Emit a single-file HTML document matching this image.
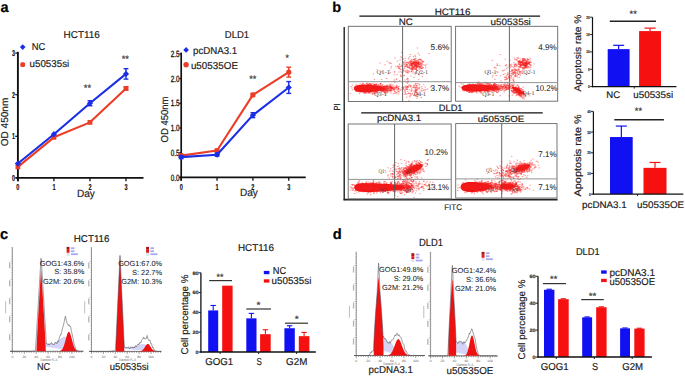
<!DOCTYPE html>
<html><head><meta charset="utf-8"><style>
html,body{margin:0;padding:0;background:#fff;}
body{width:685px;height:376px;overflow:hidden;}
svg{display:block;font-family:"Liberation Sans",sans-serif;text-rendering:geometricPrecision;}
</style></head><body>
<svg width="685" height="376" viewBox="0 0 685 376">
<rect width="685" height="376" fill="#fff"/>
<text x="0.40" y="11.60" font-size="14.5" font-weight="bold" fill="#000" stroke="#000" stroke-width="0.18">a</text>
<text x="63.60" y="38.30" font-size="10" textLength="36.2" lengthAdjust="spacingAndGlyphs" fill="#1a1a1a" stroke="#1a1a1a" stroke-width="0.18">HCT116</text>
<line x1="17.90" y1="51.80" x2="17.90" y2="181.20" stroke="#111" stroke-width="1.9"/>
<line x1="15.80" y1="177.90" x2="143.50" y2="177.90" stroke="#111" stroke-width="1.9"/>
<line x1="15.20" y1="177.90" x2="17.90" y2="177.90" stroke="#111" stroke-width="1.2"/>
<text x="13.50" y="180.70" font-size="8.6" font-weight="bold" text-anchor="middle" textLength="3.0" lengthAdjust="spacingAndGlyphs" fill="#111" stroke="#111" stroke-width="0.18">0</text>
<line x1="15.20" y1="136.30" x2="17.90" y2="136.30" stroke="#111" stroke-width="1.2"/>
<text x="13.50" y="139.10" font-size="8.6" font-weight="bold" text-anchor="middle" textLength="3.0" lengthAdjust="spacingAndGlyphs" fill="#111" stroke="#111" stroke-width="0.18">1</text>
<line x1="15.20" y1="94.70" x2="17.90" y2="94.70" stroke="#111" stroke-width="1.2"/>
<text x="13.50" y="97.50" font-size="8.6" font-weight="bold" text-anchor="middle" textLength="3.0" lengthAdjust="spacingAndGlyphs" fill="#111" stroke="#111" stroke-width="0.18">2</text>
<line x1="15.20" y1="53.10" x2="17.90" y2="53.10" stroke="#111" stroke-width="1.2"/>
<text x="13.50" y="55.90" font-size="8.6" font-weight="bold" text-anchor="middle" textLength="3.0" lengthAdjust="spacingAndGlyphs" fill="#111" stroke="#111" stroke-width="0.18">3</text>
<line x1="17.90" y1="177.90" x2="17.90" y2="181.30" stroke="#111" stroke-width="1.3"/>
<text x="17.90" y="189.80" font-size="8.6" font-weight="bold" text-anchor="middle" textLength="3.1" lengthAdjust="spacingAndGlyphs" fill="#111" stroke="#111" stroke-width="0.18">0</text>
<line x1="53.93" y1="177.90" x2="53.93" y2="181.30" stroke="#111" stroke-width="1.3"/>
<text x="53.93" y="189.80" font-size="8.6" font-weight="bold" text-anchor="middle" textLength="3.1" lengthAdjust="spacingAndGlyphs" fill="#111" stroke="#111" stroke-width="0.18">1</text>
<line x1="89.96" y1="177.90" x2="89.96" y2="181.30" stroke="#111" stroke-width="1.3"/>
<text x="89.96" y="189.80" font-size="8.6" font-weight="bold" text-anchor="middle" textLength="3.1" lengthAdjust="spacingAndGlyphs" fill="#111" stroke="#111" stroke-width="0.18">2</text>
<line x1="125.99" y1="177.90" x2="125.99" y2="181.30" stroke="#111" stroke-width="1.3"/>
<text x="125.99" y="189.80" font-size="8.6" font-weight="bold" text-anchor="middle" textLength="3.1" lengthAdjust="spacingAndGlyphs" fill="#111" stroke="#111" stroke-width="0.18">3</text>
<text x="76.90" y="196.60" font-size="10.5" textLength="17.9" lengthAdjust="spacingAndGlyphs" fill="#222" stroke="#222" stroke-width="0.18">Day</text>
<text transform="translate(7.60,122.00) rotate(-90)" font-size="10" text-anchor="middle" textLength="48.5" lengthAdjust="spacingAndGlyphs" fill="#222" stroke="#222" stroke-width="0.18">OD 450nm</text>
<polyline points="17.90,166.88 53.93,137.34 89.96,122.36 125.99,88.46" fill="none" stroke="#ec3d28" stroke-width="2.1" stroke-linejoin="round"/>
<rect x="15.50" y="164.48" width="4.80" height="4.80" fill="#ec3d28"/>
<rect x="51.53" y="134.94" width="4.80" height="4.80" fill="#ec3d28"/>
<rect x="87.56" y="119.96" width="4.80" height="4.80" fill="#ec3d28"/>
<line x1="125.99" y1="86.80" x2="125.99" y2="90.12" stroke="#ec3d28" stroke-width="1.4"/>
<line x1="123.59" y1="86.80" x2="128.39" y2="86.80" stroke="#ec3d28" stroke-width="1.4"/>
<line x1="123.59" y1="90.12" x2="128.39" y2="90.12" stroke="#ec3d28" stroke-width="1.4"/>
<rect x="123.59" y="86.06" width="4.80" height="4.80" fill="#ec3d28"/>
<polyline points="17.90,163.55 53.93,134.22 89.96,103.23 125.99,73.90" fill="none" stroke="#1a2ee6" stroke-width="2.1" stroke-linejoin="round"/>
<path d="M17.90 160.45l3.1 3.1-3.1 3.1-3.1-3.1z" fill="#1a2ee6"/>
<path d="M53.93 131.12l3.1 3.1-3.1 3.1-3.1-3.1z" fill="#1a2ee6"/>
<line x1="89.96" y1="100.73" x2="89.96" y2="105.72" stroke="#1a2ee6" stroke-width="1.4"/>
<line x1="87.56" y1="100.73" x2="92.36" y2="100.73" stroke="#1a2ee6" stroke-width="1.4"/>
<line x1="87.56" y1="105.72" x2="92.36" y2="105.72" stroke="#1a2ee6" stroke-width="1.4"/>
<path d="M89.96 100.13l3.1 3.1-3.1 3.1-3.1-3.1z" fill="#1a2ee6"/>
<line x1="125.99" y1="68.70" x2="125.99" y2="79.10" stroke="#1a2ee6" stroke-width="1.4"/>
<line x1="123.59" y1="68.70" x2="128.39" y2="68.70" stroke="#1a2ee6" stroke-width="1.4"/>
<line x1="123.59" y1="79.10" x2="128.39" y2="79.10" stroke="#1a2ee6" stroke-width="1.4"/>
<path d="M125.99 70.80l3.1 3.1-3.1 3.1-3.1-3.1z" fill="#1a2ee6"/>
<path d="M22.7 44.3l2.8 2.8-2.8 2.8-2.8-2.8z" fill="#1a2ee6"/>
<text x="31.70" y="50.30" font-size="10" textLength="13.6" lengthAdjust="spacingAndGlyphs" fill="#1a1a1a" stroke="#1a1a1a" stroke-width="0.18">NC</text>
<rect x="20.30" y="62.20" width="4.80" height="4.80" fill="#ec3d28" rx="1.6"/>
<text x="29.60" y="67.30" font-size="10" textLength="39.6" lengthAdjust="spacingAndGlyphs" fill="#1a1a1a" stroke="#1a1a1a" stroke-width="0.18">u50535si</text>
<text x="87.40" y="91.40" font-size="9.4" text-anchor="middle" textLength="7.2" lengthAdjust="spacingAndGlyphs" fill="#333" stroke="#333" stroke-width="0.18">**</text>
<text x="125.30" y="62.40" font-size="9.4" text-anchor="middle" textLength="7.2" lengthAdjust="spacingAndGlyphs" fill="#333" stroke="#333" stroke-width="0.18">**</text>
<text x="224.80" y="38.30" font-size="10" textLength="24.2" lengthAdjust="spacingAndGlyphs" fill="#1a1a1a" stroke="#1a1a1a" stroke-width="0.18">DLD1</text>
<line x1="181.20" y1="52.60" x2="181.20" y2="180.70" stroke="#111" stroke-width="1.7"/>
<line x1="179.40" y1="177.40" x2="305.70" y2="177.40" stroke="#111" stroke-width="1.8"/>
<line x1="179.30" y1="177.40" x2="181.20" y2="177.40" stroke="#111" stroke-width="1.2"/>
<text x="179.60" y="180.50" font-size="9.0" text-anchor="end" textLength="8.8" lengthAdjust="spacingAndGlyphs" fill="#111" stroke="#111" stroke-width="0.3">0.0</text>
<line x1="179.30" y1="152.70" x2="181.20" y2="152.70" stroke="#111" stroke-width="1.2"/>
<text x="179.60" y="155.80" font-size="9.0" text-anchor="end" textLength="8.8" lengthAdjust="spacingAndGlyphs" fill="#111" stroke="#111" stroke-width="0.3">0.5</text>
<line x1="179.30" y1="128.00" x2="181.20" y2="128.00" stroke="#111" stroke-width="1.2"/>
<text x="179.60" y="131.10" font-size="9.0" text-anchor="end" textLength="8.8" lengthAdjust="spacingAndGlyphs" fill="#111" stroke="#111" stroke-width="0.3">1.0</text>
<line x1="179.30" y1="103.30" x2="181.20" y2="103.30" stroke="#111" stroke-width="1.2"/>
<text x="179.60" y="106.40" font-size="9.0" text-anchor="end" textLength="8.8" lengthAdjust="spacingAndGlyphs" fill="#111" stroke="#111" stroke-width="0.3">1.5</text>
<line x1="179.30" y1="78.60" x2="181.20" y2="78.60" stroke="#111" stroke-width="1.2"/>
<text x="179.60" y="81.70" font-size="9.0" text-anchor="end" textLength="8.8" lengthAdjust="spacingAndGlyphs" fill="#111" stroke="#111" stroke-width="0.3">2.0</text>
<line x1="179.30" y1="53.90" x2="181.20" y2="53.90" stroke="#111" stroke-width="1.2"/>
<text x="179.60" y="57.00" font-size="9.0" text-anchor="end" textLength="8.8" lengthAdjust="spacingAndGlyphs" fill="#111" stroke="#111" stroke-width="0.3">2.5</text>
<line x1="181.20" y1="177.40" x2="181.20" y2="180.70" stroke="#111" stroke-width="1.3"/>
<text x="181.20" y="189.60" font-size="8.6" font-weight="bold" text-anchor="middle" textLength="3.1" lengthAdjust="spacingAndGlyphs" fill="#111" stroke="#111" stroke-width="0.18">0</text>
<line x1="217.05" y1="177.40" x2="217.05" y2="180.70" stroke="#111" stroke-width="1.3"/>
<text x="217.05" y="189.60" font-size="8.6" font-weight="bold" text-anchor="middle" textLength="3.1" lengthAdjust="spacingAndGlyphs" fill="#111" stroke="#111" stroke-width="0.18">1</text>
<line x1="252.90" y1="177.40" x2="252.90" y2="180.70" stroke="#111" stroke-width="1.3"/>
<text x="252.90" y="189.60" font-size="8.6" font-weight="bold" text-anchor="middle" textLength="3.1" lengthAdjust="spacingAndGlyphs" fill="#111" stroke="#111" stroke-width="0.18">2</text>
<line x1="288.75" y1="177.40" x2="288.75" y2="180.70" stroke="#111" stroke-width="1.3"/>
<text x="288.75" y="189.60" font-size="8.6" font-weight="bold" text-anchor="middle" textLength="3.1" lengthAdjust="spacingAndGlyphs" fill="#111" stroke="#111" stroke-width="0.18">3</text>
<text x="240.00" y="196.40" font-size="10.5" textLength="17.9" lengthAdjust="spacingAndGlyphs" fill="#222" stroke="#222" stroke-width="0.18">Day</text>
<text transform="translate(167.80,119.50) rotate(-90)" font-size="10" text-anchor="middle" textLength="46.0" lengthAdjust="spacingAndGlyphs" fill="#222" stroke="#222" stroke-width="0.18">OD 450nm</text>
<polyline points="181.20,155.66 217.05,150.48 252.90,94.90 288.75,72.18" fill="none" stroke="#ec3d28" stroke-width="2.1" stroke-linejoin="round"/>
<line x1="181.20" y1="154.18" x2="181.20" y2="157.15" stroke="#ec3d28" stroke-width="1.4"/>
<line x1="178.80" y1="154.18" x2="183.60" y2="154.18" stroke="#ec3d28" stroke-width="1.4"/>
<line x1="178.80" y1="157.15" x2="183.60" y2="157.15" stroke="#ec3d28" stroke-width="1.4"/>
<circle cx="181.20" cy="155.66" r="2.6" fill="#ec3d28"/>
<line x1="217.05" y1="149.00" x2="217.05" y2="151.96" stroke="#ec3d28" stroke-width="1.4"/>
<line x1="214.65" y1="149.00" x2="219.45" y2="149.00" stroke="#ec3d28" stroke-width="1.4"/>
<line x1="214.65" y1="151.96" x2="219.45" y2="151.96" stroke="#ec3d28" stroke-width="1.4"/>
<circle cx="217.05" cy="150.48" r="2.6" fill="#ec3d28"/>
<line x1="252.90" y1="93.42" x2="252.90" y2="96.38" stroke="#ec3d28" stroke-width="1.4"/>
<line x1="250.50" y1="93.42" x2="255.30" y2="93.42" stroke="#ec3d28" stroke-width="1.4"/>
<line x1="250.50" y1="96.38" x2="255.30" y2="96.38" stroke="#ec3d28" stroke-width="1.4"/>
<circle cx="252.90" cy="94.90" r="2.6" fill="#ec3d28"/>
<line x1="288.75" y1="67.24" x2="288.75" y2="77.12" stroke="#ec3d28" stroke-width="1.4"/>
<line x1="286.35" y1="67.24" x2="291.15" y2="67.24" stroke="#ec3d28" stroke-width="1.4"/>
<line x1="286.35" y1="77.12" x2="291.15" y2="77.12" stroke="#ec3d28" stroke-width="1.4"/>
<circle cx="288.75" cy="72.18" r="2.6" fill="#ec3d28"/>
<polyline points="181.20,157.15 217.05,154.68 252.90,115.16 288.75,87.49" fill="none" stroke="#1a2ee6" stroke-width="2.1" stroke-linejoin="round"/>
<line x1="181.20" y1="155.66" x2="181.20" y2="158.63" stroke="#1a2ee6" stroke-width="1.4"/>
<line x1="178.80" y1="155.66" x2="183.60" y2="155.66" stroke="#1a2ee6" stroke-width="1.4"/>
<line x1="178.80" y1="158.63" x2="183.60" y2="158.63" stroke="#1a2ee6" stroke-width="1.4"/>
<path d="M181.20 154.05l3.1 3.1-3.1 3.1-3.1-3.1z" fill="#1a2ee6"/>
<line x1="217.05" y1="153.19" x2="217.05" y2="156.16" stroke="#1a2ee6" stroke-width="1.4"/>
<line x1="214.65" y1="153.19" x2="219.45" y2="153.19" stroke="#1a2ee6" stroke-width="1.4"/>
<line x1="214.65" y1="156.16" x2="219.45" y2="156.16" stroke="#1a2ee6" stroke-width="1.4"/>
<path d="M217.05 151.58l3.1 3.1-3.1 3.1-3.1-3.1z" fill="#1a2ee6"/>
<line x1="252.90" y1="112.69" x2="252.90" y2="117.63" stroke="#1a2ee6" stroke-width="1.4"/>
<line x1="250.50" y1="112.69" x2="255.30" y2="112.69" stroke="#1a2ee6" stroke-width="1.4"/>
<line x1="250.50" y1="117.63" x2="255.30" y2="117.63" stroke="#1a2ee6" stroke-width="1.4"/>
<path d="M252.90 112.06l3.1 3.1-3.1 3.1-3.1-3.1z" fill="#1a2ee6"/>
<line x1="288.75" y1="81.56" x2="288.75" y2="93.42" stroke="#1a2ee6" stroke-width="1.4"/>
<line x1="286.35" y1="81.56" x2="291.15" y2="81.56" stroke="#1a2ee6" stroke-width="1.4"/>
<line x1="286.35" y1="93.42" x2="291.15" y2="93.42" stroke="#1a2ee6" stroke-width="1.4"/>
<path d="M288.75 84.39l3.1 3.1-3.1 3.1-3.1-3.1z" fill="#1a2ee6"/>
<path d="M186.1 47.1l2.8 2.8-2.8 2.8-2.8-2.8z" fill="#1a2ee6"/>
<text x="193.00" y="53.60" font-size="10" textLength="44.2" lengthAdjust="spacingAndGlyphs" fill="#1a1a1a" stroke="#1a1a1a" stroke-width="0.18">pcDNA3.1</text>
<circle cx="186.1" cy="64.7" r="2.7" fill="#ec3d28"/>
<text x="190.90" y="69.30" font-size="10" textLength="47.1" lengthAdjust="spacingAndGlyphs" fill="#1a1a1a" stroke="#1a1a1a" stroke-width="0.18">u50535OE</text>
<text x="252.80" y="81.80" font-size="9.4" text-anchor="middle" textLength="7.2" lengthAdjust="spacingAndGlyphs" fill="#333" stroke="#333" stroke-width="0.18">**</text>
<text x="287.10" y="61.30" font-size="9.4" text-anchor="middle" textLength="3.4" lengthAdjust="spacingAndGlyphs" fill="#333" stroke="#333" stroke-width="0.18">*</text>
<text x="332.30" y="11.60" font-size="14.5" font-weight="bold" fill="#000" stroke="#000" stroke-width="0.18">b</text>
<text x="434.70" y="14.90" font-size="9.2" textLength="35.8" lengthAdjust="spacingAndGlyphs" fill="#1a1a1a" stroke="#1a1a1a" stroke-width="0.18">HCT116</text>
<line x1="359.40" y1="16.10" x2="540.10" y2="16.10" stroke="#111" stroke-width="1.4"/>
<text x="398.70" y="25.10" font-size="9.4" textLength="14.1" lengthAdjust="spacingAndGlyphs" fill="#1a1a1a" stroke="#1a1a1a" stroke-width="0.18">NC</text>
<text x="490.60" y="24.90" font-size="9.2" textLength="40.2" lengthAdjust="spacingAndGlyphs" fill="#1a1a1a" stroke="#1a1a1a" stroke-width="0.18">u50535si</text>
<text x="438.80" y="111.00" font-size="9.2" textLength="23.7" lengthAdjust="spacingAndGlyphs" fill="#1a1a1a" stroke="#1a1a1a" stroke-width="0.18">DLD1</text>
<line x1="361.20" y1="112.90" x2="542.70" y2="112.90" stroke="#111" stroke-width="1.4"/>
<text x="377.00" y="120.60" font-size="9.0" textLength="44.2" lengthAdjust="spacingAndGlyphs" fill="#1a1a1a" stroke="#1a1a1a" stroke-width="0.18">pcDNA3.1</text>
<text x="477.70" y="121.80" font-size="9.0" textLength="46.5" lengthAdjust="spacingAndGlyphs" fill="#1a1a1a" stroke="#1a1a1a" stroke-width="0.18">u50535OE</text>
<line x1="344.20" y1="27.00" x2="344.20" y2="200.30" stroke="#111" stroke-width="1.3"/>
<line x1="343.60" y1="199.70" x2="557.60" y2="199.70" stroke="#222" stroke-width="1.7"/>
<text transform="translate(339.70,106.90) rotate(-90)" font-size="8.8" text-anchor="middle" textLength="7.0" lengthAdjust="spacingAndGlyphs" fill="#222" stroke="#222" stroke-width="0.18">PI</text>
<text x="444.20" y="209.70" font-size="8.1" textLength="17.7" lengthAdjust="spacingAndGlyphs" fill="#222" stroke="#222" stroke-width="0.1">FITC</text>
<path d="M354 88.4C354 85.6 358 84.6 366 84.8C375 85.2 382 86.4 386 88.4C382 90.5 375 91.8 366 92.2C358 92.4 354 91.2 354 88.4Z" fill="#f31111"/>
<path d="M370.0 90.7h.4M372.1 86.5h.4M368.1 86.6h.4M363.8 88.8h.4M366.8 86.9h.4M363.1 89.8h.4M370.4 88.9h.4M379.4 86.5h.4M366.6 88.6h.4M365.7 87.7h.4M373.4 90.3h.4M372.5 87.1h.4M370.7 87.5h.4M363.5 90.9h.4M369.8 93.1h.4M374.9 92.6h.4M360.6 88.5h.4M366.8 88.9h.4M356.7 91.6h.4M361.0 88.1h.4M357.1 86.3h.4M368.4 88.6h.4M361.1 89.3h.4M371.9 86.7h.4M371.1 84.9h.4M368.7 85.4h.4M352.4 89.8h.4M366.2 86.8h.4M369.7 88.1h.4M370.8 88.8h.4M359.3 89.7h.4M366.7 87.7h.4M363.2 89.4h.4M364.3 86.5h.4M377.4 87.6h.4M364.3 86.2h.4M369.8 90.8h.4M376.2 88.3h.4M365.9 86.8h.4M369.2 87.7h.4M370.8 87.9h.4M370.4 89.9h.4M361.4 85.0h.4M370.5 86.2h.4M379.5 87.6h.4M359.2 93.7h.4M376.0 90.4h.4M370.8 88.2h.4M365.5 89.9h.4M384.0 92.7h.4M375.3 87.9h.4M361.6 87.6h.4M370.5 90.9h.4M374.0 89.4h.4M368.7 89.8h.4M374.8 87.3h.4M369.5 92.4h.4M374.7 92.0h.4M380.1 89.6h.4M365.3 89.8h.4M371.4 84.1h.4M366.8 89.7h.4M370.9 88.0h.4M361.7 89.3h.4M365.9 89.8h.4M368.6 87.7h.4M376.3 84.8h.4M378.0 89.2h.4M360.7 86.8h.4M364.4 87.7h.4M374.5 87.1h.4M356.1 87.7h.4M366.8 83.6h.4M369.3 91.0h.4M378.8 88.9h.4M374.8 90.7h.4M367.7 92.6h.4M367.4 88.4h.4M368.2 84.6h.4M380.7 86.5h.4M367.0 85.9h.4M367.9 87.3h.4M372.5 88.6h.4M369.2 84.2h.4M368.6 89.1h.4M362.2 85.2h.4M369.9 89.0h.4M366.9 88.2h.4M378.2 87.7h.4M374.6 88.2h.4M369.8 87.3h.4M374.7 87.1h.4M367.6 84.9h.4M377.4 88.3h.4M370.0 92.3h.4M374.1 92.6h.4M361.0 91.2h.4M372.4 89.9h.4M358.2 87.0h.4M355.8 91.4h.4M367.9 88.3h.4M363.7 88.3h.4M371.1 87.8h.4M385.7 88.6h.4M364.2 87.5h.4M365.6 88.2h.4M371.4 86.1h.4M373.5 87.6h.4M368.8 93.2h.4M368.6 88.3h.4M374.9 87.9h.4M373.6 89.5h.4M362.8 89.9h.4M369.4 86.1h.4M370.2 88.0h.4M362.6 90.3h.4M371.8 89.0h.4M364.0 88.7h.4M376.8 91.7h.4M371.3 87.0h.4M370.6 88.6h.4M365.9 87.3h.4M369.2 91.5h.4M356.0 84.3h.4M362.1 87.0h.4M372.5 87.3h.4M355.1 89.8h.4M375.9 89.7h.4M357.8 91.3h.4M375.3 85.1h.4M364.1 90.0h.4M375.5 87.8h.4M370.9 87.0h.4M359.2 89.5h.4M378.7 86.5h.4M380.1 84.0h.4M369.5 87.6h.4M368.1 85.3h.4M368.9 87.0h.4M363.2 89.2h.4M377.7 89.1h.4M366.2 91.7h.4M369.6 88.0h.4M364.4 85.2h.4M365.6 86.8h.4M361.1 86.5h.4M378.8 85.8h.4M368.9 89.3h.4M376.8 87.0h.4M370.1 84.2h.4M365.1 89.9h.4M367.7 88.2h.4M366.1 89.1h.4M370.1 88.6h.4M367.4 89.7h.4M367.9 88.5h.4M360.3 91.0h.4M364.4 89.3h.4M381.6 89.2h.4M365.3 89.3h.4M362.6 85.3h.4M372.4 88.1h.4M379.9 87.9h.4M359.8 88.8h.4M368.5 85.5h.4M365.6 91.8h.4M357.7 88.6h.4M375.1 85.9h.4M369.8 84.8h.4M370.5 87.8h.4M364.7 88.2h.4M373.2 86.9h.4M366.2 88.6h.4M369.0 87.1h.4M362.2 89.6h.4M361.5 86.9h.4M379.3 88.3h.4M366.5 90.5h.4M372.0 93.8h.4M369.8 86.3h.4M366.9 87.4h.4M366.4 86.6h.4M374.4 90.0h.4M367.9 86.0h.4M368.9 87.4h.4M370.2 88.3h.4M378.2 86.3h.4M374.8 86.4h.4M372.7 87.4h.4M366.1 84.0h.4M360.3 85.4h.4M376.6 87.5h.4M376.8 88.7h.4M369.0 88.0h.4M373.8 84.7h.4M375.5 87.4h.4M375.8 90.1h.4M376.4 89.6h.4M366.8 88.2h.4M380.6 86.5h.4M361.3 89.7h.4M376.0 87.2h.4M373.5 85.9h.4M376.1 86.7h.4M383.2 91.4h.4M380.4 88.9h.4M362.0 90.8h.4M358.2 87.4h.4M375.7 90.4h.4M362.9 87.1h.4M369.9 88.1h.4M375.9 93.6h.4M358.5 90.0h.4M355.2 87.3h.4M371.8 88.2h.4M370.3 89.1h.4M368.3 90.9h.4M370.3 87.4h.4M364.0 84.7h.4M359.4 87.8h.4M368.8 88.4h.4M363.2 88.6h.4M358.5 91.2h.4M373.5 89.1h.4M369.6 90.1h.4M372.8 86.1h.4M363.1 90.2h.4M365.4 92.8h.4M363.0 90.0h.4M363.8 88.9h.4M371.4 88.7h.4M364.5 92.2h.4M372.5 86.5h.4M372.4 88.2h.4M384.2 89.4h.4M360.3 90.0h.4M376.2 87.5h.4M369.4 89.0h.4M369.9 87.8h.4M359.9 88.7h.4M366.8 88.1h.4M375.2 86.0h.4M369.4 88.4h.4M370.6 90.2h.4M368.0 86.4h.4M378.1 87.9h.4M369.8 89.8h.4M354.6 86.2h.4M365.2 88.8h.4M356.2 86.2h.4M366.3 93.3h.4M379.3 92.6h.4M370.3 87.9h.4M361.8 90.0h.4M363.4 88.7h.4M377.9 88.6h.4M371.1 91.7h.4M370.3 85.6h.4M369.6 90.6h.4M370.3 88.3h.4M375.6 91.4h.4M373.9 88.8h.4M371.5 87.0h.4M362.7 89.0h.4M373.6 89.9h.4M365.2 88.5h.4M377.7 89.4h.4M361.1 87.3h.4M369.0 83.9h.4M369.9 90.3h.4M360.7 89.9h.4M382.1 88.7h.4M380.2 88.5h.4M366.8 90.6h.4M375.4 87.4h.4M372.7 86.9h.4M351.7 88.0h.4M371.8 90.9h.4M369.6 85.5h.4M370.6 90.9h.4M362.5 87.1h.4M368.1 86.1h.4M368.8 91.0h.4M378.3 88.2h.4M372.3 85.7h.4M370.0 87.6h.4M380.7 90.4h.4M366.1 90.9h.4M367.3 87.5h.4M357.3 89.3h.4M381.0 89.9h.4M376.8 87.0h.4M376.4 89.1h.4M374.7 88.3h.4M370.8 87.3h.4M371.5 87.4h.4M368.2 88.5h.4M368.6 88.5h.4M370.4 87.2h.4M380.6 87.5h.4M373.9 90.7h.4M369.6 88.8h.4M365.9 90.3h.4M365.6 90.9h.4M381.2 89.6h.4M373.5 93.2h.4M370.5 86.7h.4M367.6 90.1h.4M362.2 87.7h.4M369.5 92.3h.4M376.1 92.0h.4M367.3 84.3h.4M368.4 86.4h.4M368.5 89.8h.4M370.8 90.1h.4M358.8 89.9h.4M368.4 88.3h.4M364.0 89.4h.4M376.2 89.8h.4M364.6 88.2h.4M374.0 90.6h.4M380.7 83.7h.4M367.8 89.7h.4M365.8 86.2h.4M371.3 90.4h.4M370.0 87.9h.4M363.0 86.5h.4M373.2 89.2h.4M384.1 86.5h.4M368.2 86.5h.4M368.6 85.1h.4M362.7 88.3h.4M372.2 89.4h.4M361.3 90.5h.4M362.3 88.1h.4M379.0 90.6h.4M363.7 88.4h.4M377.6 88.2h.4M380.7 89.6h.4M371.8 90.6h.4M373.9 87.7h.4M383.7 87.9h.4M368.6 88.1h.4M365.8 88.6h.4M360.5 86.5h.4M370.3 90.6h.4M380.4 87.6h.4M376.7 89.4h.4M363.4 86.7h.4M364.0 89.2h.4M366.5 89.2h.4M372.0 87.5h.4M368.6 92.6h.4M371.5 89.2h.4M372.1 92.1h.4M367.9 90.4h.4M369.7 87.0h.4M371.4 87.6h.4M369.4 89.3h.4M373.5 88.5h.4M383.1 88.5h.4M374.1 87.8h.4M370.4 84.6h.4M358.2 87.9h.4M372.7 83.7h.4M356.4 89.2h.4M360.1 86.9h.4M376.0 86.9h.4M374.9 87.9h.4M369.0 89.0h.4M358.0 85.4h.4M367.4 84.7h.4M365.2 86.2h.4M374.5 84.1h.4M385.8 86.4h.4M371.5 91.7h.4M364.5 86.2h.4M361.8 89.8h.4M369.6 85.5h.4M368.8 89.0h.4M361.9 87.7h.4M370.8 88.3h.4M361.9 89.6h.4M377.8 92.1h.4M377.4 88.8h.4M377.6 88.7h.4M366.7 86.4h.4M373.6 89.6h.4M369.1 87.9h.4M367.3 90.1h.4M367.6 88.3h.4M360.9 92.1h.4M359.9 84.2h.4M375.6 87.8h.4M368.7 90.3h.4M371.5 87.7h.4M377.0 86.7h.4M357.9 87.8h.4M364.5 85.5h.4M371.2 88.6h.4M372.7 93.5h.4M367.4 90.8h.4M377.2 86.1h.4M371.5 86.6h.4M361.5 87.6h.4M363.5 90.5h.4M375.6 86.7h.4M373.2 87.0h.4M356.7 90.3h.4M379.4 90.2h.4M374.2 87.6h.4M379.4 86.1h.4M367.3 85.1h.4M367.9 86.9h.4M362.1 83.7h.4M387.8 90.0h.4M368.8 87.1h.4M381.1 89.4h.4M365.5 92.3h.4M371.1 90.9h.4M358.3 86.0h.4M367.3 90.2h.4M376.9 90.8h.4M361.2 86.8h.4M377.5 86.4h.4M372.4 88.2h.4M362.7 85.0h.4M366.5 91.5h.4M366.8 83.3h.4M369.7 86.1h.4M366.2 87.8h.4M364.2 87.9h.4M367.9 88.7h.4M362.8 89.0h.4M361.0 88.0h.4M369.7 90.8h.4M376.2 83.9h.4M359.3 88.4h.4M370.0 86.9h.4M365.5 88.7h.4M363.2 88.9h.4M376.0 86.5h.4M366.4 87.1h.4M380.5 90.1h.4M364.5 89.1h.4M372.7 87.0h.4M368.4 92.7h.4M364.7 93.2h.4M374.1 85.3h.4M368.9 89.0h.4M374.2 93.7h.4M369.7 90.0h.4M362.4 88.9h.4M369.3 88.0h.4M370.4 87.3h.4M376.7 88.0h.4M363.7 87.2h.4M369.7 90.0h.4M357.9 87.6h.4M374.6 87.5h.4M362.4 85.9h.4M357.4 88.3h.4M369.6 86.5h.4M377.7 88.0h.4M359.3 90.6h.4M362.4 89.2h.4M364.8 89.5h.4M362.1 89.1h.4M372.7 88.5h.4M364.3 88.1h.4M364.9 87.8h.4M374.1 90.0h.4M364.7 86.1h.4M373.0 91.2h.4M363.2 88.5h.4M361.5 86.8h.4M357.2 87.4h.4M383.0 87.0h.4M367.8 88.7h.4M371.7 86.9h.4M369.8 90.8h.4M371.1 86.8h.4M370.3 83.6h.4M383.4 86.9h.4M362.7 84.2h.4M359.1 88.3h.4M362.9 90.6h.4M360.7 89.8h.4M375.2 85.6h.4M375.7 86.8h.4M363.3 92.1h.4M360.3 89.1h.4M367.5 88.4h.4M379.7 90.6h.4M350.3 93.6h.4M373.7 91.1h.4M362.5 88.7h.4M377.3 89.1h.4M362.5 89.7h.4M368.0 87.1h.4M359.5 86.2h.4M363.2 88.5h.4M379.7 86.4h.4M375.7 88.3h.4M367.2 88.6h.4M363.9 93.3h.4M356.7 86.6h.4M367.2 88.1h.4M369.8 88.1h.4M369.4 89.3h.4M369.3 90.6h.4M362.1 87.4h.4M369.5 86.7h.4M369.7 85.0h.4M379.0 86.5h.4M383.1 89.5h.4M369.0 88.5h.4M364.6 86.3h.4M369.5 87.6h.4M365.7 88.5h.4M364.8 89.5h.4M369.6 87.2h.4M362.7 87.9h.4M374.2 84.6h.4M369.3 86.0h.4M371.8 91.8h.4M368.7 83.8h.4M364.9 87.7h.4M363.4 88.9h.4M368.3 87.6h.4M366.2 86.7h.4M371.6 88.3h.4M370.0 88.4h.4M360.5 88.2h.4M370.5 84.5h.4M360.6 88.1h.4M365.7 86.6h.4M367.9 87.2h.4M355.5 88.9h.4M370.6 89.7h.4M371.1 90.3h.4M368.9 87.4h.4M367.0 90.3h.4M367.4 90.9h.4M363.2 90.8h.4M368.1 91.3h.4M366.1 88.1h.4M370.6 88.0h.4M361.6 90.1h.4M371.6 85.5h.4M371.0 88.8h.4M369.0 87.3h.4M366.9 87.6h.4M373.9 84.7h.4M358.3 86.5h.4M373.2 88.4h.4M371.7 90.3h.4M372.0 90.5h.4M372.7 88.2h.4M365.4 88.0h.4M368.2 86.7h.4M374.5 89.2h.4M373.0 87.9h.4M371.4 89.7h.4M359.4 92.1h.4M373.8 88.3h.4M378.2 85.3h.4M377.1 86.6h.4M371.6 85.3h.4M359.1 85.9h.4M376.6 91.1h.4M369.0 88.9h.4M352.3 85.2h.4M372.6 89.8h.4M359.6 91.0h.4M360.9 87.6h.4M365.6 87.0h.4M378.9 87.7h.4M367.4 89.0h.4M371.9 89.7h.4M382.2 90.9h.4M381.2 90.9h.4M369.3 90.9h.4M368.3 91.3h.4M361.2 89.8h.4M365.1 85.2h.4M373.0 88.1h.4M372.8 89.1h.4M370.8 87.6h.4M377.0 90.3h.4M364.6 87.6h.4M369.6 86.5h.4M375.1 91.4h.4M374.1 89.8h.4M377.5 88.9h.4M372.8 90.3h.4M367.8 90.6h.4M372.5 89.1h.4M363.0 83.2h.4M358.5 87.0h.4M374.1 87.4h.4M369.6 86.3h.4M372.2 88.8h.4M358.1 90.9h.4M367.4 87.4h.4M365.8 86.0h.4M364.0 92.7h.4M354.2 87.5h.4M367.7 85.8h.4M376.3 88.9h.4M372.7 89.3h.4M365.8 86.9h.4M369.9 90.1h.4M375.3 87.4h.4M350.7 86.5h.4M369.1 88.8h.4M373.8 90.0h.4M374.8 87.1h.4M381.9 89.1h.4M377.9 88.2h.4M372.2 94.3h.4M372.1 86.9h.4M375.5 91.3h.4M366.2 88.3h.4M369.7 88.1h.4M376.3 89.9h.4M383.7 90.3h.4M368.9 91.1h.4M369.7 89.1h.4M371.4 87.1h.4M379.4 87.3h.4M369.8 89.5h.4M380.3 89.6h.4M363.2 91.3h.4M368.7 89.3h.4M368.6 90.6h.4M375.5 91.6h.4M377.3 88.7h.4M359.4 85.3h.4M363.6 85.9h.4M372.4 85.4h.4M365.4 91.7h.4M359.3 86.6h.4M377.3 91.0h.4M373.5 89.6h.4M373.5 92.0h.4M366.7 90.5h.4M377.2 88.2h.4M368.3 88.0h.4M383.4 89.9h.4M383.9 88.4h.4M380.3 83.6h.4M382.8 88.6h.4M391.0 86.5h.4M374.5 87.7h.4M384.3 91.6h.4M378.5 86.4h.4M383.9 86.5h.4M387.2 91.4h.4M382.7 88.8h.4M386.9 91.6h.4M375.1 89.2h.4M388.5 86.9h.4M380.0 88.5h.4M386.1 91.0h.4M383.9 90.4h.4M370.1 88.6h.4M379.2 88.7h.4M384.1 88.4h.4M390.8 87.5h.4M384.4 92.4h.4M384.3 88.6h.4M375.9 86.4h.4M390.2 87.7h.4M392.0 90.0h.4M383.1 89.9h.4M381.9 88.3h.4M374.9 87.3h.4M387.4 88.6h.4M396.5 85.3h.4M386.6 86.1h.4M389.3 90.2h.4M385.7 87.7h.4M378.1 89.3h.4M389.7 91.0h.4M376.8 89.9h.4M381.9 88.6h.4M384.4 92.8h.4M387.4 89.9h.4M385.1 87.9h.4M384.9 90.0h.4M379.2 89.4h.4M376.6 86.9h.4M383.3 88.7h.4M379.4 88.3h.4M376.5 84.8h.4M376.7 88.3h.4M380.5 88.0h.4M373.7 87.7h.4M376.3 85.4h.4M374.8 87.9h.4M383.9 88.5h.4M385.0 88.8h.4M393.0 86.4h.4M375.5 89.8h.4M379.6 86.2h.4M387.6 88.2h.4M381.9 91.1h.4M381.4 87.2h.4M391.5 87.6h.4M381.3 90.7h.4M377.2 87.9h.4M376.4 88.0h.4M384.7 89.0h.4M384.5 90.6h.4M376.1 84.3h.4M378.1 87.0h.4M385.7 86.6h.4M385.9 86.5h.4M379.8 86.9h.4M386.1 87.0h.4M385.9 89.2h.4M374.1 86.9h.4M381.4 88.8h.4M385.1 89.4h.4M380.1 87.2h.4M372.3 88.9h.4M381.6 91.8h.4M386.8 89.2h.4M390.9 87.4h.4M372.0 88.5h.4M396.1 86.8h.4M377.4 89.1h.4M387.8 90.3h.4M389.2 87.0h.4M387.9 88.2h.4M383.7 90.8h.4M377.2 87.6h.4M386.1 89.0h.4M379.4 86.6h.4M370.4 87.0h.4M397.1 87.6h.4M386.5 92.7h.4M392.1 87.8h.4M378.4 87.6h.4M390.3 87.5h.4M390.9 88.3h.4M390.8 89.8h.4M382.9 89.0h.4M377.0 92.5h.4M382.1 89.0h.4M372.0 91.4h.4M374.5 89.1h.4M383.5 89.8h.4M378.0 85.9h.4M382.2 88.4h.4M382.5 88.5h.4M392.7 88.1h.4M389.5 84.5h.4M382.8 90.3h.4M389.0 87.9h.4M379.1 87.8h.4M381.3 88.1h.4M387.6 88.2h.4M376.8 89.4h.4M381.6 86.2h.4M376.4 86.8h.4M383.6 89.2h.4M391.2 88.9h.4M379.2 87.9h.4M384.1 87.5h.4M378.5 87.0h.4M377.3 88.5h.4M376.8 90.8h.4M390.3 86.6h.4M394.8 91.5h.4M385.4 90.2h.4M379.4 87.7h.4M386.5 90.1h.4M381.3 85.8h.4M387.0 85.3h.4M384.5 86.1h.4M384.4 87.8h.4M386.0 88.0h.4M380.1 87.6h.4M381.0 88.8h.4M374.4 84.5h.4M380.8 89.5h.4M375.9 85.9h.4M382.3 87.3h.4M378.2 87.8h.4M383.5 86.4h.4M385.3 86.0h.4M375.9 86.7h.4M378.9 88.6h.4M378.3 89.7h.4M386.7 89.7h.4M391.5 86.7h.4M387.3 87.1h.4M381.3 86.9h.4M390.3 89.5h.4M375.4 84.7h.4M390.5 91.0h.4M379.7 87.7h.4M369.1 87.1h.4M396.3 89.2h.4M390.9 90.6h.4M377.8 89.3h.4M383.8 90.6h.4M381.9 88.9h.4M383.5 90.9h.4M375.6 91.0h.4M379.6 88.4h.4M385.3 91.3h.4M384.1 88.9h.4M389.0 88.8h.4M383.4 86.8h.4M394.7 88.1h.4M379.4 90.1h.4M384.3 86.1h.4M373.4 89.8h.4M376.7 89.3h.4M389.6 89.1h.4M378.3 84.4h.4M385.7 88.4h.4M382.7 89.8h.4M377.8 87.2h.4M381.3 88.8h.4M380.4 84.1h.4M380.6 89.9h.4M386.8 87.3h.4M386.3 90.3h.4M380.1 85.1h.4M378.5 89.9h.4M384.4 88.1h.4M382.5 90.1h.4M388.1 86.8h.4M396.3 87.4h.4M387.2 92.9h.4M382.8 87.0h.4M382.1 87.3h.4M378.7 88.1h.4M378.5 86.7h.4M378.0 90.9h.4M381.0 91.9h.4M380.9 87.3h.4M386.7 85.3h.4M381.0 90.8h.4M382.0 90.7h.4M376.9 90.2h.4M391.2 90.8h.4M385.5 87.0h.4M391.9 88.3h.4M387.0 86.0h.4M390.4 85.9h.4M381.8 90.5h.4M386.6 87.3h.4M396.5 92.9h.4M376.9 88.7h.4M388.9 87.4h.4M391.5 90.1h.4M385.1 92.0h.4M386.8 89.5h.4M389.4 86.3h.4M379.6 89.3h.4M385.1 91.2h.4M378.6 87.7h.4M379.5 87.1h.4M379.8 90.5h.4M382.3 88.9h.4M383.7 86.5h.4M385.3 87.9h.4M375.7 87.2h.4M393.1 89.2h.4M388.9 88.8h.4M386.7 90.8h.4M381.2 89.9h.4M382.5 85.6h.4M385.8 89.4h.4M385.1 90.3h.4M374.4 89.5h.4M386.8 90.6h.4M397.9 87.6h.4M373.5 86.8h.4M388.1 90.4h.4M384.9 86.6h.4M382.4 84.5h.4M390.0 90.5h.4M376.9 87.2h.4M383.8 88.0h.4M390.5 85.9h.4M382.0 86.1h.4M380.9 86.4h.4M383.6 87.9h.4M380.7 89.3h.4M390.9 84.2h.4M378.3 90.0h.4M387.5 86.4h.4M376.6 86.6h.4M396.4 86.7h.4M392.6 87.7h.4M385.3 93.9h.4M402.2 89.0h.4M388.7 90.8h.4M394.2 86.0h.4M394.0 89.4h.4M400.1 90.2h.4M390.7 93.0h.4M398.0 86.8h.4M389.3 90.0h.4M398.6 89.3h.4M389.2 85.9h.4M391.2 88.5h.4M402.5 87.8h.4M394.6 82.7h.4M393.5 90.0h.4M404.2 89.9h.4M394.8 87.4h.4M388.9 85.2h.4M396.7 92.2h.4M387.1 89.2h.4M398.6 91.0h.4M399.0 92.0h.4M390.1 87.2h.4M389.9 90.5h.4M393.9 87.9h.4M393.1 88.3h.4M388.1 88.3h.4M395.8 88.5h.4M382.8 91.3h.4M390.8 88.8h.4M391.0 88.1h.4M391.6 87.8h.4M394.5 89.4h.4M386.9 86.3h.4M395.9 87.2h.4M392.1 88.4h.4M389.7 87.1h.4M386.2 88.2h.4M387.1 87.0h.4M394.8 93.5h.4M388.2 91.8h.4M393.3 89.6h.4M398.3 88.4h.4M398.2 94.0h.4M400.8 89.3h.4M391.5 88.3h.4M387.6 89.3h.4M398.1 89.3h.4M394.5 92.0h.4M398.6 88.5h.4M393.1 93.7h.4M399.0 86.3h.4M397.2 90.2h.4M396.6 86.0h.4M395.5 93.0h.4M395.0 87.7h.4M394.2 88.4h.4M394.1 90.8h.4M398.0 91.6h.4M390.4 85.7h.4M401.7 87.6h.4M392.5 85.0h.4M397.9 88.8h.4M392.5 88.2h.4M391.8 87.6h.4M403.2 86.8h.4M391.5 87.5h.4M386.6 86.6h.4M417.9 62.1h.4M421.3 65.2h.4M409.2 67.5h.4M415.6 66.4h.4M414.5 62.1h.4M417.7 62.7h.4M412.7 63.3h.4M415.5 64.4h.4M412.4 67.5h.4M418.4 61.1h.4M416.3 65.7h.4M415.4 66.1h.4M417.3 66.0h.4M415.1 65.7h.4M410.6 68.4h.4M418.1 65.8h.4M417.0 66.7h.4M415.5 66.0h.4M419.4 69.2h.4M420.3 59.6h.4M412.2 67.8h.4M413.3 63.8h.4M421.4 63.8h.4M421.0 62.0h.4M413.4 59.6h.4M411.9 63.5h.4M413.8 62.7h.4M414.3 65.8h.4M410.5 60.7h.4M416.1 68.2h.4M411.5 65.2h.4M411.8 63.9h.4M419.2 62.7h.4M413.6 62.5h.4M415.7 61.6h.4M418.2 63.1h.4M418.8 64.5h.4M414.8 64.0h.4M416.2 60.8h.4M413.1 63.8h.4M422.1 62.2h.4M418.3 64.9h.4M412.1 69.3h.4M416.0 66.1h.4M418.5 63.7h.4M417.7 60.3h.4M422.4 60.8h.4M420.8 60.1h.4M414.1 66.4h.4M415.7 62.5h.4M411.5 64.7h.4M416.9 62.9h.4M416.5 64.7h.4M425.5 68.1h.4M416.3 62.7h.4M408.7 63.6h.4M413.6 62.4h.4M416.4 66.8h.4M411.6 61.8h.4M413.0 61.6h.4M414.7 60.9h.4M417.2 60.8h.4M415.4 65.7h.4M412.9 71.2h.4M418.8 61.9h.4M414.1 67.0h.4M414.3 65.2h.4M411.2 61.6h.4M413.2 63.8h.4M418.3 63.9h.4M410.3 62.7h.4M415.8 69.5h.4M418.5 59.5h.4M414.7 65.5h.4M416.8 65.4h.4M412.1 63.0h.4M420.6 64.9h.4M419.9 66.8h.4M416.8 64.9h.4M409.9 65.6h.4M412.3 66.3h.4M419.4 59.2h.4M422.0 68.3h.4M417.0 70.4h.4M420.4 67.1h.4M413.9 67.1h.4M415.3 60.8h.4M416.0 64.2h.4M417.5 62.4h.4M410.6 63.0h.4M419.3 67.0h.4M420.6 62.4h.4M412.0 64.2h.4M411.3 59.5h.4M417.2 64.1h.4M413.7 64.7h.4M407.7 62.7h.4M418.8 62.6h.4M416.5 69.4h.4M414.3 61.4h.4M423.4 61.8h.4M416.5 62.4h.4M413.4 67.6h.4M416.4 70.0h.4M412.4 65.4h.4M413.3 62.6h.4M417.4 63.4h.4M414.1 67.3h.4M414.4 62.1h.4M421.8 68.3h.4M419.0 68.2h.4M418.8 64.7h.4M417.9 66.2h.4M417.7 66.4h.4M421.1 68.5h.4M415.9 61.8h.4M422.5 67.6h.4M412.7 63.5h.4M415.1 62.5h.4M411.2 64.8h.4M414.8 63.9h.4M417.8 61.9h.4M421.1 60.3h.4M413.7 62.1h.4M416.0 68.3h.4M414.7 69.6h.4M413.4 66.2h.4M411.8 67.6h.4M416.2 63.2h.4M409.9 64.3h.4M416.4 65.2h.4M416.1 61.7h.4M413.7 61.9h.4M412.5 64.8h.4M411.2 63.7h.4M422.5 61.7h.4M411.3 65.5h.4M421.5 63.8h.4M418.1 67.2h.4M414.7 64.5h.4M412.0 63.7h.4M419.6 64.8h.4M422.1 64.1h.4M412.7 62.8h.4M415.0 63.5h.4M419.7 66.4h.4M417.2 66.2h.4M423.0 67.8h.4M414.0 60.1h.4M417.9 63.5h.4M411.6 63.4h.4M423.3 64.9h.4M413.4 63.3h.4M408.3 63.2h.4M415.6 66.5h.4M415.5 65.0h.4M422.7 61.5h.4M414.8 68.0h.4M416.0 67.1h.4M418.1 63.0h.4M421.6 66.7h.4M415.8 62.6h.4M419.6 67.4h.4M417.8 63.9h.4M415.0 62.4h.4M416.3 63.5h.4M416.1 62.5h.4M412.8 65.0h.4M420.2 65.0h.4M411.2 64.6h.4M420.1 63.1h.4M419.3 55.0h.4M415.7 64.7h.4M413.3 59.6h.4M415.2 65.1h.4M417.7 67.4h.4M418.6 65.2h.4M417.0 63.5h.4M419.5 64.0h.4M414.0 64.2h.4M416.8 63.1h.4M410.5 63.0h.4M418.7 62.1h.4M416.5 67.6h.4M414.5 64.5h.4M420.1 67.0h.4M418.4 63.8h.4M406.1 64.7h.4M416.1 64.1h.4M410.9 65.7h.4M419.7 66.6h.4M424.7 65.1h.4M414.2 62.7h.4M416.3 62.5h.4M415.1 68.8h.4M417.2 63.8h.4M418.3 63.7h.4M420.5 68.3h.4M412.5 67.3h.4M421.5 65.9h.4M406.2 66.1h.4M425.5 66.1h.4M411.8 70.2h.4M412.8 63.2h.4M407.8 72.7h.4M399.1 68.8h.4M399.7 66.9h.4M411.8 66.3h.4M411.7 69.1h.4M407.3 72.1h.4M400.8 71.7h.4M398.9 68.3h.4M406.7 71.3h.4M398.8 66.7h.4M415.3 73.5h.4M417.1 65.8h.4M428.8 53.5h.4M415.1 74.0h.4M404.9 66.6h.4M402.9 59.0h.4M384.8 64.8h.4M404.8 60.7h.4M407.8 78.6h.4M415.8 69.0h.4M413.3 56.6h.4M413.1 69.3h.4M410.5 63.6h.4M413.6 77.5h.4M419.1 59.7h.4M401.5 52.5h.4M405.8 66.4h.4M399.3 63.9h.4M420.3 63.5h.4M418.1 53.2h.4M414.3 68.6h.4M400.6 76.0h.4M410.2 54.5h.4M407.4 73.0h.4M409.6 62.6h.4M407.7 80.1h.4M412.6 68.6h.4M406.2 64.9h.4M415.0 72.6h.4M410.7 69.2h.4M406.9 62.4h.4M408.2 70.3h.4M405.9 62.9h.4M414.7 55.3h.4M407.1 78.2h.4M411.1 63.9h.4M406.3 62.3h.4M398.6 68.0h.4M415.3 56.6h.4M401.6 57.9h.4M413.8 63.0h.4M411.9 62.9h.4M397.4 66.4h.4M402.4 72.7h.4M405.4 63.2h.4M403.3 69.0h.4M400.7 69.6h.4M414.2 59.5h.4M407.3 67.4h.4M411.7 60.3h.4M406.0 72.4h.4M411.1 68.7h.4M403.7 66.1h.4M408.8 58.0h.4M413.1 66.7h.4M409.3 61.4h.4M405.8 70.2h.4M401.4 65.3h.4M410.2 61.1h.4M411.4 71.6h.4M407.2 70.3h.4M403.6 62.4h.4M412.8 73.0h.4M426.4 64.2h.4M406.9 64.1h.4M411.4 66.7h.4M411.6 61.5h.4M391.0 63.4h.4M409.9 65.0h.4M404.1 75.2h.4M418.7 75.0h.4M407.2 64.4h.4M403.6 75.7h.4M407.5 65.7h.4M410.2 68.3h.4M405.1 71.3h.4M408.6 67.8h.4M399.5 80.5h.4M407.4 67.5h.4M414.4 58.8h.4M422.8 73.8h.4M413.9 63.5h.4M410.9 64.2h.4M417.3 48.0h.4M416.1 72.0h.4M420.6 70.9h.4M416.6 70.8h.4M408.2 71.9h.4M410.8 76.1h.4M410.3 65.7h.4M411.1 71.6h.4M410.4 61.5h.4M403.5 63.9h.4M394.3 72.3h.4M404.3 68.3h.4M394.8 58.0h.4M409.5 68.2h.4M409.0 64.9h.4M397.3 61.1h.4M413.8 68.6h.4M415.1 63.6h.4M409.7 56.6h.4M420.7 59.3h.4M422.1 76.6h.4M400.6 56.9h.4M416.3 67.3h.4M412.1 69.7h.4M411.9 69.8h.4M415.5 58.6h.4M404.0 64.1h.4M404.9 66.8h.4M403.2 70.8h.4M403.7 62.1h.4M408.3 59.0h.4M398.8 72.0h.4M401.7 72.6h.4M413.0 68.2h.4M408.5 62.3h.4M411.7 68.4h.4M395.8 66.7h.4M403.5 71.0h.4M405.1 58.5h.4M409.2 66.7h.4M404.9 65.0h.4M415.5 59.3h.4M408.6 67.3h.4M413.2 87.7h.4M410.7 95.4h.4M415.2 91.8h.4M405.2 90.2h.4M412.7 87.6h.4M415.4 83.8h.4M414.6 85.3h.4M418.9 88.1h.4M406.4 89.1h.4M404.7 91.4h.4M414.3 92.2h.4M415.5 90.9h.4M424.7 90.9h.4M416.4 86.0h.4M408.2 81.4h.4M417.4 87.9h.4M408.3 86.2h.4M404.8 87.4h.4M427.4 88.9h.4M414.8 85.0h.4M416.9 85.6h.4M416.1 89.6h.4M423.0 90.5h.4M414.6 87.4h.4M419.7 92.0h.4M407.3 89.1h.4M405.3 85.9h.4M420.8 90.2h.4M421.1 97.5h.4M415.8 87.3h.4M414.2 94.7h.4M413.9 95.5h.4M409.2 96.0h.4M421.5 86.7h.4M416.6 98.1h.4M415.8 90.5h.4M415.1 89.0h.4M418.8 89.1h.4M415.8 92.4h.4M417.1 90.2h.4M406.6 89.3h.4M415.8 95.1h.4M425.0 87.1h.4M410.1 85.8h.4M412.3 93.2h.4M417.9 92.8h.4M418.3 94.4h.4M416.4 85.7h.4M404.1 94.3h.4M415.8 91.9h.4M406.5 97.1h.4M408.5 85.0h.4M416.0 90.9h.4M411.4 88.9h.4M417.5 83.6h.4M430.3 87.1h.4M417.3 94.5h.4M417.0 88.1h.4M408.1 87.1h.4M409.5 93.5h.4M407.1 94.0h.4M410.1 93.9h.4M407.0 86.8h.4M409.4 89.8h.4M411.9 94.1h.4M407.5 87.4h.4M405.2 87.0h.4M405.5 93.3h.4M415.5 96.2h.4M413.3 85.4h.4M418.6 79.6h.4M418.7 84.2h.4M411.1 86.0h.4M416.7 89.4h.4M405.1 92.5h.4M425.6 89.4h.4M419.6 87.2h.4M411.8 90.6h.4M406.6 86.2h.4M415.1 89.8h.4M402.7 87.4h.4M408.7 100.7h.4M417.1 93.3h.4M413.4 86.7h.4M410.3 86.0h.4M418.2 88.2h.4M407.3 83.4h.4M414.6 87.1h.4M410.3 87.0h.4M408.3 93.5h.4M415.5 88.3h.4M407.5 86.8h.4M423.5 84.6h.4M409.8 85.3h.4M423.9 89.7h.4M407.0 89.1h.4M416.3 94.5h.4M406.4 87.5h.4M405.6 94.2h.4M413.9 91.0h.4M416.7 90.0h.4M406.0 82.0h.4M419.5 84.8h.4M408.6 93.0h.4M413.7 95.6h.4M415.1 90.8h.4M416.3 93.1h.4M403.1 88.4h.4M421.9 88.5h.4M416.1 87.3h.4M410.7 93.9h.4M407.4 91.4h.4M403.7 89.1h.4M405.5 88.7h.4M416.0 92.2h.4M411.1 91.3h.4M406.8 86.7h.4M410.1 96.9h.4M421.6 91.0h.4M411.2 90.0h.4M406.8 79.3h.4M403.2 70.2h.4M394.3 74.9h.4M399.3 64.8h.4M386.4 78.5h.4M389.9 63.0h.4M376.9 69.8h.4M404.8 80.0h.4M379.8 63.1h.4M400.5 69.1h.4M388.4 73.3h.4M387.2 61.3h.4M393.4 81.3h.4M397.1 74.7h.4M399.9 59.9h.4M409.2 71.6h.4M397.9 65.8h.4M402.0 66.7h.4M390.2 72.6h.4M400.7 66.3h.4M396.2 79.7h.4M391.3 66.4h.4M394.2 79.9h.4M394.5 71.6h.4M396.5 78.8h.4M398.2 67.7h.4M390.9 68.0h.4M389.1 62.8h.4M401.0 76.6h.4M381.4 79.5h.4M390.1 89.0h.4M407.4 82.3h.4M373.3 74.0h.4M389.5 70.3h.4M400.5 75.1h.4M381.8 71.8h.4M415.8 83.7h.4M374.3 79.6h.4M406.5 65.3h.4M407.5 66.5h.4" stroke="#f42020" stroke-opacity="0.6" stroke-width="0.8" stroke-linecap="square" fill="none"/>
<rect x="348.30" y="26.30" width="102.90" height="75.20" fill="none" stroke="#666" stroke-width="0.9"/>
<line x1="402.60" y1="26.30" x2="402.60" y2="101.50" stroke="#555" stroke-width="0.9"/>
<line x1="348.30" y1="81.70" x2="451.20" y2="81.70" stroke="#888" stroke-width="0.9"/>
<text x="376.50" y="73.80" font-size="5.8" textLength="13.4" lengthAdjust="spacingAndGlyphs" font-family="Liberation Serif" fill="#444">Q1-1</text>
<text x="415.50" y="73.80" font-size="5.8" textLength="12.5" lengthAdjust="spacingAndGlyphs" font-family="Liberation Serif" fill="#444">Q2-1</text>
<text x="374.00" y="96.30" font-size="5.8" textLength="13.0" lengthAdjust="spacingAndGlyphs" font-family="Liberation Serif" fill="#444">Q3-1</text>
<text x="414.00" y="95.60" font-size="5.8" textLength="12.0" lengthAdjust="spacingAndGlyphs" font-family="Liberation Serif" fill="#444">Q4-1</text>
<text x="430.60" y="50.10" font-size="8.3" textLength="18.6" lengthAdjust="spacingAndGlyphs" fill="#222" stroke="#222" stroke-width="0.05">5.6%</text>
<text x="430.60" y="90.50" font-size="8.3" textLength="18.6" lengthAdjust="spacingAndGlyphs" fill="#222" stroke="#222" stroke-width="0.05">3.7%</text>
<path d="M461.5 87.9C461.5 85.3 466 84.3 476 84.6C487 85 495 86.4 499 87.9C495 89.5 487 91.1 476 91.4C466 91.6 461.5 90.6 461.5 87.9Z" fill="#f31111"/>
<path d="M511.5 86.4C515 86.3 520 89 523.5 92.3C524.5 94 522.5 94.6 519.5 93.2C515.5 91.3 512 89 511.5 86.4Z" fill="#f31111"/>
<path d="M490.3 89.1h.4M482.3 88.1h.4M478.3 87.2h.4M488.9 94.2h.4M477.1 88.0h.4M477.9 86.8h.4M476.5 86.9h.4M465.3 88.7h.4M486.5 88.7h.4M470.9 89.4h.4M475.7 88.2h.4M474.4 85.0h.4M485.5 89.0h.4M479.5 87.3h.4M480.1 87.3h.4M467.4 84.9h.4M479.3 86.8h.4M468.9 86.4h.4M482.3 87.8h.4M482.8 85.0h.4M479.9 88.0h.4M495.3 88.1h.4M484.0 85.7h.4M484.5 86.7h.4M481.1 86.2h.4M478.6 89.7h.4M487.2 82.8h.4M488.3 87.2h.4M470.2 84.6h.4M487.9 87.0h.4M483.9 89.6h.4M487.2 86.6h.4M483.5 88.2h.4M470.7 86.2h.4M471.2 91.8h.4M493.7 89.7h.4M481.9 90.2h.4M469.4 85.2h.4M482.6 85.7h.4M477.3 90.1h.4M466.2 87.5h.4M462.8 87.4h.4M468.0 88.6h.4M482.0 85.4h.4M479.6 89.4h.4M478.1 87.9h.4M482.1 88.9h.4M484.5 86.6h.4M464.2 88.9h.4M477.7 86.5h.4M473.8 89.8h.4M470.8 90.2h.4M475.9 89.7h.4M479.1 88.9h.4M478.0 89.2h.4M469.1 82.5h.4M476.4 89.6h.4M495.1 87.4h.4M472.1 88.1h.4M467.3 87.3h.4M482.1 85.1h.4M484.5 86.8h.4M483.5 89.2h.4M471.6 90.7h.4M487.5 86.7h.4M474.1 86.1h.4M471.5 90.8h.4M475.4 86.1h.4M479.2 92.0h.4M485.4 88.0h.4M484.7 86.1h.4M479.8 89.9h.4M487.0 91.3h.4M480.6 85.0h.4M486.7 91.0h.4M469.5 87.3h.4M468.2 90.9h.4M485.8 87.1h.4M469.6 84.7h.4M477.7 88.9h.4M479.3 89.8h.4M476.3 92.1h.4M476.6 91.3h.4M490.4 89.3h.4M461.0 87.4h.4M486.6 86.9h.4M497.2 87.3h.4M480.2 86.2h.4M479.9 87.4h.4M485.4 82.8h.4M493.7 88.3h.4M471.1 87.8h.4M480.7 93.0h.4M478.6 89.4h.4M484.2 86.9h.4M481.2 89.0h.4M484.9 85.4h.4M476.8 86.7h.4M480.4 84.2h.4M475.0 90.8h.4M475.0 89.1h.4M478.9 85.5h.4M478.9 87.8h.4M471.2 89.8h.4M491.8 88.9h.4M479.0 88.7h.4M469.6 86.2h.4M488.3 86.6h.4M474.4 88.1h.4M483.8 89.7h.4M479.9 86.2h.4M481.9 85.7h.4M481.3 90.2h.4M475.7 86.0h.4M480.3 90.1h.4M495.2 88.4h.4M463.2 89.7h.4M480.5 91.4h.4M483.3 89.3h.4M472.1 89.5h.4M469.7 86.1h.4M496.2 86.5h.4M477.2 89.2h.4M495.6 91.0h.4M484.0 90.7h.4M480.6 92.5h.4M483.6 88.5h.4M484.8 88.3h.4M488.8 89.9h.4M483.3 87.9h.4M481.1 87.8h.4M481.3 85.8h.4M490.1 89.9h.4M486.1 85.8h.4M472.5 88.9h.4M475.2 85.1h.4M482.5 90.1h.4M475.3 85.8h.4M477.2 89.6h.4M472.8 84.7h.4M478.0 87.0h.4M483.2 90.3h.4M487.5 86.3h.4M480.1 88.0h.4M495.6 86.9h.4M479.4 83.3h.4M504.0 88.5h.4M487.5 88.8h.4M483.7 85.7h.4M476.3 89.0h.4M458.8 86.3h.4M478.8 85.9h.4M481.3 87.9h.4M494.4 86.5h.4M469.7 92.5h.4M494.3 84.8h.4M478.1 89.4h.4M485.4 89.9h.4M461.0 83.9h.4M481.0 84.4h.4M477.4 89.0h.4M485.1 86.9h.4M480.7 88.7h.4M471.4 90.2h.4M487.1 87.2h.4M485.2 85.8h.4M484.5 82.4h.4M487.6 88.3h.4M488.3 86.0h.4M479.8 88.5h.4M469.8 88.4h.4M469.6 85.1h.4M490.1 91.3h.4M485.3 90.1h.4M480.8 89.6h.4M476.7 85.5h.4M480.2 87.1h.4M480.2 86.8h.4M477.5 87.1h.4M474.8 85.7h.4M496.2 88.8h.4M481.7 88.4h.4M475.5 88.6h.4M470.2 86.9h.4M474.6 90.5h.4M485.4 88.3h.4M485.7 82.4h.4M478.4 86.6h.4M480.4 87.8h.4M477.7 89.8h.4M471.7 87.3h.4M489.8 87.4h.4M482.8 86.6h.4M498.6 89.2h.4M474.3 87.0h.4M479.0 86.7h.4M486.6 86.4h.4M478.2 89.0h.4M469.6 86.8h.4M472.9 84.5h.4M480.8 89.1h.4M482.6 86.5h.4M479.3 88.6h.4M487.5 88.6h.4M487.4 90.3h.4M482.4 90.0h.4M480.2 86.7h.4M478.1 87.6h.4M484.1 85.3h.4M486.9 91.3h.4M480.5 88.8h.4M483.4 90.7h.4M477.6 87.3h.4M469.4 83.8h.4M472.5 91.0h.4M485.7 88.1h.4M483.4 88.2h.4M491.9 88.0h.4M480.4 89.2h.4M486.5 89.0h.4M489.9 84.7h.4M487.5 90.1h.4M475.4 86.8h.4M478.6 87.0h.4M481.0 91.4h.4M472.6 89.7h.4M483.6 87.2h.4M487.7 84.2h.4M476.4 88.2h.4M494.8 89.0h.4M477.8 87.7h.4M478.5 85.4h.4M478.2 86.3h.4M474.7 85.4h.4M483.1 88.3h.4M480.2 89.5h.4M492.5 90.0h.4M484.6 86.4h.4M484.0 88.4h.4M478.3 89.0h.4M469.4 86.9h.4M479.3 87.6h.4M473.6 92.1h.4M487.1 88.3h.4M479.8 89.7h.4M492.5 87.0h.4M485.5 88.0h.4M486.3 84.5h.4M481.7 87.8h.4M481.6 90.3h.4M484.9 92.1h.4M486.9 90.3h.4M474.7 89.3h.4M483.7 88.0h.4M499.7 86.7h.4M479.3 87.6h.4M478.1 89.1h.4M474.8 86.3h.4M469.1 89.8h.4M488.9 85.9h.4M480.5 84.3h.4M482.2 85.9h.4M493.8 84.6h.4M498.8 85.2h.4M473.3 90.2h.4M487.9 87.5h.4M484.7 88.3h.4M483.0 90.2h.4M483.6 90.4h.4M479.8 86.9h.4M491.9 90.6h.4M484.6 88.7h.4M482.6 87.9h.4M489.4 88.8h.4M486.7 85.0h.4M483.5 86.3h.4M482.5 87.7h.4M493.2 89.1h.4M483.8 87.2h.4M479.3 87.6h.4M473.6 89.8h.4M477.4 90.7h.4M472.1 89.4h.4M480.8 90.4h.4M481.9 87.1h.4M464.6 87.3h.4M480.2 88.5h.4M484.9 87.3h.4M481.3 86.9h.4M472.9 91.2h.4M489.5 87.5h.4M474.8 86.0h.4M470.8 88.9h.4M471.9 91.6h.4M479.9 88.1h.4M487.4 90.4h.4M488.8 87.0h.4M481.6 86.9h.4M471.1 86.5h.4M475.1 87.6h.4M473.3 91.6h.4M478.7 85.6h.4M466.7 91.2h.4M480.8 85.9h.4M484.8 87.4h.4M478.9 89.6h.4M483.5 89.2h.4M473.0 88.5h.4M469.1 84.6h.4M475.2 88.6h.4M488.7 85.9h.4M487.7 93.0h.4M476.6 87.5h.4M489.0 88.3h.4M477.6 85.6h.4M491.3 86.9h.4M483.6 85.3h.4M476.6 89.9h.4M486.0 87.4h.4M474.2 89.0h.4M473.0 86.5h.4M469.1 86.9h.4M481.9 90.5h.4M479.6 86.0h.4M479.4 84.3h.4M476.9 88.7h.4M490.8 85.6h.4M476.8 87.0h.4M474.6 89.7h.4M489.3 86.3h.4M490.7 89.7h.4M482.5 86.5h.4M466.9 90.9h.4M475.5 90.6h.4M484.6 87.0h.4M480.1 87.5h.4M491.7 86.2h.4M469.7 88.3h.4M485.1 90.2h.4M475.3 85.0h.4M489.9 89.7h.4M479.4 85.3h.4M487.7 86.2h.4M475.1 84.3h.4M469.4 92.1h.4M471.7 88.0h.4M475.4 88.4h.4M472.3 86.5h.4M489.0 90.0h.4M490.0 83.7h.4M482.0 88.0h.4M472.2 92.3h.4M479.1 87.1h.4M474.9 87.9h.4M490.9 89.2h.4M482.4 86.3h.4M483.7 87.9h.4M477.0 89.8h.4M464.9 88.3h.4M474.2 88.6h.4M471.6 87.2h.4M482.8 88.5h.4M480.7 88.0h.4M474.0 90.8h.4M477.1 89.3h.4M491.7 87.4h.4M472.8 83.0h.4M473.1 89.3h.4M478.3 89.4h.4M474.8 86.1h.4M476.8 83.9h.4M484.0 85.6h.4M493.0 89.8h.4M466.7 85.8h.4M479.9 87.0h.4M480.3 88.3h.4M479.4 90.3h.4M478.6 87.9h.4M477.4 87.7h.4M487.5 86.8h.4M476.5 91.2h.4M479.0 90.0h.4M480.0 87.7h.4M480.8 85.1h.4M478.7 86.3h.4M487.5 89.1h.4M479.9 86.5h.4M481.3 89.7h.4M479.6 88.6h.4M472.5 88.5h.4M473.8 89.2h.4M472.1 88.9h.4M481.4 86.2h.4M474.6 87.2h.4M472.0 92.6h.4M481.8 85.5h.4M483.9 87.0h.4M466.8 90.0h.4M492.7 87.6h.4M480.2 86.3h.4M479.2 85.3h.4M488.0 89.0h.4M480.5 89.9h.4M475.5 90.7h.4M496.5 88.0h.4M471.9 90.0h.4M479.3 85.8h.4M486.4 88.2h.4M472.0 86.5h.4M479.2 88.2h.4M482.9 89.4h.4M498.0 90.0h.4M473.3 85.9h.4M479.6 90.4h.4M484.9 87.0h.4M480.6 85.8h.4M471.0 87.6h.4M483.1 85.0h.4M480.8 87.9h.4M483.3 88.5h.4M488.5 87.5h.4M487.6 89.0h.4M483.1 87.3h.4M482.3 87.9h.4M471.8 85.0h.4M479.0 88.0h.4M481.7 86.2h.4M477.0 87.0h.4M480.7 87.7h.4M473.8 88.3h.4M491.5 84.6h.4M496.1 84.8h.4M477.1 87.3h.4M483.0 88.8h.4M478.2 88.6h.4M489.5 89.7h.4M483.3 90.5h.4M480.6 88.9h.4M478.3 87.9h.4M480.9 85.8h.4M472.5 86.0h.4M485.1 87.0h.4M474.6 88.4h.4M484.0 88.3h.4M481.0 87.9h.4M488.2 87.6h.4M479.9 89.2h.4M487.7 88.3h.4M473.1 88.5h.4M484.6 88.5h.4M478.3 86.8h.4M481.5 85.8h.4M480.5 88.9h.4M487.0 88.7h.4M464.9 87.5h.4M482.4 87.1h.4M468.8 92.5h.4M489.1 86.4h.4M465.2 87.5h.4M472.5 88.4h.4M467.4 85.6h.4M492.3 88.1h.4M470.3 91.5h.4M480.9 89.8h.4M476.0 89.2h.4M466.5 89.1h.4M477.5 88.1h.4M485.0 89.8h.4M478.6 87.6h.4M487.1 87.1h.4M477.3 88.1h.4M480.1 89.7h.4M477.1 88.6h.4M482.6 89.2h.4M494.2 83.9h.4M482.7 90.3h.4M481.5 92.6h.4M475.4 90.6h.4M474.3 87.3h.4M491.0 86.2h.4M471.7 88.5h.4M473.2 85.9h.4M479.3 89.4h.4M476.8 86.8h.4M494.7 89.8h.4M462.3 90.6h.4M482.7 83.8h.4M485.3 88.5h.4M471.6 86.5h.4M475.2 85.1h.4M483.2 86.7h.4M492.2 87.5h.4M473.1 90.0h.4M468.2 84.9h.4M487.3 90.0h.4M491.4 91.9h.4M477.5 89.1h.4M463.4 89.0h.4M490.9 87.9h.4M478.5 85.5h.4M488.4 89.0h.4M479.7 88.7h.4M477.2 89.4h.4M476.6 93.0h.4M491.1 89.4h.4M490.8 88.8h.4M464.0 91.0h.4M473.0 85.2h.4M493.3 85.6h.4M477.2 87.1h.4M469.8 86.6h.4M480.0 89.3h.4M479.2 87.3h.4M479.3 91.4h.4M476.4 90.9h.4M477.7 89.4h.4M476.6 87.1h.4M482.5 89.1h.4M473.9 89.5h.4M477.8 85.8h.4M478.9 88.6h.4M489.8 89.3h.4M482.8 88.3h.4M479.2 91.0h.4M484.0 90.3h.4M483.0 86.2h.4M488.2 88.1h.4M483.8 86.2h.4M493.5 89.1h.4M490.1 86.2h.4M479.7 89.7h.4M476.9 88.7h.4M486.6 89.8h.4M483.9 87.6h.4M479.3 85.0h.4M468.9 91.4h.4M466.3 87.6h.4M482.6 90.7h.4M485.8 88.8h.4M486.0 89.2h.4M470.3 91.6h.4M487.8 88.6h.4M476.0 90.7h.4M482.9 84.9h.4M483.1 89.6h.4M474.0 87.4h.4M475.6 87.6h.4M464.5 87.9h.4M473.1 88.6h.4M466.5 91.2h.4M483.3 84.2h.4M480.5 88.0h.4M486.9 86.5h.4M482.7 90.2h.4M475.2 87.1h.4M482.6 88.8h.4M477.1 87.1h.4M484.6 89.2h.4M482.4 89.9h.4M472.6 87.1h.4M480.0 88.0h.4M480.4 85.1h.4M477.7 88.5h.4M486.7 89.6h.4M492.8 86.8h.4M477.2 90.1h.4M477.4 83.8h.4M463.1 84.2h.4M479.0 85.1h.4M476.7 86.9h.4M463.8 87.9h.4M482.2 87.7h.4M484.4 87.8h.4M474.5 89.3h.4M477.2 87.0h.4M472.8 85.4h.4M485.7 85.4h.4M468.6 92.1h.4M477.7 83.2h.4M494.6 87.5h.4M480.4 90.8h.4M483.5 88.9h.4M478.9 86.2h.4M471.2 87.9h.4M479.8 89.6h.4M483.0 90.3h.4M472.3 86.1h.4M482.6 89.4h.4M489.3 88.4h.4M488.0 90.1h.4M468.1 90.7h.4M472.7 87.2h.4M467.9 85.0h.4M488.0 88.7h.4M484.6 91.5h.4M485.3 89.3h.4M473.4 88.4h.4M471.3 92.7h.4M480.6 85.8h.4M480.8 89.7h.4M473.6 86.8h.4M481.1 88.0h.4M484.8 88.1h.4M481.7 90.9h.4M472.2 86.0h.4M464.2 86.8h.4M478.1 84.7h.4M481.2 88.9h.4M478.0 87.0h.4M476.8 88.7h.4M474.8 85.8h.4M485.4 87.2h.4M479.6 90.0h.4M480.9 87.6h.4M472.7 89.2h.4M475.3 89.0h.4M481.2 87.2h.4M472.5 84.8h.4M470.6 89.9h.4M477.5 88.2h.4M489.0 89.9h.4M481.4 83.9h.4M490.9 84.6h.4M479.0 83.6h.4M477.7 86.1h.4M469.6 90.0h.4M475.7 89.0h.4M490.8 87.8h.4M482.5 88.2h.4M485.5 89.4h.4M485.3 87.3h.4M479.9 88.7h.4M478.5 88.2h.4M480.9 83.5h.4M485.0 87.1h.4M483.4 90.6h.4M483.7 87.1h.4M481.2 87.6h.4M474.2 86.7h.4M478.0 86.9h.4M472.9 90.1h.4M487.5 87.4h.4M464.2 85.9h.4M478.4 81.7h.4M497.9 86.8h.4M477.4 84.0h.4M471.5 84.3h.4M479.9 89.5h.4M489.7 89.3h.4M478.8 84.1h.4M498.7 85.5h.4M496.5 87.9h.4M489.7 87.2h.4M498.0 89.0h.4M485.1 90.0h.4M487.4 83.5h.4M486.1 87.8h.4M487.9 91.6h.4M498.8 89.5h.4M486.7 90.6h.4M487.7 88.1h.4M488.8 85.2h.4M495.1 85.8h.4M492.1 89.2h.4M498.7 89.7h.4M490.1 86.5h.4M486.9 87.4h.4M491.2 88.4h.4M494.2 84.6h.4M488.9 87.2h.4M495.5 91.0h.4M504.0 92.0h.4M490.8 87.7h.4M494.2 91.4h.4M501.4 86.9h.4M490.4 86.3h.4M489.3 83.6h.4M487.9 89.7h.4M496.1 87.2h.4M496.8 92.3h.4M493.1 88.5h.4M494.1 88.2h.4M500.9 84.5h.4M498.7 90.7h.4M486.2 87.2h.4M493.8 87.6h.4M494.5 83.7h.4M497.8 89.6h.4M492.6 89.8h.4M490.3 86.7h.4M491.3 88.1h.4M484.1 88.6h.4M493.7 89.7h.4M490.6 88.1h.4M496.4 91.2h.4M488.2 87.4h.4M491.4 86.7h.4M488.4 87.0h.4M488.0 83.1h.4M497.7 86.4h.4M491.3 89.8h.4M496.3 88.4h.4M487.7 86.3h.4M494.3 88.6h.4M484.5 84.1h.4M491.2 87.4h.4M491.0 88.9h.4M497.0 89.2h.4M494.8 86.4h.4M492.8 89.6h.4M498.4 91.4h.4M494.8 87.1h.4M496.7 89.3h.4M498.0 84.9h.4M493.4 84.2h.4M492.2 89.1h.4M495.6 88.0h.4M491.5 88.3h.4M495.9 86.8h.4M499.8 87.3h.4M498.5 89.4h.4M491.7 91.2h.4M486.7 87.5h.4M493.4 84.8h.4M493.1 90.3h.4M499.8 89.0h.4M491.6 89.2h.4M492.6 88.2h.4M497.8 92.3h.4M491.1 88.0h.4M492.9 88.9h.4M503.2 84.4h.4M501.9 86.8h.4M497.2 86.6h.4M495.2 87.8h.4M488.4 88.6h.4M496.8 86.5h.4M494.1 91.2h.4M495.0 85.9h.4M490.9 87.0h.4M493.7 88.4h.4M492.7 85.5h.4M495.5 89.0h.4M501.6 89.1h.4M495.7 87.3h.4M484.6 91.5h.4M488.4 88.1h.4M485.0 88.4h.4M489.4 86.1h.4M496.8 84.7h.4M495.9 86.7h.4M490.4 87.3h.4M495.2 87.0h.4M489.6 89.4h.4M485.9 83.4h.4M486.0 85.7h.4M489.0 84.4h.4M501.5 90.5h.4M486.4 86.8h.4M500.6 86.9h.4M501.0 85.8h.4M492.7 89.6h.4M493.5 87.1h.4M490.4 88.3h.4M493.6 84.0h.4M497.3 90.1h.4M493.8 88.7h.4M499.2 89.0h.4M500.2 90.3h.4M495.6 87.5h.4M495.5 87.6h.4M493.4 89.3h.4M495.6 88.7h.4M487.6 87.4h.4M495.9 88.0h.4M494.8 86.9h.4M489.0 89.3h.4M505.5 89.7h.4M488.4 87.9h.4M488.9 91.5h.4M495.2 85.0h.4M483.1 87.5h.4M489.4 91.2h.4M485.3 87.1h.4M488.4 84.9h.4M493.0 90.6h.4M495.5 88.9h.4M499.8 85.6h.4M498.1 89.4h.4M500.2 86.0h.4M496.9 85.4h.4M491.1 87.6h.4M499.8 87.0h.4M491.0 85.8h.4M490.3 87.2h.4M502.1 86.0h.4M498.0 88.0h.4M494.9 87.9h.4M497.8 89.3h.4M498.5 87.0h.4M486.2 85.4h.4M493.2 85.4h.4M487.2 87.4h.4M494.4 90.8h.4M490.0 89.5h.4M501.2 86.7h.4M496.5 89.7h.4M489.2 85.7h.4M493.6 89.8h.4M487.0 87.2h.4M493.9 89.4h.4M496.7 89.1h.4M495.1 87.4h.4M483.1 88.5h.4M491.9 85.9h.4M496.5 87.8h.4M495.4 90.0h.4M500.1 95.7h.4M486.6 89.3h.4M496.6 88.1h.4M490.1 86.0h.4M494.8 89.9h.4M495.9 84.8h.4M497.5 86.4h.4M490.5 88.6h.4M494.7 85.6h.4M487.3 90.8h.4M485.9 90.0h.4M496.7 86.8h.4M493.4 86.9h.4M484.8 85.4h.4M489.0 85.2h.4M493.8 88.8h.4M502.2 89.1h.4M499.4 88.6h.4M498.1 88.4h.4M483.9 86.8h.4M493.1 88.6h.4M496.3 85.1h.4M495.8 87.9h.4M496.0 90.7h.4M492.4 90.4h.4M503.3 87.0h.4M501.8 87.3h.4M493.2 90.5h.4M488.3 91.3h.4M505.0 85.1h.4M490.6 87.1h.4M500.3 88.4h.4M504.2 90.2h.4M488.5 86.3h.4M495.3 89.1h.4M491.8 87.3h.4M496.5 92.4h.4M495.4 88.7h.4M504.4 87.7h.4M496.9 87.3h.4M493.6 89.9h.4M499.9 89.2h.4M492.2 85.8h.4M491.7 88.3h.4M506.0 85.4h.4M489.2 86.5h.4M491.0 85.4h.4M493.9 85.4h.4M487.9 86.6h.4M482.1 86.0h.4M499.5 88.9h.4M489.4 89.4h.4M490.7 87.5h.4M491.6 85.8h.4M488.3 89.4h.4M487.8 84.1h.4M494.6 84.2h.4M506.9 89.3h.4M497.7 89.2h.4M497.8 89.8h.4M485.4 87.5h.4M493.5 85.5h.4M487.2 86.9h.4M497.9 89.0h.4M492.4 86.5h.4M493.9 86.6h.4M493.2 85.3h.4M490.5 85.7h.4M485.3 89.5h.4M496.9 88.8h.4M486.1 85.7h.4M487.2 85.9h.4M492.0 86.8h.4M489.8 89.0h.4M495.1 85.7h.4M499.2 87.6h.4M495.0 83.8h.4M494.8 85.5h.4M493.8 88.7h.4M498.4 89.6h.4M483.5 85.7h.4M495.7 86.4h.4M488.5 89.4h.4M514.7 91.7h.4M514.8 90.6h.4M518.6 92.9h.4M518.3 91.0h.4M521.7 92.8h.4M520.4 92.5h.4M515.3 89.6h.4M516.3 91.5h.4M516.6 91.4h.4M513.1 87.1h.4M513.9 88.6h.4M520.2 93.9h.4M513.8 84.3h.4M521.6 92.1h.4M519.3 90.3h.4M517.1 90.2h.4M519.5 91.8h.4M519.3 91.7h.4M522.5 92.5h.4M515.2 91.0h.4M516.2 90.8h.4M518.4 87.6h.4M523.7 95.6h.4M521.9 91.4h.4M512.2 91.4h.4M516.7 89.4h.4M515.4 88.5h.4M517.3 91.1h.4M518.3 91.1h.4M525.2 96.5h.4M509.3 88.9h.4M520.6 93.8h.4M517.8 93.4h.4M513.6 91.0h.4M518.0 89.0h.4M513.7 92.4h.4M516.7 92.2h.4M519.7 95.0h.4M513.2 85.8h.4M520.9 95.5h.4M515.6 90.7h.4M523.1 93.8h.4M516.1 95.6h.4M520.9 94.9h.4M519.6 92.0h.4M520.8 93.9h.4M516.5 92.6h.4M513.2 90.7h.4M519.0 93.5h.4M518.3 94.7h.4M522.8 98.5h.4M512.0 84.0h.4M517.3 89.7h.4M522.1 92.1h.4M513.0 88.0h.4M514.9 92.7h.4M523.8 97.2h.4M523.4 92.8h.4M514.7 88.3h.4M521.0 96.1h.4M522.0 93.0h.4M520.1 92.7h.4M518.3 92.4h.4M520.3 88.6h.4M513.5 90.1h.4M515.2 90.2h.4M519.2 93.7h.4M519.0 89.7h.4M524.6 94.3h.4M516.9 89.2h.4M508.9 85.4h.4M516.2 90.2h.4M518.2 91.9h.4M516.6 94.8h.4M516.1 93.2h.4M515.4 87.8h.4M523.2 93.6h.4M513.1 92.1h.4M520.2 92.2h.4M514.8 92.5h.4M511.4 90.6h.4M522.8 93.6h.4M509.2 84.3h.4M514.4 89.0h.4M519.9 90.6h.4M517.3 88.5h.4M520.4 92.2h.4M516.0 92.1h.4M516.4 89.1h.4M525.0 96.0h.4M517.2 89.7h.4M518.5 88.4h.4M512.0 90.7h.4M517.6 85.3h.4M520.4 91.5h.4M518.7 93.3h.4M519.0 88.7h.4M514.3 90.2h.4M518.3 94.7h.4M512.6 85.4h.4M516.0 90.5h.4M517.9 88.6h.4M513.9 89.7h.4M517.8 91.5h.4M514.9 89.7h.4M513.1 91.2h.4M523.0 96.2h.4M518.4 95.0h.4M520.8 95.0h.4M519.0 89.2h.4M520.4 93.8h.4M519.5 93.7h.4M523.3 91.7h.4M523.9 99.0h.4M516.6 90.6h.4M517.9 92.2h.4M518.3 89.4h.4M505.4 82.4h.4M512.3 88.0h.4M517.9 90.5h.4M519.5 92.7h.4M518.0 86.2h.4M519.7 96.0h.4M523.1 92.4h.4M518.6 86.5h.4M523.4 93.0h.4M524.4 94.0h.4M518.4 93.0h.4M515.2 87.1h.4M522.1 95.1h.4M518.0 89.1h.4M513.6 93.7h.4M517.2 92.2h.4M513.3 92.9h.4M522.3 92.0h.4M519.3 94.0h.4M522.7 92.5h.4M518.8 93.4h.4M514.0 90.2h.4M518.8 88.1h.4M521.8 91.3h.4M517.5 88.1h.4M529.2 95.8h.4M517.5 89.2h.4M516.6 88.0h.4M523.1 91.5h.4M519.9 93.0h.4M516.7 91.8h.4M518.2 88.3h.4M519.6 91.2h.4M520.3 93.1h.4M520.3 92.5h.4M517.3 89.1h.4M518.0 93.4h.4M519.4 94.5h.4M519.3 94.0h.4M507.2 83.1h.4M512.1 92.0h.4M512.8 91.9h.4M517.2 89.8h.4M518.2 91.3h.4M519.2 95.2h.4M520.5 91.2h.4M516.6 91.3h.4M517.5 91.1h.4M524.3 94.2h.4M515.7 89.1h.4M520.4 89.2h.4M523.4 94.0h.4M521.0 88.6h.4M507.9 89.7h.4M517.0 94.4h.4M514.7 92.0h.4M516.7 91.2h.4M519.9 95.2h.4M517.6 94.2h.4M515.4 92.0h.4M519.4 94.7h.4M520.0 90.6h.4M517.3 92.0h.4M519.1 90.9h.4M519.7 89.7h.4M517.7 88.3h.4M515.4 90.6h.4M516.3 92.8h.4M515.9 86.4h.4M511.2 90.7h.4M520.2 96.6h.4M517.1 89.8h.4M518.0 90.2h.4M517.1 90.6h.4M516.4 92.7h.4M518.0 90.4h.4M519.0 89.4h.4M514.4 89.6h.4M523.1 90.0h.4M515.0 89.5h.4M519.7 95.4h.4M510.6 86.8h.4M513.0 89.6h.4M520.3 94.2h.4M516.1 91.8h.4M515.0 89.6h.4M519.7 90.6h.4M514.2 88.1h.4M517.8 91.1h.4M508.5 87.6h.4M514.1 92.5h.4M514.8 90.1h.4M520.2 91.1h.4M521.3 92.0h.4M514.8 88.6h.4M521.3 97.2h.4M515.1 90.1h.4M510.6 85.8h.4M510.3 83.9h.4M521.7 96.2h.4M516.9 91.3h.4M515.4 89.3h.4M514.8 89.3h.4M511.8 91.0h.4M522.3 94.1h.4M515.2 93.5h.4M522.1 97.4h.4M516.8 90.6h.4M508.5 86.6h.4M520.5 92.9h.4M517.2 88.8h.4M517.0 90.0h.4M523.9 93.4h.4M516.0 91.2h.4M521.4 93.9h.4M516.8 91.9h.4M514.0 90.5h.4M522.9 87.2h.4M515.1 90.0h.4M523.8 91.1h.4M520.6 93.6h.4M518.7 89.7h.4M519.4 92.7h.4M517.8 94.6h.4M518.6 87.6h.4M520.3 93.5h.4M516.8 90.3h.4M521.8 89.5h.4M513.5 89.7h.4M517.8 91.3h.4M519.5 91.2h.4M515.7 87.9h.4M512.3 95.2h.4M516.2 89.1h.4M522.1 89.9h.4M516.2 87.7h.4M519.4 91.5h.4M523.1 94.2h.4M518.8 91.8h.4M513.3 85.3h.4M517.3 92.2h.4M521.6 92.8h.4M518.1 88.1h.4M503.6 85.0h.4M504.8 86.7h.4M508.5 88.3h.4M507.5 85.7h.4M505.0 86.1h.4M506.1 89.9h.4M506.6 89.5h.4M512.1 85.1h.4M504.1 85.5h.4M507.4 88.1h.4M508.2 85.7h.4M503.1 87.1h.4M506.6 86.8h.4M506.5 88.3h.4M504.6 83.7h.4M507.7 84.2h.4M509.1 85.7h.4M509.4 89.0h.4M505.4 87.3h.4M506.6 84.9h.4M513.1 88.2h.4M502.7 88.6h.4M506.7 87.1h.4M508.7 87.0h.4M506.5 88.2h.4M508.0 89.3h.4M506.5 87.7h.4M508.3 88.3h.4M509.8 87.4h.4M505.3 86.9h.4M506.6 86.1h.4M505.8 87.9h.4M504.8 87.0h.4M505.9 87.1h.4M502.6 88.9h.4M508.2 88.2h.4M511.1 88.8h.4M511.1 85.1h.4M509.8 88.3h.4M503.1 86.6h.4M510.6 86.3h.4M503.9 86.2h.4M505.8 89.3h.4M511.5 88.7h.4M502.8 86.4h.4M508.5 85.8h.4M506.8 87.5h.4M505.5 86.8h.4M503.4 90.0h.4M507.3 85.3h.4M504.6 84.8h.4M509.1 87.1h.4M509.7 87.5h.4M501.9 87.7h.4M504.5 88.6h.4M505.0 90.6h.4M502.5 87.0h.4M502.6 86.7h.4M506.3 84.9h.4M505.4 87.9h.4M526.7 67.4h.4M523.2 60.2h.4M527.8 61.6h.4M524.1 62.7h.4M528.8 63.5h.4M525.1 65.5h.4M520.6 65.5h.4M522.0 62.7h.4M519.1 62.5h.4M518.4 63.6h.4M524.9 65.6h.4M526.8 65.2h.4M530.3 62.2h.4M523.8 58.4h.4M523.2 68.9h.4M520.5 65.9h.4M527.2 64.2h.4M525.2 64.4h.4M522.1 62.2h.4M526.2 61.0h.4M525.8 62.7h.4M518.0 62.9h.4M526.4 61.9h.4M524.4 59.9h.4M522.7 62.7h.4M522.7 64.9h.4M529.6 62.3h.4M528.9 63.6h.4M529.8 58.3h.4M520.3 63.0h.4M521.9 63.2h.4M526.9 60.4h.4M520.1 59.2h.4M521.7 64.5h.4M518.2 61.5h.4M529.9 64.7h.4M527.4 62.4h.4M525.5 65.1h.4M524.7 62.7h.4M522.7 59.7h.4M522.7 63.3h.4M526.0 62.7h.4M521.7 65.1h.4M527.9 62.4h.4M522.4 62.5h.4M521.2 65.6h.4M528.2 66.4h.4M523.5 65.4h.4M525.8 66.1h.4M522.7 64.6h.4M516.8 65.4h.4M525.8 65.7h.4M519.7 64.5h.4M527.5 63.7h.4M519.0 63.9h.4M518.0 69.5h.4M525.0 63.5h.4M525.4 62.9h.4M524.3 62.6h.4M520.1 63.4h.4M526.8 64.1h.4M519.3 60.7h.4M522.5 58.5h.4M521.5 64.2h.4M522.8 59.5h.4M526.7 64.1h.4M522.0 63.9h.4M525.8 66.4h.4M526.2 67.7h.4M518.5 64.4h.4M520.3 62.1h.4M522.8 60.6h.4M522.1 61.5h.4M525.0 63.6h.4M517.8 58.3h.4M526.3 63.7h.4M526.4 63.5h.4M523.5 65.1h.4M519.6 62.7h.4M524.0 63.8h.4M522.3 61.7h.4M525.8 62.3h.4M523.7 59.1h.4M526.3 63.8h.4M522.6 67.4h.4M528.6 63.9h.4M516.6 64.4h.4M520.7 61.0h.4M525.6 67.1h.4M519.2 61.6h.4M526.4 65.5h.4M520.1 63.8h.4M524.3 61.1h.4M521.1 66.1h.4M522.6 63.5h.4M524.6 63.9h.4M523.7 64.6h.4M522.8 63.4h.4M530.9 62.6h.4M524.0 64.7h.4M520.9 62.5h.4M527.0 63.7h.4M526.6 61.8h.4M527.9 59.8h.4M529.7 61.8h.4M521.0 62.3h.4M527.4 63.5h.4M527.6 66.5h.4M524.0 59.3h.4M524.8 63.8h.4M514.4 58.0h.4M522.2 60.9h.4M529.7 62.2h.4M518.3 57.9h.4M522.3 58.9h.4M524.9 63.9h.4M525.8 63.7h.4M529.2 63.2h.4M518.4 61.5h.4M524.1 68.9h.4M526.8 63.1h.4M519.8 61.3h.4M523.9 67.7h.4M530.0 65.0h.4M528.2 62.6h.4M525.7 66.5h.4M515.6 63.9h.4M523.6 65.1h.4M525.2 64.1h.4M523.0 60.9h.4M523.8 65.9h.4M533.9 63.9h.4M523.3 61.0h.4M520.9 61.6h.4M524.8 65.9h.4M523.0 62.6h.4M523.0 63.6h.4M523.7 65.1h.4M526.5 63.8h.4M524.8 59.7h.4M520.2 65.1h.4M523.6 65.8h.4M525.5 65.7h.4M522.5 67.5h.4M527.7 64.4h.4M526.5 65.4h.4M520.8 67.5h.4M525.0 62.8h.4M530.3 67.8h.4M529.0 67.8h.4M523.8 65.5h.4M526.9 68.1h.4M521.8 65.6h.4M519.4 61.3h.4M525.8 66.3h.4M524.8 64.3h.4M525.6 64.5h.4M523.9 63.9h.4M525.0 66.9h.4M522.4 64.9h.4M525.5 61.8h.4M526.7 64.7h.4M523.8 65.3h.4M526.6 61.7h.4M518.3 62.4h.4M521.5 62.5h.4M528.6 62.0h.4M529.6 64.4h.4M524.8 66.0h.4M523.7 68.2h.4M519.9 66.5h.4M525.2 66.1h.4M526.5 66.4h.4M519.3 66.8h.4M525.8 62.6h.4M525.6 65.2h.4M525.4 64.3h.4M520.4 63.2h.4M525.7 62.4h.4M519.2 62.2h.4M528.8 62.8h.4M524.4 60.4h.4M520.3 64.8h.4M528.3 63.4h.4M527.7 63.8h.4M521.9 64.3h.4M531.1 65.3h.4M520.8 62.0h.4M525.0 63.2h.4M527.8 59.5h.4M516.7 58.0h.4M527.2 58.6h.4M523.8 67.3h.4M523.9 58.9h.4M520.6 64.7h.4M525.1 67.2h.4M520.4 62.4h.4M520.9 67.6h.4M522.6 68.1h.4M520.1 65.9h.4M527.9 59.5h.4M521.7 71.2h.4M511.3 73.6h.4M515.2 64.6h.4M515.9 75.8h.4M508.7 76.7h.4M508.7 76.3h.4M527.8 60.0h.4M515.2 76.0h.4M517.4 73.1h.4M512.3 73.9h.4M511.4 64.2h.4M512.7 69.8h.4M513.3 72.3h.4M513.9 81.8h.4M508.7 77.8h.4M511.0 73.2h.4M520.2 72.9h.4M526.0 60.4h.4M520.8 65.3h.4M525.5 62.5h.4M513.5 62.8h.4M517.5 73.8h.4M509.4 77.5h.4M514.4 69.1h.4M500.4 75.8h.4M514.3 72.2h.4M528.0 67.6h.4M515.2 66.4h.4M518.2 61.4h.4M514.4 73.3h.4M503.3 70.8h.4M506.3 64.6h.4M511.9 70.4h.4M519.7 62.3h.4M525.1 60.3h.4M509.7 71.5h.4M514.3 72.9h.4M513.9 70.0h.4M511.7 69.6h.4M507.3 74.1h.4M517.6 71.8h.4M520.0 71.8h.4M520.0 71.5h.4M510.8 77.9h.4M505.2 59.2h.4M503.1 74.5h.4M519.3 64.9h.4M510.4 75.4h.4M509.2 65.7h.4M517.0 77.0h.4M513.1 73.8h.4M507.8 72.7h.4M506.3 78.6h.4M523.6 61.1h.4M514.5 66.3h.4M518.2 70.6h.4M525.3 59.1h.4M510.7 65.7h.4M516.5 65.4h.4M515.1 69.6h.4M518.6 61.0h.4M521.7 72.2h.4M513.9 64.9h.4M519.1 77.3h.4M519.4 71.9h.4M518.9 61.6h.4M504.6 79.9h.4M518.1 74.7h.4M512.6 71.3h.4M510.3 67.3h.4M505.1 79.4h.4M525.0 73.6h.4M506.5 68.7h.4M515.7 73.0h.4M512.7 72.4h.4M506.1 77.2h.4M511.8 70.7h.4M504.6 77.3h.4M513.3 77.9h.4M515.4 73.6h.4M512.5 66.7h.4M520.2 75.2h.4M510.9 66.2h.4M528.8 62.8h.4M518.2 68.8h.4M512.3 79.7h.4M513.1 74.1h.4M514.9 76.7h.4M514.4 70.8h.4M515.0 76.2h.4M511.8 75.1h.4M530.4 70.1h.4M513.6 67.5h.4M517.0 75.7h.4M515.4 72.8h.4M514.7 71.7h.4M521.2 61.9h.4M519.2 69.5h.4M517.1 60.0h.4M494.7 79.4h.4M519.2 71.1h.4M516.6 60.0h.4M530.1 66.2h.4M514.8 69.0h.4M506.9 78.7h.4M518.8 67.7h.4M513.4 74.2h.4M505.0 77.2h.4M511.0 71.6h.4M520.7 64.9h.4M524.9 68.3h.4M522.6 70.8h.4M513.5 79.2h.4M530.0 60.0h.4M508.6 74.7h.4M510.1 64.7h.4M509.5 78.8h.4M524.9 67.1h.4M516.6 66.7h.4M522.5 68.9h.4M519.6 74.1h.4M515.3 70.7h.4M519.4 72.9h.4M506.2 79.6h.4M515.7 59.6h.4M519.0 64.3h.4M512.1 70.4h.4M516.9 72.0h.4M514.5 65.8h.4M522.6 61.5h.4M515.0 64.8h.4M515.6 69.8h.4M512.9 72.6h.4M510.2 80.2h.4M514.6 75.5h.4M516.3 70.3h.4M514.8 72.0h.4M516.2 70.1h.4M519.8 67.1h.4M522.3 73.4h.4M509.7 60.3h.4M518.5 66.5h.4M517.4 70.3h.4M518.6 74.1h.4M514.8 64.2h.4M507.2 79.0h.4M524.7 67.4h.4M507.3 74.3h.4M514.4 59.7h.4M500.7 80.9h.4M494.0 67.7h.4M508.8 77.4h.4M496.8 71.6h.4M517.9 90.1h.4M504.7 73.8h.4M497.2 65.2h.4M499.6 65.7h.4M494.9 67.3h.4M506.7 75.6h.4M515.5 74.5h.4M501.9 82.3h.4M511.0 75.9h.4M496.1 75.6h.4M506.1 77.1h.4M522.0 73.5h.4M492.4 76.9h.4M513.5 80.8h.4M513.0 80.8h.4M488.6 70.2h.4M492.1 60.4h.4M495.8 68.1h.4M511.4 76.8h.4M500.2 54.6h.4M502.3 70.7h.4M509.3 78.1h.4M504.6 70.0h.4M505.4 65.6h.4M501.0 88.5h.4M512.6 85.6h.4M497.4 72.4h.4M517.0 85.1h.4M500.9 84.9h.4M497.2 65.4h.4M508.8 95.9h.4M507.2 67.0h.4M487.8 72.4h.4M505.4 65.7h.4M492.8 75.1h.4M497.0 63.9h.4" stroke="#f42020" stroke-opacity="0.6" stroke-width="0.8" stroke-linecap="square" fill="none"/>
<rect x="455.60" y="26.30" width="102.10" height="74.90" fill="none" stroke="#666" stroke-width="0.9"/>
<line x1="509.40" y1="26.30" x2="509.40" y2="101.20" stroke="#555" stroke-width="0.9"/>
<line x1="455.60" y1="82.60" x2="557.70" y2="82.60" stroke="#888" stroke-width="0.9"/>
<text x="484.40" y="73.80" font-size="5.8" textLength="12.2" lengthAdjust="spacingAndGlyphs" font-family="Liberation Serif" fill="#444">Q1-1</text>
<text x="523.20" y="73.80" font-size="5.8" textLength="12.3" lengthAdjust="spacingAndGlyphs" font-family="Liberation Serif" fill="#444">Q2-1</text>
<text x="482.30" y="96.30" font-size="5.8" textLength="12.3" lengthAdjust="spacingAndGlyphs" font-family="Liberation Serif" fill="#444">Q3-1</text>
<text x="522.20" y="95.30" font-size="5.8" textLength="12.2" lengthAdjust="spacingAndGlyphs" font-family="Liberation Serif" fill="#444">Q4-1</text>
<text x="538.20" y="50.00" font-size="8.3" textLength="18.4" lengthAdjust="spacingAndGlyphs" fill="#222" stroke="#222" stroke-width="0.05">4.9%</text>
<text x="535.50" y="90.50" font-size="8.3" textLength="21.8" lengthAdjust="spacingAndGlyphs" fill="#222" stroke="#222" stroke-width="0.05">10.2%</text>
<path d="M354.2 187.6C354.2 184.2 358 183 366 183.2C378 183.4 392 184 400 185C404 185.8 405 187 404 188.6C398 190.6 385 191.6 370 192.2C360 192.5 354.2 191.2 354.2 187.6Z" fill="#f31111"/>
<path d="M406 171C410 167.5 416 164.5 421 164C423.5 164.3 423 166.5 420 169C416 172 410 174 407 173.5C405.5 173 405.3 172 406 171Z" fill="#f31111"/>
<path d="M370.4 190.1h.4M379.1 188.3h.4M372.2 184.9h.4M368.3 186.0h.4M382.8 188.0h.4M363.3 185.0h.4M378.2 191.4h.4M368.0 187.8h.4M372.2 188.4h.4M370.7 184.9h.4M371.4 185.2h.4M370.0 185.5h.4M364.2 188.1h.4M365.9 186.8h.4M373.9 186.7h.4M369.5 188.2h.4M361.1 188.0h.4M364.7 191.1h.4M364.8 186.9h.4M369.9 184.9h.4M371.8 187.4h.4M371.1 191.0h.4M365.1 186.1h.4M370.5 187.5h.4M359.4 186.5h.4M369.9 188.0h.4M357.1 185.4h.4M362.7 186.9h.4M360.7 189.7h.4M375.3 190.1h.4M360.6 189.7h.4M372.5 189.5h.4M366.4 186.6h.4M360.4 186.5h.4M357.7 189.7h.4M373.9 184.5h.4M373.3 187.3h.4M376.4 182.9h.4M384.9 186.5h.4M372.4 185.7h.4M372.4 184.5h.4M369.2 188.8h.4M371.0 185.6h.4M367.4 186.5h.4M363.0 186.8h.4M386.1 185.6h.4M355.3 190.9h.4M372.2 186.2h.4M373.7 187.9h.4M371.3 184.2h.4M362.4 186.3h.4M368.6 186.6h.4M366.4 186.7h.4M361.5 186.0h.4M369.7 187.8h.4M366.8 191.2h.4M365.7 187.1h.4M375.5 187.1h.4M361.6 186.5h.4M373.6 193.6h.4M365.2 191.4h.4M373.4 188.8h.4M370.6 189.1h.4M371.9 185.7h.4M362.2 187.0h.4M363.8 187.9h.4M363.1 187.7h.4M371.4 185.3h.4M376.0 185.5h.4M378.6 188.7h.4M366.0 188.2h.4M370.6 182.3h.4M357.0 187.6h.4M352.2 190.5h.4M363.0 185.8h.4M364.6 188.0h.4M357.5 183.9h.4M355.7 189.5h.4M374.2 184.7h.4M363.5 184.4h.4M356.5 186.6h.4M388.4 193.2h.4M371.3 185.9h.4M367.4 184.3h.4M375.3 188.6h.4M363.8 188.0h.4M382.5 191.5h.4M357.6 184.3h.4M359.4 183.5h.4M368.7 186.7h.4M363.7 188.4h.4M381.1 188.3h.4M357.0 190.1h.4M364.0 183.8h.4M371.7 185.4h.4M374.3 187.1h.4M377.8 189.5h.4M372.5 188.6h.4M387.4 186.4h.4M366.0 184.9h.4M371.2 189.6h.4M376.6 189.8h.4M367.2 194.1h.4M367.4 187.0h.4M366.0 191.4h.4M364.6 184.5h.4M360.7 186.1h.4M365.3 185.8h.4M357.4 186.3h.4M372.7 185.3h.4M357.0 186.1h.4M386.2 187.3h.4M383.2 186.3h.4M378.5 189.0h.4M368.0 187.2h.4M365.0 187.4h.4M379.4 191.0h.4M371.1 188.2h.4M374.1 187.8h.4M363.9 187.4h.4M378.1 187.6h.4M363.3 188.8h.4M370.5 185.5h.4M355.8 190.2h.4M364.4 191.3h.4M373.6 190.3h.4M366.0 186.2h.4M366.1 183.5h.4M375.9 186.4h.4M369.0 187.8h.4M379.5 189.5h.4M350.3 187.0h.4M374.1 186.7h.4M373.6 191.2h.4M357.3 185.8h.4M359.3 190.0h.4M376.6 189.6h.4M361.1 184.2h.4M364.5 188.1h.4M374.4 186.1h.4M366.9 185.1h.4M373.4 182.9h.4M362.7 183.6h.4M371.9 188.4h.4M378.2 186.5h.4M372.2 188.1h.4M352.1 184.8h.4M374.8 186.6h.4M370.0 186.8h.4M362.4 183.6h.4M380.7 183.4h.4M355.7 188.5h.4M384.5 187.8h.4M364.5 185.1h.4M382.1 187.2h.4M369.2 189.0h.4M359.0 191.9h.4M370.3 185.3h.4M372.2 188.9h.4M373.9 192.6h.4M378.0 187.6h.4M362.4 191.0h.4M373.5 181.1h.4M375.4 191.0h.4M367.4 187.4h.4M362.1 182.8h.4M361.9 189.3h.4M375.5 190.0h.4M375.9 190.4h.4M363.0 190.4h.4M358.9 187.4h.4M379.4 185.6h.4M357.2 186.3h.4M370.8 187.3h.4M363.1 188.4h.4M355.6 186.2h.4M370.5 187.5h.4M368.0 189.6h.4M381.0 188.2h.4M387.6 193.1h.4M368.1 192.7h.4M377.7 184.6h.4M377.9 186.0h.4M365.4 184.2h.4M362.7 184.6h.4M382.4 188.8h.4M366.6 185.0h.4M369.3 184.9h.4M367.2 186.8h.4M368.5 189.4h.4M364.7 186.6h.4M375.5 186.6h.4M379.6 189.7h.4M366.6 188.6h.4M358.6 188.5h.4M370.0 189.8h.4M357.7 184.9h.4M364.5 188.0h.4M379.3 185.9h.4M388.0 189.9h.4M372.5 189.4h.4M361.1 184.9h.4M375.8 190.7h.4M351.7 184.6h.4M364.0 190.3h.4M381.7 187.9h.4M375.5 185.3h.4M358.6 184.7h.4M356.3 186.7h.4M376.4 187.4h.4M369.2 185.7h.4M364.8 188.8h.4M372.8 184.0h.4M365.0 187.4h.4M354.3 187.4h.4M376.0 182.8h.4M364.4 188.2h.4M361.6 184.3h.4M358.9 181.3h.4M371.5 185.9h.4M363.1 186.9h.4M374.5 189.7h.4M367.4 186.2h.4M378.2 191.1h.4M366.5 191.0h.4M364.3 190.1h.4M353.9 190.7h.4M360.8 188.3h.4M375.3 186.1h.4M393.9 189.0h.4M359.6 189.8h.4M361.3 188.0h.4M372.2 186.8h.4M373.4 183.6h.4M364.2 189.1h.4M370.2 188.3h.4M356.8 184.2h.4M367.2 187.7h.4M376.7 189.2h.4M382.6 187.2h.4M368.2 189.4h.4M367.5 189.3h.4M373.2 183.8h.4M378.4 186.7h.4M373.4 188.6h.4M363.6 189.7h.4M372.4 190.9h.4M377.3 182.7h.4M363.9 187.3h.4M358.9 189.2h.4M373.6 190.4h.4M372.5 191.6h.4M377.3 185.1h.4M370.3 186.5h.4M364.4 184.8h.4M366.1 189.4h.4M361.4 184.2h.4M362.0 190.3h.4M365.1 189.7h.4M365.7 188.6h.4M378.4 182.1h.4M359.8 185.8h.4M369.2 189.3h.4M364.9 183.9h.4M381.4 186.8h.4M371.7 187.2h.4M366.6 189.6h.4M376.1 188.1h.4M370.1 188.1h.4M365.8 186.3h.4M381.8 187.4h.4M375.3 187.1h.4M383.4 189.2h.4M378.8 187.0h.4M375.8 190.0h.4M370.7 183.2h.4M361.0 190.4h.4M375.3 187.0h.4M370.2 190.2h.4M375.0 187.6h.4M369.6 189.5h.4M364.1 191.1h.4M361.6 186.1h.4M375.2 187.6h.4M379.9 187.0h.4M367.4 187.9h.4M373.3 183.4h.4M380.6 187.0h.4M363.0 186.8h.4M366.9 185.5h.4M360.8 186.9h.4M379.0 183.6h.4M371.7 190.9h.4M366.0 188.5h.4M356.5 192.1h.4M368.2 185.3h.4M377.6 184.5h.4M367.3 188.1h.4M366.3 183.3h.4M374.8 188.0h.4M359.9 185.7h.4M370.1 186.6h.4M374.4 188.0h.4M363.5 187.5h.4M363.1 192.0h.4M371.7 189.0h.4M368.9 184.2h.4M367.8 189.8h.4M371.3 184.1h.4M371.5 187.6h.4M362.3 184.3h.4M364.4 185.4h.4M373.3 190.7h.4M378.6 186.0h.4M380.5 185.8h.4M363.0 186.0h.4M378.4 186.6h.4M375.7 191.0h.4M369.5 184.5h.4M373.6 184.4h.4M376.3 188.8h.4M383.9 183.5h.4M361.3 186.5h.4M374.5 190.2h.4M368.6 187.4h.4M368.1 186.2h.4M378.8 185.6h.4M376.2 185.1h.4M361.7 185.9h.4M367.5 187.7h.4M371.5 190.5h.4M358.5 189.8h.4M376.6 186.0h.4M369.1 185.6h.4M371.0 189.1h.4M372.4 182.9h.4M384.1 186.3h.4M370.0 186.6h.4M366.9 184.6h.4M383.5 184.9h.4M365.8 188.2h.4M365.6 183.3h.4M358.8 185.1h.4M378.3 185.8h.4M371.9 187.6h.4M373.5 184.0h.4M371.1 190.1h.4M368.7 186.6h.4M363.5 186.7h.4M363.6 186.5h.4M373.2 185.7h.4M370.7 184.9h.4M382.7 190.2h.4M363.7 187.9h.4M365.9 187.1h.4M361.7 189.8h.4M380.7 185.6h.4M360.0 188.9h.4M375.9 187.4h.4M381.2 185.1h.4M368.7 189.2h.4M375.5 183.7h.4M352.9 188.9h.4M366.7 185.2h.4M356.7 188.3h.4M371.1 190.7h.4M369.9 188.7h.4M363.7 185.8h.4M377.3 187.3h.4M372.6 186.4h.4M365.6 184.4h.4M365.7 184.6h.4M358.2 187.4h.4M368.3 188.6h.4M386.6 183.0h.4M364.2 187.1h.4M373.1 188.6h.4M365.5 187.6h.4M376.1 184.8h.4M373.3 189.8h.4M368.0 184.3h.4M355.7 188.9h.4M365.7 191.2h.4M379.3 182.3h.4M367.9 187.9h.4M374.8 188.1h.4M366.0 187.8h.4M355.0 185.4h.4M373.2 186.5h.4M372.3 183.8h.4M365.2 187.6h.4M366.9 188.6h.4M372.1 185.6h.4M365.1 185.0h.4M372.5 186.1h.4M368.2 187.3h.4M351.2 187.4h.4M368.7 187.0h.4M365.1 187.4h.4M363.2 184.1h.4M373.0 180.6h.4M365.9 188.8h.4M374.1 190.8h.4M378.5 183.8h.4M370.9 185.6h.4M357.6 188.0h.4M364.0 189.6h.4M377.0 188.9h.4M367.8 190.4h.4M363.4 187.1h.4M369.1 188.3h.4M373.8 188.3h.4M371.9 186.2h.4M374.9 190.2h.4M363.3 188.8h.4M367.7 189.7h.4M367.8 186.3h.4M369.7 189.8h.4M353.3 184.7h.4M368.0 188.2h.4M359.2 180.9h.4M380.8 184.8h.4M382.1 189.1h.4M383.1 186.2h.4M376.2 187.7h.4M366.0 183.3h.4M377.4 191.0h.4M368.3 188.7h.4M374.7 187.2h.4M362.7 188.3h.4M365.2 188.1h.4M373.5 190.7h.4M383.9 187.8h.4M369.7 183.6h.4M387.7 186.6h.4M391.6 190.4h.4M359.7 188.6h.4M369.6 186.2h.4M362.3 188.7h.4M368.8 187.5h.4M365.6 188.7h.4M369.3 183.4h.4M377.5 185.1h.4M377.3 188.9h.4M371.9 186.7h.4M369.9 188.1h.4M370.8 192.0h.4M370.9 186.5h.4M374.4 187.8h.4M369.9 185.9h.4M373.9 185.7h.4M359.5 187.1h.4M376.1 183.7h.4M383.7 182.1h.4M371.3 190.6h.4M358.7 187.0h.4M380.6 190.0h.4M367.3 187.5h.4M368.2 188.9h.4M374.7 189.0h.4M372.9 184.3h.4M379.7 190.2h.4M374.8 184.9h.4M370.9 187.7h.4M354.3 193.5h.4M361.1 187.4h.4M371.3 191.3h.4M375.3 186.4h.4M361.8 188.8h.4M365.1 187.4h.4M373.6 188.3h.4M354.8 185.2h.4M354.5 185.0h.4M368.1 188.1h.4M371.9 183.4h.4M366.1 185.2h.4M351.7 188.8h.4M370.1 185.8h.4M359.4 185.1h.4M375.1 184.5h.4M369.1 187.6h.4M372.0 186.4h.4M375.0 187.6h.4M365.7 186.8h.4M376.5 191.8h.4M379.7 186.2h.4M373.0 182.5h.4M380.4 187.5h.4M364.9 187.3h.4M377.2 187.6h.4M372.0 183.3h.4M362.1 190.0h.4M369.3 187.2h.4M365.7 187.2h.4M365.5 183.4h.4M370.6 188.4h.4M378.3 187.1h.4M367.4 190.5h.4M370.9 186.2h.4M358.3 184.2h.4M370.8 187.6h.4M379.0 185.0h.4M376.3 188.3h.4M373.7 184.6h.4M365.7 186.9h.4M362.2 186.7h.4M369.2 187.2h.4M359.3 186.0h.4M360.1 185.3h.4M377.4 187.1h.4M362.6 185.8h.4M384.1 187.6h.4M358.6 186.6h.4M373.3 181.8h.4M360.6 187.1h.4M371.3 190.6h.4M361.7 188.0h.4M370.2 188.7h.4M368.7 188.4h.4M366.3 186.1h.4M374.0 184.0h.4M381.9 189.2h.4M365.2 189.8h.4M376.9 188.6h.4M370.6 188.3h.4M369.7 188.2h.4M387.3 187.2h.4M352.7 187.9h.4M364.5 187.3h.4M355.6 188.0h.4M367.4 185.0h.4M368.1 185.7h.4M400.1 188.6h.4M372.7 186.4h.4M384.1 181.4h.4M380.2 187.6h.4M366.4 181.7h.4M373.7 191.9h.4M383.1 189.0h.4M371.3 188.9h.4M371.6 185.7h.4M373.9 184.5h.4M358.0 186.7h.4M363.5 187.3h.4M372.6 185.4h.4M374.2 187.6h.4M362.6 188.9h.4M367.3 188.7h.4M368.9 184.8h.4M368.7 182.1h.4M375.4 187.3h.4M370.7 185.7h.4M371.2 188.3h.4M358.7 191.2h.4M361.5 191.2h.4M372.4 188.0h.4M357.3 189.9h.4M372.0 191.2h.4M364.6 187.4h.4M363.4 187.9h.4M375.0 189.3h.4M364.5 187.2h.4M363.1 186.1h.4M364.5 185.5h.4M370.3 187.3h.4M391.7 185.8h.4M353.1 189.2h.4M369.7 186.5h.4M367.9 190.8h.4M377.4 190.2h.4M366.9 184.3h.4M350.2 189.9h.4M380.4 186.3h.4M361.2 190.6h.4M369.4 188.5h.4M359.0 187.2h.4M361.1 188.9h.4M365.9 186.0h.4M376.6 188.1h.4M376.5 188.2h.4M365.1 187.0h.4M373.8 188.2h.4M366.9 184.9h.4M370.7 188.6h.4M371.0 184.4h.4M374.7 188.8h.4M364.9 188.4h.4M368.8 189.0h.4M371.5 186.0h.4M370.5 194.6h.4M363.5 186.8h.4M383.5 187.7h.4M366.1 185.5h.4M375.8 190.7h.4M371.4 186.2h.4M379.5 189.7h.4M352.4 185.1h.4M386.1 188.1h.4M368.1 186.5h.4M360.0 189.6h.4M370.8 186.7h.4M387.7 185.3h.4M373.8 188.4h.4M360.0 184.5h.4M366.1 185.1h.4M380.4 189.2h.4M358.6 182.9h.4M368.3 189.2h.4M367.4 186.4h.4M387.0 185.2h.4M367.4 187.9h.4M380.2 188.9h.4M364.4 186.0h.4M363.4 187.0h.4M377.7 189.3h.4M374.7 189.2h.4M356.0 187.3h.4M374.8 185.6h.4M374.9 185.1h.4M364.9 186.0h.4M371.5 189.0h.4M371.9 188.8h.4M365.9 188.1h.4M365.1 190.7h.4M364.4 186.7h.4M367.6 186.5h.4M359.2 186.5h.4M369.4 191.9h.4M357.9 182.5h.4M370.3 188.1h.4M369.1 188.5h.4M361.5 187.6h.4M376.5 192.9h.4M385.1 190.2h.4M380.3 189.2h.4M358.9 185.3h.4M379.9 188.6h.4M371.5 186.5h.4M369.3 187.5h.4M365.0 187.9h.4M369.7 186.3h.4M380.8 188.9h.4M374.1 191.3h.4M366.4 189.9h.4M364.4 187.9h.4M366.4 182.9h.4M374.4 190.0h.4M384.5 190.0h.4M361.3 187.0h.4M369.7 186.3h.4M366.7 189.0h.4M363.8 185.5h.4M372.9 189.3h.4M374.1 184.9h.4M358.5 185.3h.4M361.5 187.5h.4M379.2 184.0h.4M372.2 187.5h.4M373.9 188.7h.4M365.7 184.4h.4M366.7 189.6h.4M373.4 186.1h.4M365.8 188.8h.4M360.9 188.0h.4M369.7 186.4h.4M376.9 186.2h.4M361.6 183.5h.4M378.1 185.8h.4M375.3 185.7h.4M362.9 191.3h.4M369.8 189.9h.4M369.4 184.3h.4M374.7 189.4h.4M375.0 188.0h.4M359.4 186.6h.4M359.0 188.6h.4M377.9 189.3h.4M370.6 186.1h.4M373.0 186.8h.4M372.4 187.9h.4M381.9 185.2h.4M360.2 187.9h.4M378.4 187.3h.4M363.2 185.9h.4M375.5 185.5h.4M380.3 188.2h.4M358.8 189.5h.4M372.9 188.3h.4M367.5 185.5h.4M367.4 189.2h.4M370.1 187.9h.4M361.4 188.9h.4M362.1 190.2h.4M374.9 185.4h.4M376.4 187.2h.4M365.2 186.1h.4M358.2 185.4h.4M388.1 192.2h.4M402.9 187.6h.4M380.1 192.7h.4M398.6 182.4h.4M390.3 184.2h.4M404.6 190.5h.4M395.7 187.8h.4M393.5 186.1h.4M396.2 187.3h.4M398.2 185.1h.4M395.2 187.7h.4M393.1 190.9h.4M393.8 186.5h.4M399.3 187.7h.4M385.5 190.2h.4M395.0 192.1h.4M394.0 186.0h.4M390.9 188.1h.4M401.2 186.1h.4M384.1 185.9h.4M391.9 186.4h.4M387.8 185.9h.4M399.6 183.3h.4M391.1 182.7h.4M395.4 185.7h.4M398.2 187.7h.4M381.6 190.2h.4M398.8 186.1h.4M388.7 187.0h.4M392.9 188.9h.4M394.0 189.1h.4M401.8 187.1h.4M401.2 187.3h.4M409.8 191.8h.4M396.5 186.6h.4M391.0 186.2h.4M390.8 183.6h.4M400.5 188.4h.4M408.5 186.8h.4M397.9 191.9h.4M390.2 186.6h.4M397.3 189.3h.4M397.1 189.6h.4M395.3 191.3h.4M388.8 184.3h.4M373.7 191.1h.4M390.5 187.4h.4M403.8 187.1h.4M396.8 186.7h.4M376.4 186.5h.4M395.0 186.6h.4M379.5 181.9h.4M411.7 188.6h.4M396.6 187.5h.4M384.9 185.2h.4M401.7 187.2h.4M388.4 192.8h.4M399.7 188.3h.4M395.2 186.5h.4M385.1 191.4h.4M400.6 185.5h.4M383.7 187.0h.4M406.3 186.1h.4M395.5 186.8h.4M386.4 189.1h.4M379.8 188.7h.4M408.6 185.7h.4M407.2 187.1h.4M384.4 187.6h.4M408.8 186.4h.4M396.4 187.3h.4M393.1 185.7h.4M394.3 185.7h.4M392.7 187.5h.4M407.0 185.0h.4M396.3 188.4h.4M379.5 186.9h.4M412.6 185.2h.4M402.4 185.9h.4M385.8 186.3h.4M392.0 187.0h.4M387.4 187.6h.4M395.4 186.9h.4M398.3 185.3h.4M397.0 190.7h.4M390.0 189.5h.4M388.3 187.6h.4M402.1 189.6h.4M394.2 188.1h.4M413.9 186.8h.4M388.2 187.6h.4M401.6 193.6h.4M395.4 189.7h.4M388.6 189.8h.4M406.5 186.5h.4M396.0 188.8h.4M387.5 192.6h.4M392.3 188.4h.4M403.6 189.9h.4M384.7 190.3h.4M406.6 188.9h.4M400.8 191.0h.4M392.7 187.9h.4M406.4 188.5h.4M409.7 185.9h.4M400.0 193.5h.4M396.4 188.1h.4M410.5 187.6h.4M407.6 190.6h.4M387.2 186.2h.4M393.3 187.4h.4M393.2 185.5h.4M391.5 187.4h.4M382.4 186.5h.4M402.6 188.6h.4M395.7 187.1h.4M395.8 186.0h.4M406.9 186.7h.4M390.2 187.1h.4M394.5 186.2h.4M397.3 189.5h.4M391.4 188.9h.4M394.1 187.7h.4M401.5 184.6h.4M394.9 188.6h.4M406.2 184.4h.4M388.7 187.8h.4M396.7 187.5h.4M382.9 186.0h.4M394.0 185.4h.4M389.1 185.8h.4M406.5 192.1h.4M401.3 186.7h.4M399.3 186.9h.4M410.6 189.6h.4M407.2 188.3h.4M401.1 189.8h.4M389.2 184.5h.4M382.8 184.8h.4M394.7 195.1h.4M392.0 187.3h.4M389.5 186.7h.4M392.5 187.7h.4M381.0 189.7h.4M407.6 184.6h.4M385.3 188.0h.4M389.3 187.3h.4M399.8 188.9h.4M381.2 187.8h.4M402.8 186.1h.4M403.0 185.4h.4M392.3 181.7h.4M385.9 189.6h.4M391.0 184.0h.4M379.3 186.4h.4M406.8 191.2h.4M395.5 186.4h.4M388.7 188.8h.4M387.3 186.9h.4M399.9 189.0h.4M407.8 187.4h.4M384.2 186.2h.4M390.1 190.5h.4M380.0 186.7h.4M400.7 184.3h.4M396.3 186.6h.4M414.2 188.6h.4M394.0 184.8h.4M391.3 189.2h.4M389.0 189.1h.4M402.3 192.3h.4M381.1 185.9h.4M401.4 188.9h.4M397.1 183.5h.4M390.7 186.4h.4M387.3 187.6h.4M404.0 188.3h.4M410.9 187.2h.4M391.2 187.2h.4M399.5 185.9h.4M409.9 186.3h.4M389.7 188.1h.4M392.9 188.7h.4M384.6 188.8h.4M393.7 189.7h.4M394.3 190.1h.4M391.4 183.2h.4M388.7 186.2h.4M381.5 187.0h.4M383.5 185.9h.4M386.7 189.8h.4M400.5 189.1h.4M390.6 187.1h.4M387.7 187.6h.4M400.6 190.3h.4M399.8 186.6h.4M388.5 186.6h.4M389.6 189.4h.4M400.7 188.4h.4M398.1 190.6h.4M387.8 188.2h.4M397.1 189.1h.4M394.7 186.1h.4M404.5 185.2h.4M387.6 187.3h.4M402.6 181.3h.4M398.7 188.3h.4M386.4 189.6h.4M404.0 187.5h.4M402.8 186.9h.4M383.7 189.9h.4M412.0 187.3h.4M385.2 189.6h.4M387.1 192.4h.4M392.2 189.0h.4M401.6 189.5h.4M400.0 188.5h.4M394.2 187.9h.4M406.7 188.0h.4M398.5 187.5h.4M407.0 189.9h.4M419.2 183.7h.4M396.7 186.7h.4M372.8 188.9h.4M391.1 185.4h.4M385.7 187.1h.4M395.8 185.8h.4M395.8 188.4h.4M384.4 189.3h.4M385.0 190.7h.4M392.7 188.5h.4M393.3 185.7h.4M372.5 187.9h.4M403.4 188.7h.4M395.3 190.6h.4M394.9 182.4h.4M397.6 188.2h.4M386.1 183.2h.4M394.6 189.0h.4M404.0 188.4h.4M404.3 188.5h.4M399.0 189.4h.4M392.6 188.2h.4M387.9 185.9h.4M406.5 188.2h.4M399.6 190.1h.4M391.3 187.1h.4M376.1 187.4h.4M387.4 184.6h.4M378.2 190.0h.4M405.9 186.2h.4M396.6 185.7h.4M388.5 186.3h.4M392.6 185.4h.4M417.7 186.8h.4M405.6 190.3h.4M383.2 189.2h.4M393.9 190.6h.4M384.2 190.8h.4M379.9 185.3h.4M396.5 188.5h.4M416.2 190.8h.4M408.7 192.6h.4M395.4 184.1h.4M391.7 184.1h.4M396.8 188.4h.4M404.1 186.6h.4M382.1 185.1h.4M378.5 188.2h.4M411.6 185.6h.4M397.5 182.2h.4M409.2 187.3h.4M397.1 187.6h.4M408.1 188.8h.4M389.6 189.5h.4M399.4 187.8h.4M408.7 186.8h.4M404.0 185.8h.4M390.9 183.6h.4M402.9 186.4h.4M389.1 189.6h.4M382.3 188.8h.4M399.6 192.1h.4M407.4 187.0h.4M402.5 183.3h.4M383.8 189.2h.4M402.7 189.7h.4M401.0 184.7h.4M390.9 183.7h.4M372.9 187.7h.4M404.0 189.0h.4M402.9 184.8h.4M399.4 186.6h.4M379.6 185.6h.4M381.7 184.6h.4M404.0 184.3h.4M402.2 187.7h.4M399.4 186.5h.4M392.8 185.8h.4M398.5 181.4h.4M390.2 191.3h.4M392.2 185.2h.4M387.3 187.0h.4M397.3 184.7h.4M391.3 188.2h.4M403.5 183.9h.4M401.4 187.6h.4M387.7 186.9h.4M411.4 189.4h.4M385.0 184.8h.4M399.0 185.9h.4M404.7 186.8h.4M406.5 192.1h.4M375.2 184.0h.4M404.0 188.0h.4M405.9 185.8h.4M407.9 188.0h.4M375.0 188.8h.4M388.9 187.7h.4M394.1 187.9h.4M391.0 188.0h.4M407.0 186.0h.4M388.9 186.8h.4M406.0 183.5h.4M400.0 186.5h.4M381.9 185.6h.4M386.1 186.7h.4M390.8 189.0h.4M395.9 188.2h.4M403.9 188.4h.4M393.4 189.9h.4M403.2 181.9h.4M380.8 188.3h.4M367.6 187.3h.4M392.0 187.1h.4M399.1 184.3h.4M391.7 188.6h.4M385.9 189.9h.4M398.8 189.7h.4M412.4 187.1h.4M394.1 188.8h.4M388.5 189.4h.4M387.4 191.5h.4M412.7 190.1h.4M394.6 187.6h.4M400.5 187.5h.4M406.0 187.7h.4M404.7 187.8h.4M386.7 186.2h.4M403.6 189.1h.4M402.6 185.7h.4M399.4 185.5h.4M404.1 188.1h.4M389.9 186.0h.4M394.3 186.8h.4M390.3 182.6h.4M401.8 189.1h.4M389.1 187.3h.4M398.5 187.0h.4M385.2 188.4h.4M393.9 187.8h.4M391.7 185.7h.4M394.0 191.9h.4M396.2 186.3h.4M393.3 189.5h.4M393.0 191.5h.4M376.4 185.9h.4M404.9 187.5h.4M389.4 185.4h.4M392.8 189.7h.4M387.6 186.5h.4M404.0 184.8h.4M386.9 190.3h.4M399.5 189.4h.4M405.6 185.3h.4M409.8 190.0h.4M405.7 187.8h.4M400.6 193.5h.4M384.2 191.2h.4M406.6 186.0h.4M405.7 186.7h.4M402.6 185.3h.4M402.2 187.6h.4M395.7 187.4h.4M390.4 189.0h.4M404.8 187.5h.4M406.5 183.9h.4M385.7 185.4h.4M403.3 190.5h.4M397.3 189.9h.4M403.0 186.9h.4M397.5 187.0h.4M405.1 186.9h.4M404.3 187.4h.4M403.1 183.5h.4M382.7 189.4h.4M402.5 185.8h.4M395.6 187.6h.4M385.0 181.5h.4M401.5 187.8h.4M382.9 190.4h.4M403.1 182.2h.4M410.3 190.8h.4M390.6 188.4h.4M403.4 185.6h.4M399.2 183.7h.4M401.0 190.0h.4M383.1 187.9h.4M400.6 188.7h.4M396.4 186.7h.4M401.8 185.5h.4M395.3 189.3h.4M405.0 185.1h.4M397.6 189.4h.4M401.3 183.5h.4M407.4 185.2h.4M396.8 184.0h.4M404.1 190.3h.4M397.3 183.3h.4M399.9 184.7h.4M390.5 188.8h.4M402.2 187.8h.4M406.2 192.3h.4M394.5 191.5h.4M402.3 188.7h.4M399.1 188.9h.4M385.4 183.1h.4M398.4 185.3h.4M407.0 186.5h.4M391.0 186.9h.4M379.4 184.1h.4M397.1 185.2h.4M389.6 185.4h.4M412.1 189.7h.4M394.9 188.3h.4M395.3 186.5h.4M389.7 186.7h.4M397.5 188.0h.4M390.3 185.7h.4M387.3 186.7h.4M394.8 183.3h.4M388.1 188.8h.4M407.0 189.5h.4M385.0 188.1h.4M394.7 188.4h.4M389.2 188.1h.4M383.1 192.0h.4M410.0 187.8h.4M376.7 184.3h.4M408.2 184.9h.4M382.8 188.9h.4M413.1 187.1h.4M411.7 186.0h.4M412.0 192.9h.4M408.9 185.6h.4M400.9 192.7h.4M404.6 191.0h.4M399.3 185.1h.4M406.1 184.5h.4M401.5 190.8h.4M408.5 186.5h.4M407.2 187.4h.4M398.7 186.2h.4M411.5 183.3h.4M411.6 185.8h.4M401.3 184.1h.4M408.7 182.4h.4M411.4 186.0h.4M406.6 192.2h.4M412.1 191.7h.4M408.9 186.7h.4M413.1 187.3h.4M408.9 188.4h.4M407.2 191.0h.4M410.4 187.9h.4M411.7 185.5h.4M409.2 185.7h.4M405.8 190.3h.4M404.2 194.7h.4M406.2 185.0h.4M405.2 180.8h.4M408.9 189.3h.4M408.8 186.7h.4M407.5 187.3h.4M407.9 190.6h.4M408.8 187.1h.4M415.5 183.0h.4M413.7 181.1h.4M405.2 186.8h.4M410.0 183.5h.4M406.4 187.8h.4M407.5 183.1h.4M406.8 185.9h.4M404.9 182.5h.4M401.4 185.8h.4M396.1 185.6h.4M408.9 188.7h.4M413.6 190.9h.4M403.6 186.4h.4M410.4 184.3h.4M406.1 192.8h.4M409.3 188.0h.4M404.0 188.7h.4M406.8 188.7h.4M407.4 191.3h.4M396.5 189.9h.4M409.0 188.9h.4M407.2 189.2h.4M395.9 184.4h.4M411.0 185.1h.4M407.7 186.6h.4M408.9 187.2h.4M409.6 187.0h.4M405.9 187.8h.4M402.7 187.0h.4M405.7 185.6h.4M405.8 182.1h.4M418.6 189.4h.4M416.8 188.7h.4M405.5 184.3h.4M405.9 188.4h.4M409.4 188.1h.4M410.6 187.1h.4M404.5 181.4h.4M403.0 183.3h.4M417.2 185.1h.4M413.0 191.8h.4M400.4 184.4h.4M399.3 185.9h.4M403.9 183.6h.4M408.9 185.4h.4M410.5 187.9h.4M406.2 180.7h.4M400.0 178.4h.4M408.9 188.9h.4M410.8 187.0h.4M407.9 185.1h.4M405.5 189.8h.4M410.6 189.8h.4M407.6 180.6h.4M402.4 186.4h.4M408.3 190.2h.4M401.6 184.9h.4M412.5 186.0h.4M410.1 189.8h.4M403.0 186.1h.4M408.9 183.3h.4M413.9 184.9h.4M397.4 182.9h.4M407.2 188.6h.4M415.9 181.8h.4M400.3 189.9h.4M407.0 182.0h.4M400.9 187.1h.4M407.5 182.5h.4M396.2 186.0h.4M399.9 190.0h.4M405.2 190.3h.4M408.5 190.8h.4M409.7 186.7h.4M409.9 187.2h.4M413.5 187.6h.4M411.3 188.8h.4M411.5 185.7h.4M403.1 190.2h.4M407.1 187.9h.4M423.4 190.4h.4M418.9 188.4h.4M411.9 189.0h.4M411.5 184.7h.4M412.7 185.7h.4M405.9 183.0h.4M417.4 186.0h.4M406.0 186.4h.4M407.4 189.4h.4M418.5 183.1h.4M397.7 196.6h.4M409.6 186.6h.4M399.4 190.7h.4M404.6 190.0h.4M407.4 179.4h.4M406.1 186.1h.4M408.7 191.3h.4M404.1 179.6h.4M407.3 189.2h.4M402.0 184.2h.4M405.9 185.5h.4M401.0 187.6h.4M411.1 181.3h.4M401.5 187.5h.4M411.3 185.0h.4M405.8 184.7h.4M406.4 189.0h.4M413.7 197.4h.4M408.4 187.9h.4M398.5 188.6h.4M410.3 186.8h.4M393.6 184.7h.4M409.2 187.7h.4M405.9 191.5h.4M400.9 187.5h.4M417.1 165.0h.4M410.3 166.2h.4M427.2 163.5h.4M404.9 175.0h.4M415.7 166.4h.4M415.9 167.5h.4M413.4 165.9h.4M406.5 170.9h.4M407.8 174.0h.4M412.4 171.0h.4M413.5 168.7h.4M405.9 171.0h.4M405.3 167.5h.4M416.2 167.9h.4M418.9 167.0h.4M410.9 172.4h.4M411.2 175.0h.4M409.3 171.3h.4M427.3 164.5h.4M414.3 164.8h.4M413.8 171.5h.4M419.2 168.0h.4M426.8 165.9h.4M419.9 167.2h.4M405.5 173.3h.4M413.9 172.2h.4M409.9 168.1h.4M411.6 170.9h.4M407.3 174.2h.4M409.8 167.8h.4M405.7 168.7h.4M415.1 168.7h.4M413.2 168.8h.4M405.8 173.6h.4M404.2 174.4h.4M409.4 168.1h.4M416.7 167.7h.4M416.7 170.0h.4M412.1 168.0h.4M394.5 176.4h.4M408.9 167.3h.4M409.6 172.4h.4M413.1 174.0h.4M404.7 168.6h.4M411.3 171.5h.4M410.1 172.4h.4M427.0 160.4h.4M416.2 166.0h.4M410.6 166.7h.4M411.7 167.0h.4M412.3 169.3h.4M414.5 169.7h.4M410.7 169.9h.4M413.6 170.6h.4M418.6 166.5h.4M416.1 163.8h.4M416.0 171.2h.4M421.3 168.0h.4M413.3 166.4h.4M409.3 175.2h.4M403.8 174.2h.4M409.1 170.7h.4M414.5 173.2h.4M412.3 161.9h.4M417.0 162.2h.4M410.4 171.7h.4M408.1 170.1h.4M416.0 164.5h.4M420.8 169.1h.4M410.7 171.0h.4M413.3 164.9h.4M419.6 163.6h.4M415.5 169.8h.4M414.4 172.9h.4M399.3 169.3h.4M420.3 165.9h.4M415.9 166.1h.4M411.6 164.3h.4M410.1 169.5h.4M404.3 168.2h.4M411.7 167.7h.4M414.0 172.7h.4M419.3 167.1h.4M407.0 173.5h.4M421.3 166.4h.4M413.4 169.4h.4M420.3 167.9h.4M406.3 168.5h.4M414.3 167.0h.4M420.4 167.5h.4M412.7 166.7h.4M404.3 171.4h.4M412.3 172.3h.4M417.4 170.8h.4M404.5 170.8h.4M404.1 170.5h.4M414.7 169.4h.4M407.9 171.7h.4M415.8 165.4h.4M407.1 173.0h.4M403.4 174.6h.4M408.7 170.8h.4M424.1 171.7h.4M409.6 174.0h.4M413.7 170.6h.4M415.3 170.4h.4M410.8 177.9h.4M420.0 168.4h.4M413.0 166.6h.4M415.6 168.3h.4M403.7 173.1h.4M402.7 171.8h.4M398.1 176.3h.4M412.1 169.8h.4M411.5 169.1h.4M416.3 165.7h.4M421.8 166.8h.4M409.7 165.7h.4M412.3 171.3h.4M415.3 167.6h.4M421.5 165.4h.4M405.8 165.3h.4M418.1 171.0h.4M409.6 165.3h.4M410.1 167.6h.4M418.0 168.1h.4M407.9 169.3h.4M406.6 170.5h.4M414.1 161.9h.4M412.2 167.8h.4M411.6 169.9h.4M412.9 170.6h.4M415.2 166.8h.4M411.1 170.1h.4M417.5 167.8h.4M414.4 166.1h.4M420.1 163.2h.4M421.9 170.0h.4M416.6 164.6h.4M413.1 172.1h.4M413.6 168.6h.4M411.2 173.6h.4M427.7 160.0h.4M412.2 170.5h.4M416.2 168.0h.4M420.0 164.7h.4M405.8 172.9h.4M407.5 169.0h.4M410.6 169.5h.4M407.0 170.3h.4M406.8 173.7h.4M410.0 169.8h.4M418.4 162.2h.4M416.4 166.0h.4M413.0 168.4h.4M412.1 166.5h.4M405.3 176.0h.4M417.1 167.9h.4M416.1 169.6h.4M406.2 169.7h.4M413.6 167.2h.4M412.9 171.5h.4M408.5 166.7h.4M407.9 172.0h.4M409.3 170.6h.4M407.2 169.9h.4M415.5 167.7h.4M413.7 165.3h.4M414.9 168.4h.4M410.6 166.3h.4M409.3 166.8h.4M425.5 166.7h.4M402.0 171.8h.4M417.1 160.8h.4M415.9 170.0h.4M412.4 166.7h.4M406.3 161.8h.4M411.6 169.1h.4M407.4 173.8h.4M405.7 173.0h.4M414.1 172.9h.4M403.7 172.6h.4M418.1 167.9h.4M417.9 163.5h.4M394.4 177.8h.4M406.1 176.2h.4M414.9 169.2h.4M414.2 168.5h.4M411.4 163.8h.4M414.8 166.7h.4M415.6 163.8h.4M418.4 168.3h.4M421.8 162.4h.4M413.4 169.5h.4M416.5 164.2h.4M406.1 177.2h.4M410.9 166.3h.4M406.4 172.1h.4M423.3 171.2h.4M425.8 163.3h.4M414.9 165.3h.4M406.5 173.4h.4M413.4 171.3h.4M414.0 170.6h.4M411.9 163.6h.4M419.1 166.4h.4M415.8 161.3h.4M400.6 179.8h.4M420.4 165.4h.4M409.7 168.9h.4M410.6 171.7h.4M421.2 166.2h.4M410.2 166.6h.4M407.2 175.9h.4M405.4 171.5h.4M411.3 164.4h.4M419.4 169.6h.4M422.7 168.4h.4M413.4 172.0h.4M411.0 171.1h.4M420.8 162.5h.4M411.5 172.0h.4M422.9 169.3h.4M415.1 170.0h.4M416.0 171.8h.4M410.8 167.5h.4M415.6 170.3h.4M411.4 172.0h.4M407.6 166.9h.4M410.4 165.2h.4M408.6 168.6h.4M414.7 168.1h.4M413.9 169.5h.4M411.3 168.8h.4M411.8 169.0h.4M411.6 169.0h.4M422.5 164.5h.4M413.5 170.1h.4M410.2 171.3h.4M411.3 169.3h.4M416.8 167.6h.4M411.4 168.1h.4M413.0 170.9h.4M411.0 168.2h.4M415.6 172.1h.4M415.0 167.6h.4M415.6 168.2h.4M403.2 171.1h.4M406.8 170.6h.4M398.8 175.7h.4M417.3 166.7h.4M418.3 164.4h.4M418.7 162.7h.4M413.8 168.4h.4M419.3 166.1h.4M413.3 170.1h.4M413.6 171.9h.4M404.2 171.9h.4M406.5 166.0h.4M409.6 169.9h.4M415.9 162.0h.4M420.5 161.5h.4M411.5 172.3h.4M415.6 169.1h.4M413.7 166.5h.4M408.0 169.2h.4M403.5 172.8h.4M406.9 166.5h.4M405.6 173.5h.4M410.8 168.7h.4M414.2 173.4h.4M410.8 166.7h.4M413.1 171.5h.4M414.8 165.9h.4M409.0 173.4h.4M416.7 164.2h.4M404.6 174.6h.4M412.8 167.5h.4M414.1 165.8h.4M408.5 170.3h.4M404.8 173.9h.4M416.8 168.0h.4M411.0 174.1h.4M418.1 168.6h.4M414.2 160.6h.4M412.4 167.8h.4M410.7 164.0h.4M417.9 165.3h.4M415.6 169.2h.4M406.4 167.9h.4M412.5 165.5h.4M416.1 167.6h.4M413.7 167.5h.4M415.7 171.9h.4M412.5 169.8h.4M412.9 170.3h.4M409.8 175.2h.4M404.6 171.1h.4M419.0 165.9h.4M408.4 168.0h.4M414.4 168.7h.4M405.9 174.9h.4M415.3 171.5h.4M408.4 170.7h.4M428.2 159.5h.4M406.6 169.5h.4M406.2 167.9h.4M418.2 166.6h.4M420.6 169.0h.4M398.9 168.5h.4M411.9 163.0h.4M419.2 169.8h.4M404.5 168.0h.4M417.0 167.8h.4M408.7 167.1h.4M408.4 173.1h.4M411.9 171.4h.4M410.6 170.3h.4M406.3 174.2h.4M425.1 163.2h.4M411.1 171.2h.4M410.9 174.9h.4M418.7 169.2h.4M411.8 167.4h.4M419.2 163.5h.4M411.2 168.8h.4M414.6 167.3h.4M413.5 168.7h.4M413.2 166.9h.4M412.5 170.8h.4M412.4 169.1h.4M422.4 165.4h.4M409.2 170.5h.4M410.6 171.6h.4M409.7 166.8h.4M417.7 171.0h.4M415.5 168.5h.4M418.5 167.4h.4M406.4 173.5h.4M415.5 170.6h.4M412.8 170.9h.4M411.6 170.0h.4M413.6 167.9h.4M400.5 169.8h.4M414.6 168.6h.4M413.4 167.6h.4M404.9 171.6h.4M415.0 174.6h.4M419.2 160.5h.4M410.9 169.9h.4M417.5 170.1h.4M412.8 171.6h.4M409.9 173.7h.4M406.6 168.1h.4M409.7 167.5h.4M420.6 166.9h.4M417.0 166.0h.4M411.0 174.6h.4M418.6 166.8h.4M412.5 169.5h.4M409.7 171.5h.4M415.0 167.0h.4M408.1 171.3h.4M403.7 171.1h.4M419.9 165.4h.4M402.6 172.2h.4M416.1 168.0h.4M403.2 169.3h.4M411.1 165.3h.4M412.4 170.3h.4M410.8 170.4h.4M400.1 172.0h.4M412.1 168.5h.4M411.6 166.4h.4M410.4 175.8h.4M410.9 165.3h.4M420.2 170.3h.4M408.2 168.6h.4M414.8 169.1h.4M406.5 171.0h.4M414.6 166.9h.4M417.4 169.4h.4M427.2 164.5h.4M417.5 165.8h.4M414.3 165.5h.4M422.8 170.1h.4M409.2 174.6h.4M418.9 166.4h.4M409.7 169.4h.4M410.0 171.0h.4M418.9 166.2h.4M415.5 171.0h.4M419.0 163.2h.4M405.2 172.4h.4M413.6 166.2h.4M411.6 173.2h.4M413.5 173.7h.4M402.6 173.3h.4M418.6 167.7h.4M415.6 171.6h.4M407.4 170.5h.4M404.7 169.9h.4M409.5 173.4h.4M421.0 166.5h.4M412.2 168.5h.4M412.8 173.0h.4M415.9 168.1h.4M411.1 164.5h.4M414.6 169.0h.4M416.9 166.8h.4M416.8 172.4h.4M417.7 166.5h.4M406.4 171.2h.4M413.8 169.6h.4M411.4 170.2h.4M412.0 165.2h.4M412.9 169.1h.4M409.3 169.6h.4M412.7 172.9h.4M420.7 172.0h.4M393.8 172.3h.4M395.0 179.1h.4M396.0 169.9h.4M397.5 178.9h.4M397.2 166.7h.4M403.2 172.7h.4M411.5 177.5h.4M392.3 176.5h.4M390.4 168.8h.4M388.0 167.8h.4M411.6 177.4h.4M413.4 167.7h.4M390.5 176.0h.4M389.7 171.0h.4M403.8 173.3h.4M411.5 183.9h.4M410.9 180.4h.4M404.3 177.2h.4M408.2 167.1h.4M405.4 174.8h.4M398.3 173.6h.4M418.0 172.9h.4M402.7 179.5h.4M393.9 165.6h.4M399.0 174.8h.4M390.4 174.0h.4M402.9 170.0h.4M411.5 181.2h.4M392.6 167.6h.4M411.8 173.5h.4M419.5 173.7h.4M405.8 163.4h.4M393.5 166.9h.4M395.9 169.0h.4M400.1 177.0h.4M392.5 177.7h.4M392.8 176.1h.4M400.7 174.5h.4M401.3 163.4h.4M407.6 174.3h.4M393.2 171.0h.4M417.7 178.7h.4M411.3 179.5h.4M409.9 183.6h.4M397.5 176.6h.4M416.7 177.1h.4M400.0 168.7h.4M417.3 173.7h.4M411.3 167.7h.4M395.6 177.4h.4M399.1 167.9h.4M417.7 172.4h.4M410.8 169.6h.4M401.5 171.2h.4M404.4 175.4h.4M404.4 170.8h.4M396.6 174.4h.4M401.2 168.8h.4M397.5 179.7h.4M399.3 170.4h.4M406.5 178.0h.4M395.1 183.1h.4M408.6 162.2h.4M403.6 168.8h.4M408.9 172.4h.4M409.9 178.7h.4M412.7 171.1h.4M407.8 175.1h.4M408.4 170.0h.4M401.3 175.9h.4M407.3 167.8h.4M395.5 177.2h.4M400.8 159.7h.4M408.8 164.7h.4M402.3 181.6h.4M406.3 174.1h.4M394.3 169.2h.4M413.7 183.4h.4M398.1 178.1h.4M405.9 178.5h.4M402.6 171.4h.4M410.2 176.2h.4M399.7 175.6h.4M394.7 165.7h.4M387.5 176.0h.4M400.3 172.5h.4M393.2 179.2h.4M407.0 179.3h.4M414.3 170.4h.4M384.9 170.6h.4M392.4 174.2h.4M405.2 176.3h.4M412.7 171.4h.4M405.2 172.8h.4M405.4 176.1h.4M406.8 175.3h.4M407.4 178.7h.4M415.9 174.4h.4M407.7 169.2h.4M392.8 165.2h.4M399.0 177.0h.4M404.4 171.8h.4M396.2 171.7h.4M400.7 172.0h.4M398.5 166.1h.4M397.1 171.5h.4M408.3 161.3h.4M399.6 171.5h.4M394.0 169.2h.4M397.0 181.8h.4M403.1 175.4h.4M419.7 172.3h.4M404.8 174.1h.4M414.7 176.7h.4M406.7 169.8h.4M385.5 172.2h.4M405.8 171.7h.4M395.9 184.7h.4M391.9 173.6h.4M394.1 164.2h.4M417.1 177.0h.4M390.1 185.2h.4M397.8 168.9h.4M412.1 189.3h.4M408.1 173.0h.4M389.0 177.9h.4M401.9 170.7h.4M398.6 172.0h.4M401.2 167.6h.4M408.8 168.4h.4M398.1 163.4h.4M400.2 178.6h.4M414.5 168.0h.4M387.9 175.0h.4M399.7 174.8h.4M406.5 170.3h.4M392.7 173.5h.4M397.7 172.8h.4M392.2 171.0h.4M404.0 173.5h.4M397.7 173.5h.4M409.1 168.6h.4M411.0 167.3h.4M403.1 169.3h.4M399.7 173.8h.4M404.8 179.7h.4M403.2 180.1h.4M392.9 174.7h.4M411.4 177.7h.4M404.5 173.8h.4M409.1 178.4h.4M391.8 173.9h.4M409.8 175.1h.4M419.7 172.0h.4M407.7 173.2h.4M391.0 182.1h.4M403.0 167.7h.4M402.2 173.3h.4M404.5 170.5h.4M400.8 177.7h.4M406.7 181.7h.4M399.0 171.8h.4M404.6 160.4h.4M397.2 176.1h.4M403.5 176.1h.4M410.7 165.4h.4M398.8 172.1h.4M408.1 172.9h.4M395.5 162.5h.4M399.7 176.4h.4M423.6 181.1h.4M422.1 184.0h.4M412.7 181.1h.4M415.2 193.0h.4M415.8 187.8h.4M423.9 185.0h.4M413.3 180.1h.4M431.0 187.8h.4M423.1 186.8h.4M404.6 182.0h.4M432.6 182.3h.4M421.5 178.0h.4M416.4 183.8h.4M421.1 187.7h.4M407.1 188.3h.4M421.7 186.5h.4M402.5 187.6h.4M412.9 181.7h.4M430.2 182.2h.4M429.5 189.2h.4M417.9 186.0h.4M413.3 180.8h.4M427.1 186.2h.4M420.0 187.6h.4M421.9 187.1h.4M424.9 184.6h.4M412.5 182.0h.4M426.1 185.8h.4M404.9 191.2h.4M431.0 184.7h.4M408.9 181.3h.4M415.8 185.5h.4M415.5 179.0h.4M425.6 185.1h.4M425.7 182.9h.4M422.9 188.1h.4M424.3 184.5h.4M423.7 188.5h.4M419.8 193.7h.4M406.4 183.2h.4M403.5 180.6h.4M403.5 186.0h.4M419.9 183.7h.4M418.6 184.7h.4M419.3 181.6h.4M421.9 186.4h.4M418.6 184.4h.4M413.0 175.1h.4M409.3 183.1h.4M406.4 185.5h.4M429.1 189.0h.4M426.9 181.7h.4M410.4 180.8h.4M418.3 188.9h.4M423.5 181.6h.4M431.9 184.5h.4M415.9 186.1h.4M421.5 187.2h.4M428.7 184.1h.4M407.6 179.5h.4" stroke="#f42020" stroke-opacity="0.6" stroke-width="0.8" stroke-linecap="square" fill="none"/>
<rect x="348.20" y="124.00" width="103.00" height="75.00" fill="none" stroke="#666" stroke-width="0.9"/>
<line x1="394.60" y1="124.00" x2="394.60" y2="199.00" stroke="#555" stroke-width="0.9"/>
<line x1="348.20" y1="179.40" x2="451.20" y2="179.40" stroke="#888" stroke-width="0.9"/>
<text x="378.40" y="172.60" font-size="5.8" textLength="6.0" lengthAdjust="spacingAndGlyphs" font-family="Liberation Serif" fill="#444">Q1</text>
<text x="404.70" y="172.60" font-size="5.8" textLength="6.0" lengthAdjust="spacingAndGlyphs" font-family="Liberation Serif" fill="#444">Q2</text>
<text x="380.00" y="192.00" font-size="5.8" textLength="6.0" lengthAdjust="spacingAndGlyphs" font-family="Liberation Serif" fill="#444">Q3</text>
<text x="405.00" y="192.00" font-size="5.8" textLength="6.0" lengthAdjust="spacingAndGlyphs" font-family="Liberation Serif" fill="#444">Q4</text>
<text x="424.50" y="155.20" font-size="8.3" textLength="23.4" lengthAdjust="spacingAndGlyphs" fill="#222" stroke="#222" stroke-width="0.05">10.2%</text>
<text x="426.90" y="190.20" font-size="8.3" textLength="22.1" lengthAdjust="spacingAndGlyphs" fill="#222" stroke="#222" stroke-width="0.05">13.1%</text>
<path d="M460.6 186.8C460.6 183.3 465 181.8 473 182C482 182.3 489 184 492.5 186.6C489 189.6 482 191.6 473 192C465 192.2 460.6 190.4 460.6 186.8Z" fill="#f31111"/>
<path d="M500 186.3C500 184 504 183.6 508 184C512 184.5 514.5 185.6 515 186.6C514 188.4 510 189.3 506 189.2C502 189.1 500 188.2 500 186.3Z" fill="#f31111"/>
<path d="M516 168.5C519 166 524 164.5 529 164.3C531 164.6 530.5 166.5 527 168.5C523 170.5 518.5 171.3 516.5 170.6C515.6 170.1 515.5 169.2 516 168.5Z" fill="#f31111"/>
<path d="M483.0 189.5h.4M473.2 187.6h.4M472.6 187.8h.4M489.7 188.3h.4M482.1 188.0h.4M469.0 186.8h.4M472.9 184.5h.4M474.5 185.6h.4M471.1 187.4h.4M463.2 188.1h.4M481.6 186.2h.4M481.4 186.1h.4M477.8 190.5h.4M473.4 186.0h.4M477.6 187.6h.4M480.4 186.3h.4M469.1 185.0h.4M473.9 183.4h.4M472.4 185.8h.4M480.8 185.1h.4M477.9 189.2h.4M467.4 184.3h.4M472.0 186.1h.4M488.0 188.7h.4M469.6 186.8h.4M477.1 188.3h.4M471.9 189.2h.4M484.5 183.0h.4M475.7 186.1h.4M473.2 184.7h.4M468.2 190.4h.4M474.5 186.8h.4M481.7 188.3h.4M480.6 191.3h.4M467.2 186.2h.4M486.6 187.3h.4M474.4 188.1h.4M469.0 186.4h.4M477.0 190.2h.4M471.9 189.1h.4M472.2 189.6h.4M471.8 187.2h.4M475.5 186.3h.4M472.7 186.2h.4M464.6 186.2h.4M479.6 183.1h.4M472.6 188.0h.4M484.1 189.1h.4M479.7 187.1h.4M480.2 185.9h.4M477.3 187.2h.4M484.8 187.6h.4M473.9 187.9h.4M469.4 191.5h.4M478.4 185.0h.4M457.8 188.0h.4M473.6 188.8h.4M477.5 187.3h.4M473.3 186.5h.4M484.5 184.6h.4M480.8 185.6h.4M476.8 188.8h.4M473.4 190.6h.4M483.4 185.5h.4M471.5 188.2h.4M473.3 188.4h.4M481.1 189.6h.4M480.1 187.7h.4M489.7 188.2h.4M474.6 189.3h.4M463.4 184.3h.4M480.5 187.2h.4M484.5 182.8h.4M474.9 182.3h.4M486.5 185.1h.4M488.0 183.3h.4M471.6 188.3h.4M472.8 189.5h.4M467.6 186.3h.4M479.7 186.8h.4M480.9 186.5h.4M480.1 186.5h.4M467.8 187.4h.4M470.9 187.9h.4M466.4 186.0h.4M465.2 185.2h.4M467.0 185.8h.4M465.4 189.0h.4M474.8 186.1h.4M478.9 190.6h.4M480.2 186.5h.4M475.9 190.4h.4M471.5 184.2h.4M476.0 185.4h.4M479.8 188.2h.4M474.0 188.3h.4M476.4 186.7h.4M474.0 192.0h.4M472.5 187.3h.4M476.2 187.8h.4M468.5 185.7h.4M483.1 191.1h.4M465.5 189.2h.4M479.1 188.1h.4M466.9 183.1h.4M486.1 188.0h.4M481.8 186.0h.4M470.6 188.0h.4M473.0 189.3h.4M468.5 185.3h.4M475.6 187.6h.4M478.8 189.2h.4M493.1 187.5h.4M466.9 186.3h.4M484.3 184.5h.4M472.1 185.5h.4M477.8 184.0h.4M481.9 189.5h.4M479.6 187.3h.4M478.8 184.1h.4M474.7 187.1h.4M475.9 184.0h.4M477.0 179.2h.4M484.0 190.0h.4M466.2 189.9h.4M472.7 183.5h.4M467.7 185.3h.4M469.6 187.6h.4M470.7 186.2h.4M483.3 185.0h.4M490.3 185.8h.4M485.1 186.5h.4M468.1 185.7h.4M476.5 187.6h.4M468.4 186.5h.4M479.0 185.2h.4M484.5 187.1h.4M479.9 183.1h.4M481.8 190.6h.4M475.0 182.9h.4M462.8 186.9h.4M462.8 187.9h.4M475.3 188.1h.4M479.8 187.7h.4M484.5 190.1h.4M473.7 184.4h.4M476.5 186.9h.4M477.7 187.4h.4M483.1 185.9h.4M475.5 185.6h.4M468.7 190.2h.4M483.2 185.4h.4M478.7 185.9h.4M478.6 186.4h.4M467.5 186.6h.4M475.9 187.5h.4M464.5 186.6h.4M462.6 188.0h.4M474.4 187.4h.4M473.1 188.2h.4M479.8 190.4h.4M485.6 185.0h.4M475.8 191.0h.4M487.9 186.0h.4M472.1 188.7h.4M481.1 187.4h.4M467.5 186.4h.4M476.8 182.4h.4M473.9 190.9h.4M474.6 185.2h.4M479.9 185.2h.4M463.4 189.6h.4M476.8 187.2h.4M470.6 191.6h.4M476.8 191.1h.4M478.6 188.8h.4M473.5 187.7h.4M473.5 188.9h.4M468.3 183.9h.4M479.7 187.5h.4M471.5 187.4h.4M479.0 185.9h.4M466.5 187.7h.4M485.1 183.6h.4M469.2 189.2h.4M483.7 190.1h.4M473.0 184.0h.4M479.6 187.4h.4M475.0 190.7h.4M480.5 188.1h.4M476.0 184.6h.4M484.5 184.7h.4M480.5 189.1h.4M480.5 191.4h.4M487.1 184.5h.4M471.3 187.1h.4M484.7 185.2h.4M476.5 186.4h.4M466.1 187.8h.4M479.2 187.0h.4M474.6 185.4h.4M487.3 192.1h.4M472.7 186.7h.4M476.3 186.6h.4M477.6 189.7h.4M463.3 187.1h.4M479.4 186.6h.4M469.4 189.3h.4M485.4 184.6h.4M487.1 188.8h.4M475.9 189.5h.4M465.4 188.6h.4M477.2 186.6h.4M477.2 187.0h.4M480.8 183.0h.4M474.0 186.7h.4M468.1 187.7h.4M475.1 189.1h.4M469.8 187.4h.4M487.8 186.1h.4M471.3 185.1h.4M471.7 186.9h.4M475.7 187.4h.4M467.7 189.9h.4M473.0 187.1h.4M475.1 185.9h.4M472.7 186.8h.4M474.3 185.9h.4M484.3 186.5h.4M478.9 181.8h.4M467.1 183.3h.4M473.1 184.2h.4M481.0 188.2h.4M471.7 186.9h.4M476.5 187.4h.4M475.8 189.8h.4M479.5 184.6h.4M474.8 189.8h.4M475.1 188.0h.4M470.3 185.3h.4M478.4 190.6h.4M469.8 183.7h.4M487.5 184.4h.4M475.9 186.5h.4M474.5 188.0h.4M481.3 186.6h.4M475.4 182.0h.4M476.6 186.3h.4M475.6 186.8h.4M471.2 193.1h.4M469.9 190.3h.4M471.3 187.3h.4M483.5 184.5h.4M471.8 187.9h.4M473.3 184.3h.4M473.0 187.5h.4M480.6 187.9h.4M489.2 186.1h.4M469.8 187.6h.4M479.7 186.3h.4M476.8 185.7h.4M474.0 190.7h.4M479.4 188.4h.4M467.5 186.3h.4M481.5 185.2h.4M477.5 187.5h.4M469.4 188.4h.4M486.6 189.1h.4M481.7 190.5h.4M483.7 188.1h.4M466.3 184.4h.4M474.2 191.8h.4M472.5 189.8h.4M480.2 189.0h.4M485.0 190.2h.4M463.3 183.5h.4M476.1 186.2h.4M475.2 185.8h.4M482.6 189.9h.4M475.7 184.2h.4M467.5 186.3h.4M474.7 190.6h.4M469.1 188.6h.4M470.8 186.1h.4M476.3 191.5h.4M472.8 183.9h.4M477.9 188.1h.4M465.9 186.5h.4M491.4 188.2h.4M484.4 186.4h.4M480.8 185.1h.4M467.4 187.5h.4M461.7 183.9h.4M470.3 188.3h.4M474.5 186.3h.4M490.8 189.2h.4M484.7 186.0h.4M472.5 185.4h.4M484.0 188.0h.4M484.1 190.0h.4M476.1 182.1h.4M484.1 187.3h.4M478.2 188.5h.4M471.6 183.7h.4M468.2 184.9h.4M475.2 188.5h.4M482.6 185.1h.4M467.0 185.5h.4M465.3 191.1h.4M479.7 184.8h.4M457.9 185.0h.4M488.1 181.6h.4M473.1 184.4h.4M480.9 184.1h.4M488.4 191.1h.4M466.4 189.9h.4M469.0 184.0h.4M490.9 191.7h.4M474.1 188.8h.4M475.2 186.6h.4M477.5 188.9h.4M483.0 187.9h.4M484.8 185.2h.4M476.7 182.9h.4M473.8 184.9h.4M475.8 187.0h.4M478.0 186.2h.4M484.7 185.3h.4M476.9 189.3h.4M488.1 184.5h.4M470.3 189.1h.4M479.5 185.9h.4M487.7 187.3h.4M484.6 184.4h.4M478.2 187.0h.4M470.1 185.2h.4M471.3 182.9h.4M475.0 187.0h.4M478.1 186.9h.4M474.3 189.0h.4M466.3 187.7h.4M471.1 184.6h.4M479.4 185.6h.4M481.6 181.1h.4M466.7 184.4h.4M473.6 190.1h.4M464.9 190.6h.4M472.3 188.8h.4M499.5 187.7h.4M476.4 188.4h.4M473.7 188.2h.4M472.1 182.9h.4M468.0 185.0h.4M463.6 189.8h.4M475.7 189.8h.4M474.2 187.6h.4M485.8 186.3h.4M465.1 186.1h.4M478.9 185.7h.4M484.9 184.8h.4M463.0 182.5h.4M480.4 187.4h.4M465.3 185.9h.4M479.5 186.5h.4M485.8 191.1h.4M476.0 188.4h.4M477.9 185.4h.4M471.4 188.4h.4M477.9 183.4h.4M483.5 189.5h.4M474.8 187.6h.4M475.1 186.6h.4M478.6 188.4h.4M481.5 190.5h.4M465.1 185.9h.4M476.4 184.7h.4M471.4 192.0h.4M479.3 187.0h.4M482.9 190.6h.4M478.1 185.4h.4M484.6 187.9h.4M469.4 185.5h.4M473.3 188.5h.4M469.4 186.4h.4M476.4 185.4h.4M476.6 190.7h.4M474.7 187.8h.4M467.9 182.2h.4M475.5 186.5h.4M473.1 184.8h.4M480.0 184.1h.4M474.2 185.6h.4M483.7 185.9h.4M477.5 187.1h.4M463.7 185.1h.4M474.9 182.6h.4M466.5 185.7h.4M482.4 189.1h.4M485.5 183.8h.4M475.8 188.5h.4M479.0 188.1h.4M466.4 185.9h.4M461.1 187.7h.4M472.3 185.2h.4M474.3 186.1h.4M465.9 184.6h.4M476.6 188.1h.4M478.1 190.3h.4M480.3 185.4h.4M486.3 189.9h.4M481.4 181.9h.4M473.6 184.9h.4M476.7 184.6h.4M480.0 191.1h.4M469.1 185.6h.4M484.8 188.9h.4M482.0 182.1h.4M474.5 187.3h.4M471.8 188.4h.4M501.3 186.9h.4M481.6 180.5h.4M482.3 187.4h.4M488.0 188.9h.4M482.5 190.2h.4M477.4 188.0h.4M480.7 183.0h.4M469.9 186.5h.4M480.8 189.2h.4M465.8 185.0h.4M478.8 188.4h.4M479.7 185.9h.4M465.7 187.2h.4M488.8 188.8h.4M468.4 185.3h.4M483.0 193.8h.4M472.5 187.4h.4M478.1 187.8h.4M471.7 185.2h.4M492.6 187.1h.4M482.9 186.4h.4M488.1 183.5h.4M481.3 183.3h.4M480.7 187.7h.4M477.1 186.8h.4M474.5 180.7h.4M480.1 181.9h.4M477.2 186.3h.4M475.1 186.8h.4M466.9 188.5h.4M474.1 184.0h.4M480.1 188.4h.4M473.0 186.3h.4M478.4 185.8h.4M475.2 186.7h.4M469.3 189.4h.4M470.1 188.3h.4M471.2 189.1h.4M474.2 185.4h.4M474.4 186.3h.4M483.6 184.2h.4M468.9 185.7h.4M462.5 186.0h.4M480.7 185.9h.4M473.1 188.7h.4M475.4 188.0h.4M493.1 188.8h.4M485.9 187.3h.4M480.1 189.6h.4M482.5 187.3h.4M477.0 189.3h.4M482.6 188.2h.4M472.1 188.8h.4M471.4 186.8h.4M473.1 184.0h.4M486.7 183.5h.4M486.6 191.7h.4M472.1 187.9h.4M483.9 188.1h.4M475.1 186.6h.4M483.4 185.9h.4M474.1 193.9h.4M482.6 184.3h.4M475.5 186.8h.4M474.3 186.9h.4M476.1 184.3h.4M477.3 183.9h.4M472.3 185.3h.4M467.1 186.2h.4M487.5 185.8h.4M473.6 189.0h.4M464.1 184.2h.4M461.1 188.0h.4M457.5 190.5h.4M472.1 189.1h.4M485.3 184.3h.4M465.3 179.9h.4M474.1 189.0h.4M464.0 188.2h.4M483.6 185.6h.4M478.7 190.1h.4M478.4 186.0h.4M485.3 187.3h.4M487.2 184.5h.4M483.1 187.8h.4M472.4 186.0h.4M467.4 185.8h.4M469.3 189.6h.4M464.5 187.5h.4M488.3 183.4h.4M475.0 188.7h.4M477.1 189.0h.4M477.6 185.0h.4M489.8 186.1h.4M472.5 187.1h.4M484.2 186.4h.4M478.3 187.3h.4M475.2 188.6h.4M463.4 185.8h.4M482.4 192.0h.4M471.3 185.3h.4M473.2 185.7h.4M477.8 191.7h.4M476.9 192.7h.4M483.8 187.1h.4M471.8 186.6h.4M477.4 184.4h.4M478.1 189.7h.4M476.4 187.4h.4M480.8 185.0h.4M474.6 188.0h.4M484.3 190.3h.4M471.5 188.6h.4M466.6 192.3h.4M476.0 189.8h.4M484.2 188.1h.4M472.8 186.9h.4M472.1 188.3h.4M474.0 189.9h.4M477.4 189.1h.4M475.1 189.5h.4M478.4 187.5h.4M464.8 188.8h.4M486.3 189.9h.4M480.2 186.6h.4M470.5 183.9h.4M485.5 191.1h.4M479.3 188.4h.4M486.1 185.9h.4M468.4 187.6h.4M487.4 186.4h.4M476.6 182.9h.4M462.5 186.6h.4M481.3 183.6h.4M474.3 187.5h.4M469.5 186.7h.4M474.8 189.7h.4M463.3 186.7h.4M480.2 187.9h.4M474.8 186.3h.4M474.5 186.1h.4M485.7 183.6h.4M476.5 189.4h.4M471.9 187.4h.4M469.9 185.6h.4M475.9 187.5h.4M483.4 186.0h.4M472.4 185.3h.4M469.3 187.6h.4M482.5 189.9h.4M476.7 186.4h.4M476.1 183.6h.4M490.2 185.5h.4M468.2 191.3h.4M477.6 185.1h.4M464.4 189.9h.4M474.3 186.4h.4M480.2 188.8h.4M483.8 186.7h.4M467.8 183.2h.4M481.9 186.0h.4M481.5 192.1h.4M475.4 186.7h.4M492.7 188.4h.4M476.3 186.2h.4M470.4 186.7h.4M479.1 187.8h.4M463.8 188.1h.4M486.7 192.3h.4M482.9 187.0h.4M473.6 186.6h.4M480.4 185.4h.4M479.9 183.9h.4M489.2 183.1h.4M472.2 188.6h.4M467.6 182.5h.4M462.7 190.4h.4M474.3 189.1h.4M465.8 186.3h.4M475.1 184.2h.4M479.0 187.1h.4M473.3 187.1h.4M469.9 189.7h.4M484.2 185.2h.4M474.9 186.1h.4M477.8 186.9h.4M482.6 186.3h.4M467.5 185.5h.4M470.1 182.9h.4M493.0 183.1h.4M475.2 185.4h.4M469.3 186.5h.4M474.6 189.4h.4M472.4 192.5h.4M468.0 191.1h.4M473.5 188.0h.4M476.1 191.5h.4M476.2 186.7h.4M479.9 185.7h.4M464.7 192.6h.4M466.3 184.4h.4M481.5 186.0h.4M473.3 186.4h.4M484.4 190.5h.4M478.3 185.6h.4M466.8 188.9h.4M479.9 186.0h.4M469.5 184.1h.4M478.0 187.6h.4M484.5 187.4h.4M490.4 184.2h.4M475.8 184.9h.4M480.9 185.1h.4M478.3 189.3h.4M481.6 188.1h.4M459.2 187.6h.4M473.7 188.2h.4M478.2 185.9h.4M479.4 188.2h.4M471.2 185.6h.4M481.8 183.8h.4M483.6 185.3h.4M476.7 187.5h.4M474.8 187.2h.4M473.9 189.6h.4M477.2 183.0h.4M484.2 186.5h.4M486.3 188.0h.4M473.1 184.7h.4M470.1 187.6h.4M471.0 186.0h.4M484.4 189.0h.4M495.6 184.4h.4M483.1 187.0h.4M495.0 183.2h.4M488.0 190.9h.4M485.3 187.8h.4M485.6 181.9h.4M486.3 182.4h.4M485.8 187.6h.4M491.4 186.8h.4M480.7 185.8h.4M496.2 187.9h.4M494.2 190.9h.4M497.0 187.3h.4M485.1 182.5h.4M478.5 186.1h.4M486.9 183.6h.4M489.2 184.7h.4M491.6 187.2h.4M487.4 186.1h.4M489.6 184.2h.4M490.8 186.4h.4M482.3 184.7h.4M499.1 187.7h.4M484.4 186.0h.4M491.4 187.3h.4M495.4 185.9h.4M486.1 188.1h.4M490.1 186.2h.4M498.2 186.5h.4M488.6 185.2h.4M495.3 186.8h.4M491.5 182.6h.4M491.2 192.3h.4M493.6 185.0h.4M488.9 186.7h.4M489.0 185.4h.4M494.9 185.4h.4M491.4 187.4h.4M492.5 185.4h.4M484.1 185.5h.4M490.1 183.4h.4M496.1 184.4h.4M494.6 183.9h.4M491.8 190.4h.4M487.5 183.5h.4M487.0 184.1h.4M492.3 186.9h.4M497.2 189.6h.4M490.3 182.7h.4M496.6 183.1h.4M488.6 186.7h.4M496.1 187.2h.4M485.1 183.4h.4M491.0 182.5h.4M484.7 184.4h.4M493.4 188.1h.4M492.9 186.4h.4M485.3 188.1h.4M486.4 186.2h.4M487.9 186.4h.4M482.6 187.8h.4M485.5 186.2h.4M485.8 187.0h.4M494.0 184.5h.4M497.0 185.1h.4M487.9 187.5h.4M488.6 185.9h.4M491.1 184.8h.4M487.5 187.9h.4M488.7 187.7h.4M494.3 186.4h.4M491.2 184.8h.4M489.7 188.4h.4M487.2 191.9h.4M497.4 184.6h.4M487.0 183.1h.4M490.7 184.7h.4M484.9 184.4h.4M487.1 183.7h.4M490.5 183.9h.4M488.1 188.3h.4M492.7 188.3h.4M490.4 189.7h.4M483.2 188.1h.4M478.5 185.4h.4M495.0 188.8h.4M487.2 185.1h.4M497.5 185.7h.4M490.1 183.9h.4M486.3 189.1h.4M492.9 188.7h.4M488.7 185.4h.4M490.1 185.8h.4M485.4 186.5h.4M493.3 186.9h.4M495.5 188.3h.4M487.4 186.6h.4M499.0 187.3h.4M487.2 183.1h.4M491.3 185.8h.4M481.9 182.5h.4M480.5 190.4h.4M500.6 189.5h.4M497.2 188.0h.4M495.8 188.9h.4M481.6 190.8h.4M491.2 188.5h.4M492.2 182.9h.4M490.5 186.0h.4M491.6 181.3h.4M485.5 184.6h.4M489.3 183.7h.4M484.4 186.4h.4M488.3 187.3h.4M491.9 184.4h.4M486.2 185.8h.4M488.7 187.0h.4M487.9 186.1h.4M490.1 186.0h.4M494.7 181.1h.4M491.2 185.5h.4M492.0 188.2h.4M482.9 187.0h.4M488.2 183.2h.4M494.1 185.8h.4M485.8 187.0h.4M487.9 184.3h.4M485.2 187.9h.4M496.7 184.7h.4M487.8 185.7h.4M486.4 186.2h.4M493.1 191.3h.4M495.5 185.7h.4M492.5 185.2h.4M495.0 188.0h.4M491.1 185.4h.4M489.4 186.8h.4M487.8 181.5h.4M487.5 187.1h.4M487.1 186.4h.4M491.9 183.6h.4M489.5 189.4h.4M490.5 185.9h.4M493.1 186.0h.4M489.8 183.5h.4M483.2 182.8h.4M486.1 185.2h.4M484.5 183.1h.4M480.5 187.5h.4M490.6 188.3h.4M484.1 185.0h.4M483.6 182.9h.4M484.7 185.5h.4M494.4 184.1h.4M488.5 186.8h.4M495.0 186.8h.4M489.6 185.5h.4M487.9 186.6h.4M492.9 188.7h.4M493.0 190.2h.4M490.6 185.3h.4M484.9 188.0h.4M487.7 185.9h.4M484.1 184.1h.4M488.7 189.2h.4M490.5 187.3h.4M497.4 186.7h.4M497.1 187.2h.4M493.4 186.1h.4M494.8 184.1h.4M491.2 190.3h.4M503.9 188.4h.4M497.7 187.0h.4M503.2 188.5h.4M491.9 189.2h.4M492.1 186.0h.4M495.3 187.7h.4M491.0 185.7h.4M491.6 187.8h.4M485.1 185.8h.4M494.7 191.8h.4M490.7 185.6h.4M494.1 187.5h.4M488.9 187.4h.4M481.1 185.7h.4M492.5 188.5h.4M495.8 186.2h.4M483.6 185.5h.4M485.2 186.4h.4M488.5 184.8h.4M488.8 189.0h.4M481.5 187.8h.4M498.8 188.6h.4M495.1 183.4h.4M486.9 187.0h.4M480.9 184.7h.4M491.8 186.6h.4M499.9 189.2h.4M494.1 187.0h.4M505.9 187.2h.4M512.4 192.2h.4M511.8 187.7h.4M516.0 186.5h.4M497.5 189.7h.4M508.4 184.8h.4M504.7 187.3h.4M502.4 188.7h.4M507.4 188.3h.4M501.0 187.4h.4M495.6 185.7h.4M502.3 183.7h.4M505.5 186.2h.4M516.1 185.2h.4M503.2 188.1h.4M501.0 186.2h.4M496.9 187.8h.4M505.0 182.9h.4M505.6 188.7h.4M507.5 184.6h.4M499.6 183.0h.4M503.0 183.4h.4M495.5 185.1h.4M507.6 189.0h.4M498.9 188.1h.4M493.1 183.9h.4M512.6 186.7h.4M509.3 186.3h.4M508.6 183.0h.4M508.5 184.3h.4M501.6 181.9h.4M512.2 184.5h.4M501.6 180.5h.4M516.4 184.7h.4M507.9 184.4h.4M497.6 184.7h.4M511.1 184.6h.4M516.7 189.1h.4M505.5 185.7h.4M512.1 187.0h.4M505.7 188.2h.4M503.7 188.5h.4M493.9 188.0h.4M513.0 185.3h.4M504.6 184.0h.4M508.7 184.7h.4M501.1 185.4h.4M502.3 186.5h.4M512.4 186.3h.4M504.9 189.0h.4M504.8 186.3h.4M500.5 190.5h.4M507.9 188.8h.4M510.7 185.4h.4M504.5 188.4h.4M505.9 180.0h.4M500.7 189.6h.4M513.8 187.4h.4M503.7 187.4h.4M506.0 182.7h.4M515.2 192.2h.4M505.7 185.9h.4M499.0 186.2h.4M502.2 189.0h.4M505.0 186.1h.4M515.7 184.6h.4M507.9 188.0h.4M505.7 184.2h.4M511.0 188.2h.4M513.4 186.8h.4M503.0 189.0h.4M514.0 183.8h.4M511.1 189.3h.4M509.1 187.2h.4M495.0 190.9h.4M507.8 185.0h.4M513.8 190.7h.4M505.5 188.1h.4M518.4 188.3h.4M507.2 184.9h.4M501.7 187.8h.4M509.8 188.0h.4M508.3 184.6h.4M511.0 183.9h.4M505.7 184.8h.4M513.4 189.8h.4M504.1 186.9h.4M507.5 188.6h.4M500.6 187.1h.4M502.8 186.8h.4M507.9 187.0h.4M503.6 185.6h.4M504.6 189.2h.4M505.8 186.9h.4M508.1 187.0h.4M510.7 183.4h.4M510.7 187.2h.4M512.0 185.0h.4M507.9 185.4h.4M504.1 188.8h.4M498.9 184.0h.4M505.1 186.0h.4M502.9 187.9h.4M497.7 189.1h.4M515.2 185.3h.4M497.6 187.2h.4M508.7 187.1h.4M509.7 184.0h.4M505.7 181.7h.4M520.0 182.2h.4M507.0 187.8h.4M503.0 186.7h.4M515.8 183.5h.4M502.8 185.1h.4M499.6 185.6h.4M501.8 185.7h.4M503.6 186.4h.4M507.1 191.5h.4M508.6 184.7h.4M499.2 186.8h.4M508.7 184.8h.4M518.2 185.1h.4M503.3 184.5h.4M506.2 186.0h.4M510.4 185.3h.4M513.0 187.3h.4M503.5 187.0h.4M502.0 184.5h.4M501.8 190.8h.4M512.4 183.9h.4M511.5 187.3h.4M495.9 191.4h.4M496.0 184.9h.4M500.6 189.5h.4M499.3 189.7h.4M509.0 187.3h.4M508.0 182.3h.4M516.8 189.7h.4M510.9 186.7h.4M507.5 185.3h.4M512.9 189.4h.4M502.4 184.9h.4M499.8 188.9h.4M507.1 185.3h.4M511.7 187.7h.4M498.7 184.1h.4M511.4 185.6h.4M511.3 184.4h.4M504.3 184.9h.4M507.7 186.9h.4M505.5 186.1h.4M507.3 186.9h.4M511.0 189.4h.4M502.8 186.2h.4M512.2 182.3h.4M511.3 185.9h.4M511.5 186.7h.4M496.9 188.8h.4M497.4 188.8h.4M510.4 188.6h.4M503.9 186.0h.4M503.4 187.9h.4M503.0 183.3h.4M500.1 189.4h.4M505.4 187.5h.4M503.2 187.6h.4M503.6 185.6h.4M509.3 186.6h.4M500.9 185.0h.4M512.6 187.8h.4M495.6 183.5h.4M519.6 188.7h.4M500.0 187.7h.4M509.8 191.0h.4M511.5 186.4h.4M506.9 186.3h.4M510.7 186.9h.4M506.3 186.6h.4M497.9 186.3h.4M508.6 184.0h.4M512.7 184.0h.4M504.1 185.2h.4M498.3 185.8h.4M503.8 183.8h.4M508.5 183.9h.4M508.4 185.9h.4M512.5 188.2h.4M509.7 186.1h.4M509.5 188.0h.4M496.7 188.7h.4M518.2 188.2h.4M507.1 185.6h.4M511.3 185.6h.4M505.1 182.3h.4M506.1 185.0h.4M507.2 187.6h.4M514.9 184.1h.4M514.6 189.5h.4M510.0 189.7h.4M517.0 185.7h.4M504.9 188.6h.4M509.5 183.3h.4M504.6 184.1h.4M513.5 185.7h.4M507.1 186.5h.4M511.9 186.1h.4M515.7 184.6h.4M496.3 190.9h.4M518.0 187.2h.4M508.5 187.1h.4M505.3 188.0h.4M497.1 186.9h.4M505.4 186.0h.4M495.2 185.2h.4M507.4 182.8h.4M506.1 189.9h.4M516.2 184.4h.4M505.3 182.8h.4M512.4 184.7h.4M512.9 182.9h.4M517.5 191.0h.4M505.7 187.3h.4M510.8 189.7h.4M499.2 189.8h.4M501.3 187.8h.4M505.5 187.8h.4M506.8 184.9h.4M500.7 186.3h.4M504.8 185.1h.4M510.5 186.6h.4M504.6 184.9h.4M506.2 189.3h.4M502.4 188.2h.4M514.0 186.3h.4M516.1 182.7h.4M508.0 188.0h.4M506.4 188.5h.4M515.5 186.3h.4M509.4 183.7h.4M503.5 187.5h.4M500.1 188.9h.4M503.9 182.2h.4M518.2 187.8h.4M503.9 182.4h.4M521.8 186.7h.4M507.0 190.4h.4M505.9 186.7h.4M513.8 187.6h.4M505.7 185.8h.4M508.9 186.5h.4M501.6 191.8h.4M500.6 189.5h.4M503.2 185.8h.4M508.1 185.6h.4M503.6 186.5h.4M496.9 191.4h.4M509.4 187.0h.4M506.1 189.0h.4M505.5 185.7h.4M503.8 183.6h.4M495.4 189.5h.4M515.1 186.3h.4M504.5 184.7h.4M509.7 184.9h.4M514.1 185.0h.4M512.8 185.1h.4M508.0 183.0h.4M507.0 189.2h.4M508.6 187.4h.4M511.6 188.7h.4M510.0 185.7h.4M504.7 187.3h.4M509.3 186.9h.4M508.9 189.1h.4M510.6 188.3h.4M508.0 187.3h.4M514.0 185.0h.4M508.0 183.8h.4M511.6 184.7h.4M507.2 185.1h.4M504.0 185.3h.4M502.1 183.7h.4M506.2 190.2h.4M509.7 187.1h.4M513.5 182.0h.4M506.5 184.1h.4M504.3 183.5h.4M504.4 187.0h.4M513.6 188.9h.4M507.5 184.3h.4M504.4 187.9h.4M510.8 185.9h.4M500.2 189.1h.4M507.6 189.6h.4M506.8 187.2h.4M506.3 188.1h.4M501.1 186.5h.4M512.0 185.7h.4M515.6 183.9h.4M500.2 187.2h.4M507.6 186.3h.4M510.3 185.6h.4M518.6 186.3h.4M504.9 186.1h.4M502.1 184.2h.4M507.0 185.3h.4M517.3 189.1h.4M507.4 186.0h.4M508.4 189.6h.4M516.1 183.9h.4M496.0 183.5h.4M495.9 186.8h.4M511.7 188.2h.4M511.0 185.0h.4M499.9 187.9h.4M509.7 188.6h.4M507.2 188.9h.4M508.1 186.3h.4M502.9 186.4h.4M504.7 182.8h.4M502.5 186.6h.4M507.3 187.1h.4M505.8 189.6h.4M515.6 183.7h.4M510.2 184.6h.4M498.9 184.3h.4M509.1 188.5h.4M514.3 180.9h.4M508.4 184.1h.4M512.6 191.1h.4M506.8 188.0h.4M510.6 183.5h.4M502.2 186.4h.4M511.0 188.4h.4M499.9 187.7h.4M513.6 186.0h.4M499.2 184.7h.4M496.2 188.4h.4M509.7 186.5h.4M506.1 188.3h.4M507.6 187.4h.4M509.2 185.5h.4M506.9 189.7h.4M502.5 185.4h.4M508.1 187.5h.4M508.8 185.1h.4M509.5 186.0h.4M517.2 185.9h.4M503.2 185.0h.4M507.3 187.0h.4M509.9 189.4h.4M504.7 190.6h.4M500.9 189.7h.4M504.1 186.1h.4M512.5 189.7h.4M505.6 187.4h.4M510.1 190.5h.4M503.2 183.7h.4M509.3 189.8h.4M503.5 185.2h.4M502.7 189.1h.4M507.6 185.5h.4M507.3 188.5h.4M514.6 185.9h.4M498.7 182.3h.4M509.6 184.4h.4M515.3 186.0h.4M514.0 186.6h.4M505.0 181.5h.4M503.5 183.8h.4M504.5 184.9h.4M508.5 186.0h.4M508.0 187.0h.4M508.8 184.7h.4M510.1 183.1h.4M501.5 187.2h.4M501.2 185.8h.4M500.7 188.5h.4M500.1 185.3h.4M506.5 187.9h.4M509.6 184.3h.4M516.6 192.0h.4M515.5 188.0h.4M517.7 186.5h.4M509.4 187.1h.4M514.3 185.1h.4M509.9 186.9h.4M514.0 186.9h.4M518.8 189.3h.4M533.0 190.2h.4M515.2 181.3h.4M519.3 187.8h.4M515.7 191.9h.4M521.9 183.5h.4M517.8 186.2h.4M521.3 187.6h.4M517.2 190.9h.4M529.5 189.1h.4M523.3 186.3h.4M504.7 188.8h.4M516.8 190.7h.4M515.5 188.4h.4M501.7 193.5h.4M509.8 188.5h.4M512.2 183.4h.4M510.6 184.3h.4M515.8 186.6h.4M504.2 186.3h.4M519.5 189.2h.4M519.7 188.3h.4M517.1 193.0h.4M513.0 189.9h.4M515.1 192.2h.4M512.2 184.4h.4M521.9 185.5h.4M518.1 189.4h.4M527.0 187.4h.4M512.8 189.2h.4M523.8 187.9h.4M511.6 184.9h.4M514.0 193.0h.4M508.7 191.0h.4M518.2 181.6h.4M514.7 184.9h.4M518.8 187.1h.4M524.0 189.4h.4M514.7 186.8h.4M517.3 182.3h.4M520.5 190.0h.4M514.7 186.3h.4M511.7 191.3h.4M517.2 188.1h.4M518.1 190.6h.4M519.7 190.0h.4M520.1 190.2h.4M511.0 185.3h.4M517.7 190.7h.4M522.5 187.8h.4M512.2 182.7h.4M517.2 185.7h.4M511.3 185.9h.4M516.0 188.7h.4M525.5 189.5h.4M516.1 183.2h.4M509.2 189.6h.4M517.1 186.8h.4M516.3 183.4h.4M521.8 190.0h.4M506.8 184.4h.4M509.5 182.9h.4M514.6 189.7h.4M505.7 190.2h.4M521.9 184.8h.4M502.9 190.8h.4M510.0 190.6h.4M506.2 185.3h.4M511.1 194.1h.4M519.9 186.9h.4M518.7 187.9h.4M520.6 178.7h.4M518.7 189.3h.4M502.8 184.9h.4M516.9 188.6h.4M503.9 181.1h.4M512.0 191.1h.4M512.7 192.2h.4M511.8 193.7h.4M518.0 176.8h.4M510.2 189.1h.4M525.5 188.3h.4M518.6 176.5h.4M522.1 184.5h.4M519.6 186.8h.4M520.4 192.1h.4M514.8 184.2h.4M526.9 187.8h.4M508.7 186.9h.4M517.8 188.4h.4M515.1 185.7h.4M513.7 190.2h.4M517.0 190.5h.4M510.5 182.4h.4M520.3 191.0h.4M519.8 184.5h.4M515.6 186.2h.4M519.5 191.1h.4M508.8 187.5h.4M504.2 189.1h.4M511.6 189.9h.4M513.6 189.2h.4M530.0 185.3h.4M513.7 183.8h.4M521.3 189.5h.4M520.1 189.8h.4M527.7 188.4h.4M515.8 186.5h.4M519.0 190.2h.4M513.9 187.1h.4M509.9 182.4h.4M509.0 188.1h.4M525.5 168.1h.4M527.1 168.1h.4M517.2 169.6h.4M517.1 165.8h.4M524.3 167.9h.4M520.2 170.6h.4M522.5 170.2h.4M529.0 171.3h.4M524.9 168.5h.4M532.2 162.7h.4M523.7 166.2h.4M532.2 165.4h.4M529.1 168.6h.4M536.3 161.3h.4M523.0 169.9h.4M522.2 169.4h.4M529.4 163.8h.4M519.8 170.0h.4M519.2 166.8h.4M523.8 167.4h.4M524.4 166.5h.4M514.4 170.5h.4M523.1 164.7h.4M520.9 169.5h.4M520.9 162.9h.4M523.2 166.6h.4M521.0 166.8h.4M529.6 169.7h.4M525.6 168.3h.4M521.1 167.0h.4M522.4 165.6h.4M528.5 166.2h.4M526.6 165.1h.4M531.2 170.9h.4M520.0 161.6h.4M523.3 167.7h.4M532.6 159.0h.4M522.9 170.2h.4M531.7 163.3h.4M528.4 170.1h.4M519.7 167.2h.4M515.1 172.4h.4M526.3 167.2h.4M519.2 171.6h.4M518.5 168.9h.4M510.8 163.6h.4M528.9 164.3h.4M522.2 164.0h.4M523.3 169.9h.4M525.2 168.4h.4M524.0 167.4h.4M523.4 168.6h.4M525.7 167.4h.4M520.6 166.9h.4M508.9 176.2h.4M527.0 167.2h.4M524.9 166.6h.4M521.8 164.3h.4M531.3 163.9h.4M514.6 169.9h.4M505.8 171.8h.4M530.9 164.4h.4M524.9 167.0h.4M512.4 167.7h.4M520.2 168.4h.4M525.2 163.2h.4M515.1 167.6h.4M525.3 165.2h.4M535.3 166.5h.4M530.9 166.7h.4M522.4 168.0h.4M523.7 164.6h.4M516.9 168.3h.4M523.8 169.4h.4M521.4 171.1h.4M516.0 165.9h.4M514.6 168.8h.4M533.8 165.0h.4M523.3 168.4h.4M516.7 169.3h.4M520.6 169.9h.4M530.3 162.1h.4M532.9 168.8h.4M518.3 166.1h.4M523.7 167.6h.4M528.0 167.6h.4M521.3 171.0h.4M516.4 171.6h.4M517.5 171.3h.4M523.4 170.7h.4M518.0 168.6h.4M515.6 171.5h.4M522.2 171.7h.4M527.5 164.6h.4M525.6 163.5h.4M520.6 165.8h.4M534.4 168.1h.4M518.8 171.8h.4M521.9 167.1h.4M514.9 170.4h.4M527.3 167.7h.4M522.5 170.4h.4M511.7 166.0h.4M517.5 167.8h.4M532.7 164.4h.4M526.9 167.4h.4M523.3 167.8h.4M527.3 165.7h.4M513.6 170.9h.4M516.2 163.1h.4M516.8 176.9h.4M518.3 171.0h.4M520.9 170.4h.4M525.2 165.5h.4M528.6 167.2h.4M529.5 171.0h.4M539.1 167.9h.4M519.8 168.7h.4M521.7 165.0h.4M525.6 167.4h.4M517.6 168.4h.4M521.4 170.2h.4M524.1 164.2h.4M517.3 168.7h.4M525.4 167.7h.4M529.3 164.8h.4M516.8 172.0h.4M508.7 168.7h.4M522.2 164.8h.4M516.3 168.6h.4M524.0 169.5h.4M519.8 167.8h.4M523.9 166.0h.4M529.5 167.9h.4M527.4 167.1h.4M520.1 167.2h.4M515.9 169.9h.4M508.1 171.1h.4M510.4 172.6h.4M518.0 169.4h.4M522.5 165.8h.4M518.3 167.8h.4M518.8 167.8h.4M513.5 171.2h.4M513.2 171.3h.4M512.0 168.6h.4M525.8 166.5h.4M511.2 171.6h.4M526.9 169.4h.4M517.3 169.8h.4M526.6 171.6h.4M523.7 167.6h.4M527.1 168.4h.4M528.9 165.3h.4M517.1 166.8h.4M516.7 169.6h.4M520.0 169.7h.4M517.9 169.8h.4M526.1 167.2h.4M521.3 167.3h.4M521.6 166.0h.4M524.3 166.6h.4M519.7 169.7h.4M529.0 168.4h.4M509.5 163.2h.4M523.8 169.0h.4M525.6 169.7h.4M518.4 172.0h.4M518.3 169.9h.4M527.7 168.1h.4M519.9 167.4h.4M510.9 170.7h.4M514.6 171.2h.4M527.1 163.9h.4M516.5 167.5h.4M529.7 166.4h.4M529.1 162.7h.4M520.9 168.4h.4M524.2 163.7h.4M517.4 169.7h.4M519.7 168.6h.4M517.6 167.7h.4M524.8 164.9h.4M514.3 168.8h.4M519.8 163.0h.4M522.0 167.0h.4M525.0 167.4h.4M510.5 174.0h.4M511.3 169.5h.4M516.8 168.9h.4M521.5 171.5h.4M523.8 171.8h.4M522.8 166.5h.4M534.2 167.3h.4M526.5 169.7h.4M525.7 168.3h.4M518.5 166.4h.4M525.9 164.6h.4M526.3 168.2h.4M527.2 172.3h.4M521.2 167.7h.4M526.5 170.6h.4M531.9 170.0h.4M516.6 166.3h.4M509.1 169.9h.4M527.6 170.2h.4M526.7 169.1h.4M520.9 169.6h.4M519.4 168.6h.4M538.2 165.2h.4M518.8 167.2h.4M516.4 175.7h.4M518.4 166.0h.4M523.7 163.0h.4M518.5 169.3h.4M520.6 171.9h.4M523.4 166.4h.4M519.4 168.5h.4M522.0 165.4h.4M521.6 167.9h.4M515.1 167.3h.4M521.7 165.5h.4M514.3 166.4h.4M526.9 165.3h.4M517.7 173.7h.4M520.5 168.2h.4M511.5 171.2h.4M520.7 173.9h.4M514.3 168.4h.4M529.9 163.4h.4M521.5 169.4h.4M524.1 164.3h.4M512.0 171.5h.4M515.5 172.6h.4M520.2 165.7h.4M513.7 168.9h.4M529.5 170.2h.4M518.9 166.1h.4M522.3 166.2h.4M523.8 168.1h.4M520.8 167.5h.4M525.8 164.8h.4M519.0 172.7h.4M523.6 166.1h.4M528.9 166.9h.4M522.8 166.7h.4M522.4 167.3h.4M519.1 165.3h.4M522.8 170.1h.4M525.5 166.0h.4M521.2 171.3h.4M511.5 167.9h.4M522.5 166.6h.4M521.3 169.3h.4M524.6 167.5h.4M521.7 166.4h.4M530.8 165.3h.4M514.2 166.8h.4M516.3 169.6h.4M523.9 160.8h.4M516.1 170.0h.4M524.5 170.6h.4M522.3 170.1h.4M511.1 173.0h.4M525.4 166.0h.4M530.0 167.0h.4M522.8 166.7h.4M513.8 169.9h.4M526.3 166.6h.4M513.8 161.8h.4M521.7 170.3h.4M524.5 168.4h.4M517.9 171.1h.4M511.6 168.4h.4M521.4 169.8h.4M521.9 169.2h.4M515.6 164.1h.4M516.3 165.1h.4M526.1 167.0h.4M520.9 166.6h.4M519.1 168.7h.4M518.0 167.4h.4M523.7 171.2h.4M521.2 163.4h.4M520.0 165.1h.4M513.3 167.8h.4M518.8 165.4h.4M517.9 167.6h.4M522.2 167.8h.4M527.5 163.1h.4M527.4 167.4h.4M526.3 170.1h.4M523.1 170.4h.4M521.2 173.2h.4M524.4 170.1h.4M519.1 168.7h.4M521.0 172.7h.4M517.5 170.9h.4M522.7 172.5h.4M521.2 167.7h.4M530.9 160.3h.4M524.2 164.5h.4M519.8 169.0h.4M526.5 168.1h.4M519.0 168.3h.4M528.1 168.8h.4M525.5 164.2h.4M537.7 162.0h.4M516.3 172.0h.4M521.4 168.3h.4M521.2 168.4h.4M524.3 170.9h.4M526.5 169.5h.4M515.8 167.7h.4M517.8 169.6h.4M522.4 163.6h.4M527.2 166.5h.4M515.7 170.6h.4M512.0 166.3h.4M529.2 169.9h.4M527.8 171.4h.4M528.2 167.6h.4M516.9 171.7h.4M521.6 171.8h.4M523.0 167.3h.4M524.9 169.8h.4M521.4 169.1h.4M520.6 164.6h.4M526.9 164.4h.4M519.0 167.4h.4M519.4 171.4h.4M519.5 168.9h.4M519.6 171.1h.4M522.2 166.8h.4M519.8 165.4h.4M520.6 173.5h.4M531.5 172.3h.4M523.7 168.5h.4M519.8 168.1h.4M529.6 168.9h.4M518.0 166.3h.4M521.7 167.6h.4M520.4 164.9h.4M518.9 170.0h.4M519.8 169.2h.4M522.0 167.0h.4M513.4 168.7h.4M518.7 165.1h.4M522.7 165.8h.4M524.1 170.5h.4M523.2 166.8h.4M535.6 167.5h.4M525.0 165.1h.4M521.0 168.1h.4M520.8 167.2h.4M521.6 167.5h.4M524.7 169.2h.4M518.9 163.7h.4M530.6 167.5h.4M516.1 171.3h.4M525.3 167.1h.4M524.6 167.5h.4M515.3 169.2h.4M525.7 168.7h.4M524.9 167.4h.4M517.7 167.0h.4M534.7 165.0h.4M526.3 169.2h.4M520.2 169.4h.4M519.2 168.8h.4M517.8 169.6h.4M522.9 166.5h.4M521.8 166.9h.4M512.8 165.8h.4M515.9 169.2h.4M518.5 171.4h.4M519.3 167.8h.4M519.2 166.5h.4M518.7 171.1h.4M525.4 167.5h.4M527.1 167.0h.4M522.5 169.0h.4M510.1 172.9h.4M520.9 168.2h.4M524.4 165.3h.4M522.4 172.2h.4M523.3 167.8h.4M521.9 166.1h.4M513.7 170.7h.4M508.6 174.6h.4M524.3 163.9h.4M519.7 171.9h.4M524.0 167.1h.4M521.3 173.1h.4M521.3 169.9h.4M529.3 165.8h.4M516.0 172.7h.4M522.5 171.0h.4M515.5 168.9h.4M522.3 168.5h.4M506.1 171.0h.4M517.1 160.2h.4M499.3 174.1h.4M508.7 175.3h.4M493.7 173.3h.4M514.5 173.5h.4M493.0 170.5h.4M501.9 172.7h.4M512.1 177.3h.4M507.3 170.2h.4M506.6 174.3h.4M502.6 175.2h.4M506.5 171.1h.4M496.6 173.1h.4M512.5 173.0h.4M516.2 169.9h.4M515.9 182.6h.4M509.7 170.2h.4M519.4 179.5h.4M513.6 176.7h.4M517.3 163.2h.4M513.0 173.2h.4M510.3 176.6h.4M504.2 175.6h.4M490.0 168.2h.4M514.9 173.2h.4M509.2 166.9h.4M525.2 167.6h.4M494.9 171.0h.4M516.5 172.9h.4M502.8 179.1h.4M510.0 173.6h.4M503.3 176.7h.4M512.7 166.9h.4M509.8 167.0h.4M516.7 170.0h.4M511.2 179.7h.4M513.7 166.2h.4M519.8 165.2h.4M514.0 171.7h.4M509.0 177.3h.4M519.5 165.0h.4M509.2 171.0h.4M513.2 166.2h.4M507.6 178.4h.4M505.0 175.1h.4M487.2 173.3h.4M515.3 171.9h.4M501.3 171.0h.4M515.6 172.7h.4M523.8 169.2h.4M500.0 168.2h.4M516.7 167.2h.4M509.3 172.1h.4M513.5 168.6h.4M501.0 175.9h.4M510.3 162.9h.4M511.2 174.5h.4M520.9 174.4h.4M526.4 177.4h.4M512.5 171.0h.4M507.3 165.5h.4M527.0 168.0h.4M509.3 177.0h.4M509.6 170.7h.4M510.8 170.3h.4M513.6 169.5h.4M515.5 171.8h.4M505.7 171.1h.4M509.2 165.2h.4M524.4 169.4h.4M522.3 176.5h.4M513.5 178.4h.4M512.2 171.5h.4M508.3 169.8h.4M517.9 178.0h.4M506.2 171.3h.4M511.0 166.9h.4M506.6 171.5h.4M505.4 175.1h.4M510.4 178.9h.4M510.2 169.9h.4M505.7 174.4h.4M509.6 170.6h.4M510.6 177.0h.4M506.6 173.2h.4M505.1 173.2h.4M509.1 167.7h.4M515.5 170.6h.4M518.5 170.6h.4M511.5 156.3h.4M508.1 175.8h.4M509.9 172.0h.4M524.7 171.1h.4M517.1 170.5h.4M502.9 172.2h.4M509.7 173.1h.4M506.1 166.3h.4M507.4 172.6h.4M497.3 172.5h.4M510.3 172.2h.4M499.8 165.5h.4M505.7 171.4h.4M521.7 166.4h.4M517.7 173.6h.4M503.5 177.8h.4M502.3 175.8h.4M503.2 170.6h.4M495.8 169.7h.4M502.7 169.6h.4M508.1 173.6h.4M502.2 169.1h.4M515.9 169.7h.4M509.7 161.1h.4M506.1 168.3h.4M523.5 168.6h.4M515.5 169.7h.4M510.7 177.3h.4M524.2 166.1h.4M520.1 166.2h.4M504.8 174.7h.4M512.6 167.7h.4M506.8 171.3h.4M499.2 172.8h.4M524.6 172.1h.4M521.6 168.6h.4M500.5 176.0h.4M513.9 178.6h.4M497.6 167.6h.4M518.3 170.8h.4M509.7 176.1h.4M507.9 171.1h.4M519.7 167.6h.4M510.2 170.1h.4M508.2 175.7h.4M517.1 167.7h.4M507.8 173.1h.4M516.8 173.7h.4M510.2 169.2h.4M516.5 174.5h.4M514.9 174.9h.4M516.2 176.4h.4M502.5 176.1h.4M524.5 165.5h.4M508.9 175.9h.4M523.6 174.6h.4M505.6 176.3h.4M508.1 168.3h.4M508.1 176.0h.4M519.0 173.7h.4M506.9 167.0h.4M513.3 177.6h.4M498.1 168.6h.4M506.5 167.6h.4M511.9 173.8h.4M509.3 169.4h.4M495.8 173.6h.4M514.0 171.0h.4M502.7 173.3h.4M525.0 175.6h.4M508.7 171.9h.4M527.5 175.8h.4M515.3 175.7h.4M513.7 168.4h.4M506.5 175.8h.4M509.3 174.7h.4M513.6 172.6h.4M495.2 176.9h.4M517.8 179.3h.4M501.1 175.4h.4M494.3 184.9h.4M501.8 167.5h.4M499.5 181.4h.4M499.0 182.2h.4M501.4 174.7h.4M498.8 184.4h.4M506.4 183.4h.4M501.1 170.6h.4M500.1 181.2h.4M503.1 180.8h.4M503.2 173.8h.4M504.6 181.5h.4M502.5 182.5h.4M499.9 173.9h.4M500.6 166.5h.4M491.7 180.4h.4M494.4 173.8h.4M504.1 168.1h.4M498.8 175.9h.4M507.1 164.2h.4M507.0 176.1h.4M495.2 186.8h.4M501.3 161.5h.4M511.3 180.8h.4M497.0 172.7h.4M501.6 175.7h.4M499.2 172.8h.4M499.1 181.8h.4M499.0 178.0h.4M500.0 173.5h.4M503.0 170.5h.4M496.9 175.6h.4M502.0 184.8h.4M497.3 171.0h.4M502.1 180.5h.4M501.3 180.1h.4M497.1 166.4h.4M500.6 184.5h.4M497.2 177.9h.4M496.8 191.1h.4" stroke="#f42020" stroke-opacity="0.6" stroke-width="0.8" stroke-linecap="square" fill="none"/>
<rect x="455.70" y="123.60" width="101.30" height="74.40" fill="none" stroke="#666" stroke-width="0.9"/>
<line x1="501.70" y1="123.60" x2="501.70" y2="198.00" stroke="#555" stroke-width="0.9"/>
<line x1="455.70" y1="178.90" x2="557.00" y2="178.90" stroke="#888" stroke-width="0.9"/>
<text x="486.10" y="171.60" font-size="5.8" textLength="6.1" lengthAdjust="spacingAndGlyphs" font-family="Liberation Serif" fill="#444">Q1</text>
<text x="511.50" y="171.60" font-size="5.8" textLength="6.0" lengthAdjust="spacingAndGlyphs" font-family="Liberation Serif" fill="#444">Q2</text>
<text x="488.00" y="190.50" font-size="5.8" textLength="6.0" lengthAdjust="spacingAndGlyphs" font-family="Liberation Serif" fill="#444">Q3</text>
<text x="512.00" y="190.50" font-size="5.8" textLength="6.0" lengthAdjust="spacingAndGlyphs" font-family="Liberation Serif" fill="#444">Q4</text>
<text x="538.30" y="156.80" font-size="8.3" textLength="18.2" lengthAdjust="spacingAndGlyphs" fill="#222" stroke="#222" stroke-width="0.05">7.1%</text>
<text x="538.30" y="190.20" font-size="8.3" textLength="18.2" lengthAdjust="spacingAndGlyphs" fill="#222" stroke="#222" stroke-width="0.05">7.1%</text>
<rect x="607.70" y="49.12" width="21.90" height="37.48" fill="#1010f2"/>
<line x1="618.65" y1="45.31" x2="618.65" y2="49.12" stroke="#1010f2" stroke-width="1.2"/>
<line x1="613.15" y1="45.31" x2="624.15" y2="45.31" stroke="#1010f2" stroke-width="1.2"/>
<rect x="639.10" y="31.08" width="21.90" height="55.52" fill="#f61010"/>
<line x1="650.05" y1="28.13" x2="650.05" y2="31.08" stroke="#f61010" stroke-width="1.2"/>
<line x1="644.55" y1="28.13" x2="655.55" y2="28.13" stroke="#f61010" stroke-width="1.2"/>
<line x1="592.50" y1="17.20" x2="592.50" y2="87.20" stroke="#111" stroke-width="1.2"/>
<line x1="591.90" y1="86.60" x2="676.40" y2="86.60" stroke="#111" stroke-width="1.3"/>
<line x1="634.30" y1="86.60" x2="634.30" y2="88.60" stroke="#111" stroke-width="0.9"/>
<line x1="590.10" y1="86.60" x2="592.50" y2="86.60" stroke="#111" stroke-width="0.9"/>
<text x="589.90" y="88.10" font-size="4.2" font-weight="bold" text-anchor="end" textLength="1.8" lengthAdjust="spacingAndGlyphs" fill="#333" stroke="#333" stroke-width="0.18">0</text>
<line x1="590.10" y1="69.25" x2="592.50" y2="69.25" stroke="#111" stroke-width="0.9"/>
<text x="589.90" y="70.75" font-size="4.2" font-weight="bold" text-anchor="end" textLength="1.8" lengthAdjust="spacingAndGlyphs" fill="#333" stroke="#333" stroke-width="0.18">5</text>
<line x1="590.10" y1="51.90" x2="592.50" y2="51.90" stroke="#111" stroke-width="0.9"/>
<text x="589.90" y="53.40" font-size="4.2" font-weight="bold" text-anchor="end" textLength="3.6" lengthAdjust="spacingAndGlyphs" fill="#333" stroke="#333" stroke-width="0.18">10</text>
<line x1="590.10" y1="34.55" x2="592.50" y2="34.55" stroke="#111" stroke-width="0.9"/>
<text x="589.90" y="36.05" font-size="4.2" font-weight="bold" text-anchor="end" textLength="3.6" lengthAdjust="spacingAndGlyphs" fill="#333" stroke="#333" stroke-width="0.18">15</text>
<line x1="590.10" y1="17.20" x2="592.50" y2="17.20" stroke="#111" stroke-width="0.9"/>
<text x="589.90" y="18.70" font-size="4.2" font-weight="bold" text-anchor="end" textLength="3.6" lengthAdjust="spacingAndGlyphs" fill="#333" stroke="#333" stroke-width="0.18">20</text>
<line x1="609.80" y1="21.20" x2="656.00" y2="21.20" stroke="#222" stroke-width="1.4"/>
<text x="633.20" y="16.70" font-size="9.4" text-anchor="middle" textLength="7.2" lengthAdjust="spacingAndGlyphs" fill="#333" stroke="#333" stroke-width="0.18">**</text>
<text x="606.30" y="98.00" font-size="9.6" textLength="13.8" lengthAdjust="spacingAndGlyphs" fill="#1a1a1a" stroke="#1a1a1a" stroke-width="0.18">NC</text>
<text x="633.30" y="98.00" font-size="9.6" textLength="39.8" lengthAdjust="spacingAndGlyphs" fill="#1a1a1a" stroke="#1a1a1a" stroke-width="0.18">u50535si</text>
<text transform="translate(580.80,53.10) rotate(-90)" font-size="9.6" text-anchor="middle" textLength="77.0" lengthAdjust="spacingAndGlyphs" fill="#1a1a1a" stroke="#1a1a1a" stroke-width="0.18">Apoptosis rate %</text>
<rect x="610.00" y="137.04" width="22.70" height="57.06" fill="#1010f2"/>
<line x1="621.35" y1="126.08" x2="621.35" y2="137.04" stroke="#1010f2" stroke-width="1.2"/>
<line x1="615.85" y1="126.08" x2="626.85" y2="126.08" stroke="#1010f2" stroke-width="1.2"/>
<rect x="643.50" y="167.84" width="23.00" height="26.26" fill="#f61010"/>
<line x1="655.00" y1="162.47" x2="655.00" y2="167.84" stroke="#f61010" stroke-width="1.2"/>
<line x1="649.50" y1="162.47" x2="660.50" y2="162.47" stroke="#f61010" stroke-width="1.2"/>
<line x1="593.40" y1="111.40" x2="593.40" y2="194.70" stroke="#111" stroke-width="1.2"/>
<line x1="592.80" y1="194.10" x2="683.30" y2="194.10" stroke="#111" stroke-width="1.3"/>
<line x1="637.40" y1="194.10" x2="637.40" y2="196.10" stroke="#111" stroke-width="0.9"/>
<line x1="591.00" y1="194.10" x2="593.40" y2="194.10" stroke="#111" stroke-width="0.9"/>
<text x="590.80" y="195.60" font-size="4.2" font-weight="bold" text-anchor="end" textLength="1.8" lengthAdjust="spacingAndGlyphs" fill="#333" stroke="#333" stroke-width="0.18">0</text>
<line x1="591.00" y1="173.43" x2="593.40" y2="173.43" stroke="#111" stroke-width="0.9"/>
<text x="590.80" y="174.93" font-size="4.2" font-weight="bold" text-anchor="end" textLength="3.6" lengthAdjust="spacingAndGlyphs" fill="#333" stroke="#333" stroke-width="0.18">10</text>
<line x1="591.00" y1="152.75" x2="593.40" y2="152.75" stroke="#111" stroke-width="0.9"/>
<text x="590.80" y="154.25" font-size="4.2" font-weight="bold" text-anchor="end" textLength="3.6" lengthAdjust="spacingAndGlyphs" fill="#333" stroke="#333" stroke-width="0.18">20</text>
<line x1="591.00" y1="132.07" x2="593.40" y2="132.07" stroke="#111" stroke-width="0.9"/>
<text x="590.80" y="133.57" font-size="4.2" font-weight="bold" text-anchor="end" textLength="3.6" lengthAdjust="spacingAndGlyphs" fill="#333" stroke="#333" stroke-width="0.18">30</text>
<line x1="591.00" y1="111.40" x2="593.40" y2="111.40" stroke="#111" stroke-width="0.9"/>
<text x="590.80" y="112.90" font-size="4.2" font-weight="bold" text-anchor="end" textLength="3.6" lengthAdjust="spacingAndGlyphs" fill="#333" stroke="#333" stroke-width="0.18">40</text>
<line x1="614.30" y1="119.70" x2="663.90" y2="119.70" stroke="#222" stroke-width="1.4"/>
<text x="638.40" y="114.20" font-size="9.4" text-anchor="middle" textLength="7.2" lengthAdjust="spacingAndGlyphs" fill="#333" stroke="#333" stroke-width="0.18">**</text>
<text x="582.10" y="207.60" font-size="9.6" textLength="44.6" lengthAdjust="spacingAndGlyphs" fill="#1a1a1a" stroke="#1a1a1a" stroke-width="0.18">pcDNA3.1</text>
<text x="637.10" y="207.60" font-size="9.6" textLength="47.0" lengthAdjust="spacingAndGlyphs" fill="#1a1a1a" stroke="#1a1a1a" stroke-width="0.18">u50535OE</text>
<text transform="translate(581.00,155.40) rotate(-90)" font-size="9.6" text-anchor="middle" textLength="82.0" lengthAdjust="spacingAndGlyphs" fill="#1a1a1a" stroke="#1a1a1a" stroke-width="0.18">Apoptosis rate %</text>
<text x="0.10" y="238.80" font-size="14.7" font-weight="bold" fill="#000" stroke="#000" stroke-width="0.18">c</text>
<text x="332.80" y="238.80" font-size="14.7" font-weight="bold" fill="#000" stroke="#000" stroke-width="0.18">d</text>
<text x="73.80" y="242.10" font-size="9.9" textLength="35.7" lengthAdjust="spacingAndGlyphs" fill="#1a1a1a" stroke="#1a1a1a" stroke-width="0.18">HCT116</text>
<text x="418.90" y="246.40" font-size="10.5" textLength="24.1" lengthAdjust="spacingAndGlyphs" fill="#1a1a1a" stroke="#1a1a1a" stroke-width="0.18">DLD1</text>
<line x1="12.40" y1="247.20" x2="12.40" y2="351.30" stroke="#555" stroke-width="0.6"/>
<path d="M10.6 351.3H12.4M11.4 349.1H12.4M11.4 346.8H12.4M11.4 344.6H12.4M11.4 342.3H12.4M11.4 340.1H12.4M11.4 337.8H12.4M11.4 335.6H12.4M10.6 333.3H12.4M11.4 331.1H12.4M11.4 328.8H12.4M11.4 326.6H12.4M11.4 324.3H12.4M11.4 322.1H12.4M11.4 319.8H12.4M11.4 317.6H12.4M10.6 315.3H12.4M11.4 313.1H12.4M11.4 310.8H12.4M11.4 308.6H12.4M11.4 306.3H12.4M11.4 304.1H12.4M11.4 301.8H12.4M11.4 299.6H12.4M10.6 297.3H12.4M11.4 295.1H12.4M11.4 292.8H12.4M11.4 290.6H12.4M11.4 288.3H12.4M11.4 286.1H12.4M11.4 283.8H12.4M11.4 281.6H12.4M10.6 279.3H12.4M11.4 277.1H12.4M11.4 274.8H12.4M11.4 272.6H12.4M11.4 270.3H12.4M11.4 268.1H12.4M11.4 265.8H12.4M11.4 263.6H12.4M10.6 261.3H12.4M11.4 259.1H12.4M11.4 256.8H12.4M11.4 254.6H12.4M11.4 252.3H12.4M11.4 250.1H12.4M11.4 247.8H12.4" stroke="#666" stroke-width="0.45"/>
<rect x="9.00" y="334.30" width="1.30" height="6.00" fill="#b4b4b4"/>
<rect x="9.00" y="316.30" width="1.30" height="6.00" fill="#b4b4b4"/>
<rect x="9.00" y="298.30" width="1.30" height="6.00" fill="#b4b4b4"/>
<rect x="9.00" y="280.30" width="1.30" height="6.00" fill="#b4b4b4"/>
<rect x="9.00" y="262.30" width="1.30" height="6.00" fill="#b4b4b4"/>
<rect x="5.00" y="301.25" width="1.10" height="12.00" fill="#c4c4c4"/>
<line x1="10.00" y1="351.30" x2="83.50" y2="351.30" stroke="#444" stroke-width="0.7"/>
<path d="M12.4 351.3v2.6M14.8 351.3v1.4M17.2 351.3v1.4M19.5 351.3v1.4M21.9 351.3v1.4M24.3 351.3v2.6M26.7 351.3v1.4M29.1 351.3v1.4M31.4 351.3v1.4M33.8 351.3v1.4M36.2 351.3v2.6M38.6 351.3v1.4M41.0 351.3v1.4M43.3 351.3v1.4M45.7 351.3v1.4M48.1 351.3v2.6M50.5 351.3v1.4M52.9 351.3v1.4M55.2 351.3v1.4M57.6 351.3v1.4M60.0 351.3v2.6M62.4 351.3v1.4M64.8 351.3v1.4M67.1 351.3v1.4M69.5 351.3v1.4M71.9 351.3v2.6M74.3 351.3v1.4M76.7 351.3v1.4M79.0 351.3v1.4M81.4 351.3v1.4" stroke="#333" stroke-width="0.5"/>
<text x="12.40" y="357.50" font-size="3.4" text-anchor="middle" fill="#555">0</text>
<text x="24.30" y="357.50" font-size="3.4" text-anchor="middle" fill="#555">20</text>
<text x="36.20" y="357.50" font-size="3.4" text-anchor="middle" fill="#555">40</text>
<text x="48.10" y="357.50" font-size="3.4" text-anchor="middle" fill="#555">60</text>
<text x="60.00" y="357.50" font-size="3.4" text-anchor="middle" fill="#555">80</text>
<text x="71.90" y="357.50" font-size="3.4" text-anchor="middle" fill="#555">100</text>
<polygon points="45.25,346.80 45.50,342.30 45.75,342.30 46.00,342.30 46.25,342.68 46.50,343.70 46.75,343.78 47.00,344.04 47.25,343.67 47.50,344.02 47.75,344.49 48.00,344.40 48.25,344.83 48.50,344.05 48.75,344.09 49.00,343.72 49.25,344.33 49.50,344.90 49.75,344.18 50.00,344.32 50.25,343.81 50.50,343.74 50.75,343.83 51.00,343.53 51.25,342.63 51.50,342.66 51.75,343.13 52.00,343.42 52.25,344.15 52.50,344.21 52.75,344.03 53.00,343.94 53.25,344.44 53.50,344.13 53.75,344.26 54.00,344.67 54.25,343.81 54.50,343.58 54.75,343.15 55.00,342.62 55.25,343.11 55.50,342.51 55.75,342.32 56.00,342.71 56.25,342.41 56.50,343.13 56.75,343.74 57.00,343.03 57.25,342.67 57.50,342.02 57.75,341.18 58.00,341.64 58.25,340.89 58.50,341.30 58.75,340.66 59.00,340.13 59.25,339.93 59.50,339.72 59.75,339.51 60.00,339.30 60.25,339.09 60.50,338.88 60.75,338.68 61.00,338.47 61.25,338.26 61.50,338.05 61.75,337.84 62.00,337.63 62.25,337.43 62.50,337.22 62.75,337.01 63.00,336.80 63.25,336.80 63.50,336.80 63.75,336.80 64.00,336.80 64.25,336.80 64.50,336.80 64.75,336.80 65.00,336.80 65.25,336.80 65.50,336.80 65.75,336.80 66.00,336.80 66.25,337.26 66.50,337.72 66.75,338.18 67.00,338.63 67.25,339.09 67.50,339.55 67.75,340.01 68.00,340.47 68.25,340.93 68.50,341.38 68.75,341.84 69.00,342.30 69.25,343.05 69.50,343.80 69.75,344.55 70.00,345.30 70.25,346.05 70.50,346.80 70.75,347.55 71.00,348.30 71.25,349.05 71.50,349.80 71.75,350.55" fill="#d4d4f6"/>
<polygon points="36.50,351.3 36.50,348.70 36.75,343.29 37.00,338.28 37.25,333.49 37.50,328.84 37.75,324.29 38.00,319.83 38.25,315.44 38.50,311.10 38.75,306.82 39.00,302.58 39.25,298.39 39.50,294.23 39.75,290.10 40.00,286.01 40.25,281.94 40.50,277.90 40.75,273.88 41.00,269.89 41.25,270.69 41.50,274.69 41.75,278.71 42.00,282.75 42.25,286.82 42.50,290.93 42.75,295.06 43.00,299.22 43.25,303.43 43.50,307.67 43.75,311.97 44.00,316.31 44.25,320.72 44.50,325.19 44.75,329.76 45.00,334.44 45.25,339.26 45.50,344.32 45.75,349.91 45.75,351.3" fill="#ef1010"/>
<polygon points="58.25,351.3 58.25,351.24 58.50,351.22 58.75,351.20 59.00,351.17 59.25,351.13 59.50,351.08 59.75,351.02 60.00,350.95 60.25,350.87 60.50,350.76 60.75,350.63 61.00,350.48 61.25,350.30 61.50,350.08 61.75,349.83 62.00,349.54 62.25,349.21 62.50,348.83 62.75,348.40 63.00,347.91 63.25,347.37 63.50,346.78 63.75,346.13 64.00,345.42 64.25,344.66 64.50,343.85 64.75,342.99 65.00,342.10 65.25,341.18 65.50,340.23 65.75,339.28 66.00,338.33 66.25,337.40 66.50,336.49 66.75,335.63 67.00,334.83 67.25,334.09 67.50,333.44 67.75,332.89 68.00,332.44 68.25,332.10 68.50,331.89 68.75,331.80 69.00,331.84 69.25,332.00 69.50,332.29 69.75,332.69 70.00,333.21 70.25,333.82 70.50,334.52 70.75,335.30 71.00,336.14 71.25,337.03 71.50,337.96 71.75,338.90 72.00,339.85 72.25,340.80 72.50,341.73 72.75,342.64 73.00,343.51 73.25,344.34 73.50,345.12 73.75,345.85 74.00,346.52 74.25,347.14 74.50,347.70 74.75,348.21 75.00,348.66 75.25,349.06 75.50,349.41 75.75,349.72 76.00,349.99 76.25,350.21 76.50,350.41 76.75,350.57 77.00,350.71 77.25,350.83 77.50,350.92 77.75,351.00 78.00,351.06 78.25,351.11 78.50,351.15 78.75,351.19 79.00,351.21 79.25,351.23 79.50,351.25 79.50,351.3" fill="#ef1010"/>
<polyline points="10.00,351.30 10.25,351.30 10.50,351.30 10.75,351.30 11.00,351.30 11.25,351.30 11.50,351.30 11.75,351.30 12.00,351.30 12.25,351.30 12.50,351.30 12.75,351.30 13.00,351.30 13.25,351.30 13.50,351.30 13.75,351.30 14.00,351.30 14.25,351.30 14.50,351.30 14.75,351.30 15.00,351.30 15.25,351.30 15.50,351.30 15.75,351.30 16.00,351.30 16.25,351.30 16.50,351.30 16.75,351.30 17.00,351.30 17.25,351.30 17.50,351.30 17.75,351.30 18.00,351.30 18.25,351.30 18.50,351.30 18.75,351.30 19.00,351.30 19.25,351.30 19.50,351.30 19.75,351.30 20.00,351.30 20.25,351.30 20.50,351.30 20.75,351.30 21.00,351.30 21.25,351.30 21.50,351.30 21.75,351.30 22.00,351.30 22.25,351.30 22.50,351.30 22.75,351.30 23.00,351.30 23.25,351.30 23.50,351.30 23.75,351.30 24.00,351.30 24.25,351.30 24.50,351.30 24.75,351.30 25.00,351.30 25.25,351.30 25.50,351.30 25.75,351.30 26.00,351.30 26.25,351.30 26.50,351.30 26.75,351.30 27.00,351.30 27.25,351.30 27.50,351.30 27.75,351.30 28.00,351.30 28.25,351.30 28.50,351.30 28.75,351.30 29.00,351.30 29.25,351.30 29.50,351.30 29.75,351.30 30.00,351.30 30.25,351.30 30.50,351.30 30.75,351.30 31.00,351.30 31.25,351.30 31.50,351.30 31.75,351.30 32.00,351.30 32.25,351.25 32.50,351.20 32.75,351.15 33.00,351.10 33.25,351.05 33.50,351.00 33.75,350.95 34.00,350.90 34.25,350.85 34.50,350.80 34.75,350.75 35.00,350.70 35.25,350.65 35.50,350.20 35.75,346.02 36.00,341.84 36.25,337.66 36.50,333.49 36.75,329.31 37.00,325.13 37.25,320.95 37.50,316.77 37.75,312.59 38.00,308.41 38.25,304.24 38.50,300.06 38.75,295.88 39.00,291.70 39.25,287.52 39.50,283.34 39.75,279.16 40.00,274.99 40.25,270.81 40.50,266.63 40.75,262.45 41.00,258.27 41.25,259.11 41.50,263.29 41.75,267.46 42.00,271.64 42.25,275.82 42.50,280.00 42.75,284.18 43.00,288.36 43.25,292.54 43.50,296.71 43.75,300.89 44.00,305.07 44.25,309.25 44.50,313.43 44.75,317.61 45.00,321.79 45.25,325.96 45.50,330.14 45.75,334.32 46.00,338.50 46.25,342.68 46.50,343.70 46.75,343.78 47.00,344.04 47.25,343.67 47.50,344.02 47.75,344.49 48.00,344.40 48.25,344.83 48.50,344.05 48.75,344.09 49.00,343.72 49.25,344.33 49.50,344.90 49.75,344.18 50.00,344.32 50.25,343.81 50.50,343.74 50.75,343.83 51.00,343.53 51.25,342.63 51.50,342.66 51.75,343.13 52.00,343.42 52.25,344.15 52.50,344.21 52.75,344.03 53.00,343.94 53.25,344.44 53.50,344.13 53.75,344.26 54.00,344.67 54.25,343.81 54.50,343.58 54.75,343.15 55.00,342.62 55.25,343.11 55.50,342.51 55.75,342.32 56.00,342.71 56.25,342.41 56.50,343.13 56.75,343.74 57.00,343.03 57.25,342.67 57.50,342.02 57.75,340.89 58.00,341.64 58.25,340.89 58.50,341.30 58.75,340.66 59.00,339.07 59.25,338.31 59.50,337.53 59.75,336.70 60.00,335.47 60.25,335.45 60.50,334.36 60.75,334.65 61.00,334.79 61.25,333.86 61.50,332.33 61.75,331.44 62.00,330.53 62.25,328.91 62.50,328.79 62.75,327.54 63.00,326.63 63.25,325.85 63.50,325.04 63.75,323.99 64.00,322.75 64.25,321.70 64.50,320.15 64.75,318.98 65.00,317.53 65.25,316.40 65.50,316.21 65.75,317.36 66.00,318.83 66.25,320.18 66.50,320.98 66.75,322.02 67.00,322.97 67.25,323.28 67.50,324.19 67.75,324.10 68.00,324.71 68.25,324.86 68.50,325.08 68.75,325.60 69.00,324.79 69.25,325.43 69.50,326.16 69.75,325.89 70.00,326.47 70.25,326.40 70.50,326.82 70.75,327.39 71.00,328.70 71.25,330.48 71.50,330.87 71.75,332.79 72.00,333.63 72.25,334.46 72.50,335.95 72.75,336.99 73.00,338.62 73.25,339.51 73.50,340.90 73.75,342.54 74.00,343.50 74.25,344.29 74.50,344.91 74.75,345.62 75.00,346.14 75.25,347.61 75.50,348.60 75.75,348.99 76.00,350.39 76.25,350.47 76.50,349.91 76.75,350.05 77.00,350.19 77.25,350.33 77.50,350.47 77.75,350.61 78.00,350.74 78.25,350.88 78.50,351.02 78.75,351.16 79.00,351.30 79.25,351.30 79.50,351.30 79.75,351.30 80.00,351.30 80.25,351.30 80.50,351.30 80.75,351.30 81.00,351.30 81.25,351.30 81.50,351.30 81.75,351.30 82.00,351.30 82.25,351.30 82.50,351.30 82.75,351.30 83.00,351.30 83.25,351.30" fill="none" stroke="#4a4a58" stroke-width="0.55"/>
<text x="39.70" y="265.90" font-size="7.4" textLength="44.5" lengthAdjust="spacingAndGlyphs" fill="#222" stroke="#222" stroke-width="0.06">GOG1:43.6%</text>
<text x="54.30" y="274.40" font-size="7.4" textLength="29.9" lengthAdjust="spacingAndGlyphs" fill="#222" stroke="#222" stroke-width="0.06">S: 35.8%</text>
<text x="43.00" y="283.90" font-size="7.4" textLength="41.2" lengthAdjust="spacingAndGlyphs" fill="#222" stroke="#222" stroke-width="0.06">G2M: 20.6%</text>
<text x="36.90" y="370.40" font-size="10" textLength="13.2" lengthAdjust="spacingAndGlyphs" fill="#1a1a1a" stroke="#1a1a1a" stroke-width="0.18">NC</text>
<rect x="66.60" y="246.90" width="2.90" height="2.90" fill="#b01010"/>
<rect x="66.60" y="249.90" width="2.90" height="2.90" fill="#e01818"/>
<rect x="66.60" y="252.90" width="2.90" height="2.90" fill="#e0e0ea"/>
<rect x="70.90" y="247.30" width="3.60" height="1.80" fill="#a8a8f0"/>
<rect x="70.90" y="250.30" width="3.60" height="1.80" fill="#a8a8f0"/>
<rect x="70.90" y="253.30" width="7.00" height="1.80" fill="#a8a8f0"/>
<text x="48.95" y="361.10" font-size="3.6" text-anchor="middle" textLength="16.8" lengthAdjust="spacingAndGlyphs" fill="#666">Diameter FL-A</text>
<line x1="91.50" y1="247.20" x2="91.50" y2="351.40" stroke="#555" stroke-width="0.6"/>
<path d="M89.7 351.4H91.5M90.5 349.1H91.5M90.5 346.9H91.5M90.5 344.6H91.5M90.5 342.4H91.5M90.5 340.1H91.5M90.5 337.9H91.5M90.5 335.6H91.5M89.7 333.4H91.5M90.5 331.1H91.5M90.5 328.9H91.5M90.5 326.6H91.5M90.5 324.4H91.5M90.5 322.1H91.5M90.5 319.9H91.5M90.5 317.6H91.5M89.7 315.4H91.5M90.5 313.1H91.5M90.5 310.9H91.5M90.5 308.6H91.5M90.5 306.4H91.5M90.5 304.1H91.5M90.5 301.9H91.5M90.5 299.6H91.5M89.7 297.4H91.5M90.5 295.1H91.5M90.5 292.9H91.5M90.5 290.6H91.5M90.5 288.4H91.5M90.5 286.1H91.5M90.5 283.9H91.5M90.5 281.6H91.5M89.7 279.4H91.5M90.5 277.1H91.5M90.5 274.9H91.5M90.5 272.6H91.5M90.5 270.4H91.5M90.5 268.1H91.5M90.5 265.9H91.5M90.5 263.6H91.5M89.7 261.4H91.5M90.5 259.1H91.5M90.5 256.9H91.5M90.5 254.6H91.5M90.5 252.4H91.5M90.5 250.1H91.5M90.5 247.9H91.5" stroke="#666" stroke-width="0.45"/>
<rect x="88.10" y="334.40" width="1.30" height="6.00" fill="#b4b4b4"/>
<rect x="88.10" y="316.40" width="1.30" height="6.00" fill="#b4b4b4"/>
<rect x="88.10" y="298.40" width="1.30" height="6.00" fill="#b4b4b4"/>
<rect x="88.10" y="280.40" width="1.30" height="6.00" fill="#b4b4b4"/>
<rect x="88.10" y="262.40" width="1.30" height="6.00" fill="#b4b4b4"/>
<rect x="84.10" y="301.30" width="1.10" height="12.00" fill="#c4c4c4"/>
<line x1="89.00" y1="351.40" x2="161.50" y2="351.40" stroke="#444" stroke-width="0.7"/>
<path d="M91.5 351.4v2.6M93.9 351.4v1.4M96.3 351.4v1.4M98.6 351.4v1.4M101.0 351.4v1.4M103.4 351.4v2.6M105.8 351.4v1.4M108.2 351.4v1.4M110.5 351.4v1.4M112.9 351.4v1.4M115.3 351.4v2.6M117.7 351.4v1.4M120.1 351.4v1.4M122.4 351.4v1.4M124.8 351.4v1.4M127.2 351.4v2.6M129.6 351.4v1.4M132.0 351.4v1.4M134.3 351.4v1.4M136.7 351.4v1.4M139.1 351.4v2.6M141.5 351.4v1.4M143.9 351.4v1.4M146.2 351.4v1.4M148.6 351.4v1.4M151.0 351.4v2.6M153.4 351.4v1.4M155.8 351.4v1.4M158.1 351.4v1.4M160.5 351.4v1.4" stroke="#333" stroke-width="0.5"/>
<text x="91.50" y="357.60" font-size="3.4" text-anchor="middle" fill="#555">0</text>
<text x="103.40" y="357.60" font-size="3.4" text-anchor="middle" fill="#555">20</text>
<text x="115.30" y="357.60" font-size="3.4" text-anchor="middle" fill="#555">40</text>
<text x="127.20" y="357.60" font-size="3.4" text-anchor="middle" fill="#555">60</text>
<text x="139.10" y="357.60" font-size="3.4" text-anchor="middle" fill="#555">80</text>
<text x="151.00" y="357.60" font-size="3.4" text-anchor="middle" fill="#555">100</text>
<polygon points="125.25,348.90 125.50,347.48 125.75,347.01 126.00,346.83 126.25,347.00 126.50,347.46 126.75,347.66 127.00,348.22 127.25,347.72 127.50,347.98 127.75,347.58 128.00,347.15 128.25,346.93 128.50,346.85 128.75,347.42 129.00,347.96 129.25,348.26 129.50,348.97 129.75,348.23 130.00,348.03 130.25,348.04 130.50,346.95 130.75,346.97 131.00,346.79 131.25,347.04 131.50,347.26 131.75,347.36 132.00,347.73 132.25,347.00 132.50,346.92 132.75,347.72 133.00,347.35 133.25,348.15 133.50,347.92 133.75,346.93 134.00,347.35 134.25,347.11 134.50,347.36 134.75,347.62 135.00,346.59 135.25,346.24 135.50,346.22 135.75,346.21 136.00,346.68 136.25,346.72 136.50,346.21 136.75,346.37 137.00,345.80 137.25,345.66 137.50,345.55 137.75,345.44 138.00,345.33 138.25,345.22 138.50,345.12 138.75,345.01 139.00,344.90 139.25,344.82 139.50,344.73 139.75,344.65 140.00,344.57 140.25,344.48 140.50,344.40 140.75,344.32 141.00,344.23 141.25,344.15 141.50,344.07 141.75,343.98 142.00,343.90 142.25,343.94 142.50,343.98 142.75,344.02 143.00,344.07 143.25,344.11 143.50,344.15 143.75,344.19 144.00,344.23 144.25,344.27 144.50,344.32 144.75,344.36 145.00,344.40 145.25,344.60 145.50,344.80 145.75,345.00 146.00,345.20 146.25,345.40 146.50,345.60 146.75,345.80 147.00,346.00 147.25,346.20 147.50,346.40 147.75,346.60 148.00,346.80 148.25,347.00 148.50,347.20 148.75,347.40 149.00,347.60 149.25,347.80 149.50,348.00 149.75,348.20 150.00,348.40 150.25,348.65 150.50,348.90 150.75,349.15 151.00,349.40 151.25,349.65 151.50,349.90 151.75,350.15 152.00,350.40 152.25,350.65 152.50,350.90 152.75,351.15" fill="#d4d4f6"/>
<polygon points="115.75,351.4 115.75,346.07 116.00,340.73 116.25,335.40 116.50,330.07 116.75,324.73 117.00,319.40 117.25,314.07 117.50,308.73 117.75,303.40 118.00,298.07 118.25,292.73 118.50,287.40 118.75,282.07 119.00,276.73 119.25,271.40 119.50,266.07 119.75,260.73 120.00,255.40 120.25,260.73 120.50,266.07 120.75,271.40 121.00,276.73 121.25,282.07 121.50,287.40 121.75,292.73 122.00,298.07 122.25,303.40 122.50,308.73 122.75,314.07 123.00,319.40 123.25,324.73 123.50,330.07 123.75,335.40 124.00,340.73 124.25,346.07 124.25,351.4" fill="#ef1010"/>
<polygon points="139.00,351.4 139.00,351.35 139.25,351.33 139.50,351.31 139.75,351.28 140.00,351.25 140.25,351.20 140.50,351.15 140.75,351.08 141.00,351.01 141.25,350.91 141.50,350.80 141.75,350.67 142.00,350.52 142.25,350.35 142.50,350.15 142.75,349.93 143.00,349.67 143.25,349.40 143.50,349.09 143.75,348.77 144.00,348.41 144.25,348.04 144.50,347.66 144.75,347.26 145.00,346.85 145.25,346.45 145.50,346.05 145.75,345.66 146.00,345.30 146.25,344.97 146.50,344.67 146.75,344.41 147.00,344.20 147.25,344.04 147.50,343.94 147.75,343.90 148.00,343.92 148.25,344.00 148.50,344.13 148.75,344.32 149.00,344.56 149.25,344.84 149.50,345.16 149.75,345.52 150.00,345.89 150.25,346.29 150.50,346.69 150.75,347.09 151.00,347.50 151.25,347.89 151.50,348.27 151.75,348.63 152.00,348.97 152.25,349.28 152.50,349.57 152.75,349.83 153.00,350.06 153.25,350.27 153.50,350.46 153.75,350.62 154.00,350.75 154.25,350.87 154.50,350.97 154.75,351.06 155.00,351.13 155.25,351.18 155.50,351.23 155.75,351.27 156.00,351.30 156.25,351.32 156.50,351.34 156.50,351.4" fill="#ef1010"/>
<polyline points="89.00,351.40 89.25,351.40 89.50,351.40 89.75,351.40 90.00,351.40 90.25,351.40 90.50,351.40 90.75,351.40 91.00,351.40 91.25,351.40 91.50,351.40 91.75,351.40 92.00,351.40 92.25,351.40 92.50,351.40 92.75,351.40 93.00,351.40 93.25,351.40 93.50,351.40 93.75,351.40 94.00,351.40 94.25,351.40 94.50,351.40 94.75,351.40 95.00,351.40 95.25,351.40 95.50,351.40 95.75,351.40 96.00,351.40 96.25,351.40 96.50,351.40 96.75,351.40 97.00,351.40 97.25,351.40 97.50,351.40 97.75,351.40 98.00,351.40 98.25,351.40 98.50,351.40 98.75,351.40 99.00,351.40 99.25,351.40 99.50,351.40 99.75,351.40 100.00,351.40 100.25,351.40 100.50,351.40 100.75,351.40 101.00,351.40 101.25,351.40 101.50,351.40 101.75,351.40 102.00,351.40 102.25,351.40 102.50,351.40 102.75,351.40 103.00,351.40 103.25,351.40 103.50,351.40 103.75,351.40 104.00,351.40 104.25,351.40 104.50,351.40 104.75,351.40 105.00,351.40 105.25,351.40 105.50,351.40 105.75,351.40 106.00,351.40 106.25,351.40 106.50,351.40 106.75,351.40 107.00,351.40 107.25,351.40 107.50,351.40 107.75,351.40 108.00,351.40 108.25,351.40 108.50,351.40 108.75,351.40 109.00,351.40 109.25,351.40 109.50,351.40 109.75,351.40 110.00,351.40 110.25,351.35 110.50,351.30 110.75,351.25 111.00,351.20 111.25,351.15 111.50,351.10 111.75,351.05 112.00,351.00 112.25,350.95 112.50,350.90 112.75,350.85 113.00,350.80 113.25,350.72 113.50,350.65 113.75,350.57 114.00,350.50 114.25,350.42 114.50,350.35 114.75,350.27 115.00,350.20 115.25,350.12 115.50,350.05 115.75,346.07 116.00,340.73 116.25,335.40 116.50,330.07 116.75,324.73 117.00,319.40 117.25,314.07 117.50,308.73 117.75,303.40 118.00,298.07 118.25,292.73 118.50,287.40 118.75,282.07 119.00,276.73 119.25,271.40 119.50,266.07 119.75,260.73 120.00,255.40 120.25,260.73 120.50,266.07 120.75,271.40 121.00,276.73 121.25,282.07 121.50,287.40 121.75,292.73 122.00,298.07 122.25,303.40 122.50,308.73 122.75,314.07 123.00,319.40 123.25,324.73 123.50,330.07 123.75,335.40 124.00,340.73 124.25,346.07 124.50,347.77 124.75,348.01 125.00,347.83 125.25,347.98 125.50,347.48 125.75,347.01 126.00,346.83 126.25,347.00 126.50,347.46 126.75,347.66 127.00,348.22 127.25,347.72 127.50,347.98 127.75,347.58 128.00,347.15 128.25,346.93 128.50,346.85 128.75,347.42 129.00,347.96 129.25,348.26 129.50,348.97 129.75,348.23 130.00,348.03 130.25,348.04 130.50,346.95 130.75,346.97 131.00,346.79 131.25,347.04 131.50,347.26 131.75,347.36 132.00,347.73 132.25,347.00 132.50,346.92 132.75,347.72 133.00,347.35 133.25,348.15 133.50,347.92 133.75,346.93 134.00,347.35 134.25,347.11 134.50,347.36 134.75,347.62 135.00,346.59 135.25,345.91 135.50,345.94 135.75,345.55 136.00,346.68 136.25,346.72 136.50,346.21 136.75,346.37 137.00,345.80 137.25,345.46 137.50,344.83 137.75,344.44 138.00,344.34 138.25,343.78 138.50,344.87 138.75,344.52 139.00,344.08 139.25,344.01 139.50,343.40 139.75,342.86 140.00,342.30 140.25,342.89 140.50,342.94 140.75,343.18 141.00,342.49 141.25,341.50 141.50,340.44 141.75,340.08 142.00,339.93 142.25,339.50 142.50,339.09 142.75,339.01 143.00,338.51 143.25,337.82 143.50,338.37 143.75,337.29 144.00,337.53 144.25,338.25 144.50,338.53 144.75,339.18 145.00,339.31 145.25,339.19 145.50,338.98 145.75,338.66 146.00,338.90 146.25,338.69 146.50,336.90 146.75,336.39 147.00,335.69 147.25,335.52 147.50,336.49 147.75,338.33 148.00,338.92 148.25,339.32 148.50,340.29 148.75,340.34 149.00,340.49 149.25,340.52 149.50,340.35 149.75,339.83 150.00,340.65 150.25,341.44 150.50,342.46 150.75,343.49 151.00,343.56 151.25,343.80 151.50,343.58 151.75,344.50 152.00,345.56 152.25,346.40 152.50,347.68 152.75,347.12 153.00,347.16 153.25,347.65 153.50,347.99 153.75,349.16 154.00,350.46 154.25,349.90 154.50,350.40 154.75,350.50 155.00,350.60 155.25,350.70 155.50,350.80 155.75,350.90 156.00,351.00 156.25,351.10 156.50,351.20 156.75,351.30 157.00,351.40 157.25,351.40 157.50,351.40 157.75,351.40 158.00,351.40 158.25,351.40 158.50,351.40 158.75,351.40 159.00,351.40 159.25,351.40 159.50,351.40 159.75,351.40 160.00,351.40 160.25,351.40 160.50,351.40 160.75,351.40 161.00,351.40 161.25,351.40" fill="none" stroke="#4a4a58" stroke-width="0.55"/>
<text x="118.20" y="265.90" font-size="7.4" textLength="43.9" lengthAdjust="spacingAndGlyphs" fill="#222" stroke="#222" stroke-width="0.06">GOG1:67.0%</text>
<text x="132.00" y="274.60" font-size="7.4" textLength="30.1" lengthAdjust="spacingAndGlyphs" fill="#222" stroke="#222" stroke-width="0.06">S: 22.7%</text>
<text x="121.30" y="283.90" font-size="7.4" textLength="40.8" lengthAdjust="spacingAndGlyphs" fill="#222" stroke="#222" stroke-width="0.06">G2M: 10.3%</text>
<text x="109.80" y="370.40" font-size="10" textLength="38.8" lengthAdjust="spacingAndGlyphs" fill="#1a1a1a" stroke="#1a1a1a" stroke-width="0.18">u50535si</text>
<rect x="146.10" y="246.90" width="2.90" height="2.90" fill="#b01010"/>
<rect x="146.10" y="249.90" width="2.90" height="2.90" fill="#e01818"/>
<rect x="146.10" y="252.90" width="2.90" height="2.90" fill="#e0e0ea"/>
<rect x="150.40" y="247.30" width="3.60" height="1.80" fill="#a8a8f0"/>
<rect x="150.40" y="250.30" width="3.60" height="1.80" fill="#a8a8f0"/>
<rect x="150.40" y="253.30" width="7.00" height="1.80" fill="#a8a8f0"/>
<text x="127.50" y="361.20" font-size="3.6" text-anchor="middle" textLength="16.8" lengthAdjust="spacingAndGlyphs" fill="#666">Diameter FL-A</text>
<line x1="356.30" y1="252.00" x2="356.30" y2="355.50" stroke="#555" stroke-width="0.6"/>
<path d="M354.5 355.5H356.3M355.3 353.2H356.3M355.3 351.0H356.3M355.3 348.8H356.3M355.3 346.5H356.3M355.3 344.2H356.3M355.3 342.0H356.3M355.3 339.8H356.3M354.5 337.5H356.3M355.3 335.2H356.3M355.3 333.0H356.3M355.3 330.8H356.3M355.3 328.5H356.3M355.3 326.2H356.3M355.3 324.0H356.3M355.3 321.8H356.3M354.5 319.5H356.3M355.3 317.2H356.3M355.3 315.0H356.3M355.3 312.8H356.3M355.3 310.5H356.3M355.3 308.2H356.3M355.3 306.0H356.3M355.3 303.8H356.3M354.5 301.5H356.3M355.3 299.2H356.3M355.3 297.0H356.3M355.3 294.8H356.3M355.3 292.5H356.3M355.3 290.2H356.3M355.3 288.0H356.3M355.3 285.8H356.3M354.5 283.5H356.3M355.3 281.2H356.3M355.3 279.0H356.3M355.3 276.8H356.3M355.3 274.5H356.3M355.3 272.2H356.3M355.3 270.0H356.3M355.3 267.8H356.3M354.5 265.5H356.3M355.3 263.2H356.3M355.3 261.0H356.3M355.3 258.8H356.3M355.3 256.5H356.3M355.3 254.2H356.3M355.3 252.0H356.3" stroke="#666" stroke-width="0.45"/>
<rect x="352.90" y="338.50" width="1.30" height="6.00" fill="#b4b4b4"/>
<rect x="352.90" y="320.50" width="1.30" height="6.00" fill="#b4b4b4"/>
<rect x="352.90" y="302.50" width="1.30" height="6.00" fill="#b4b4b4"/>
<rect x="352.90" y="284.50" width="1.30" height="6.00" fill="#b4b4b4"/>
<rect x="352.90" y="266.50" width="1.30" height="6.00" fill="#b4b4b4"/>
<rect x="348.90" y="305.75" width="1.10" height="12.00" fill="#c4c4c4"/>
<line x1="354.00" y1="355.50" x2="425.00" y2="355.50" stroke="#444" stroke-width="0.7"/>
<path d="M356.3 355.5v2.6M358.7 355.5v1.4M361.1 355.5v1.4M363.4 355.5v1.4M365.8 355.5v1.4M368.2 355.5v2.6M370.6 355.5v1.4M373.0 355.5v1.4M375.3 355.5v1.4M377.7 355.5v1.4M380.1 355.5v2.6M382.5 355.5v1.4M384.9 355.5v1.4M387.2 355.5v1.4M389.6 355.5v1.4M392.0 355.5v2.6M394.4 355.5v1.4M396.8 355.5v1.4M399.1 355.5v1.4M401.5 355.5v1.4M403.9 355.5v2.6M406.3 355.5v1.4M408.7 355.5v1.4M411.0 355.5v1.4M413.4 355.5v1.4M415.8 355.5v2.6M418.2 355.5v1.4M420.6 355.5v1.4M422.9 355.5v1.4" stroke="#333" stroke-width="0.5"/>
<text x="356.30" y="361.70" font-size="3.4" text-anchor="middle" fill="#555">0</text>
<text x="368.20" y="361.70" font-size="3.4" text-anchor="middle" fill="#555">20</text>
<text x="380.10" y="361.70" font-size="3.4" text-anchor="middle" fill="#555">40</text>
<text x="392.00" y="361.70" font-size="3.4" text-anchor="middle" fill="#555">60</text>
<text x="403.90" y="361.70" font-size="3.4" text-anchor="middle" fill="#555">80</text>
<text x="415.80" y="361.70" font-size="3.4" text-anchor="middle" fill="#555">100</text>
<polygon points="382.25,350.50 382.50,345.50 382.75,340.50 383.00,335.83 383.25,337.08 383.50,336.47 383.75,336.62 384.00,337.87 384.25,338.81 384.50,338.72 384.75,338.24 385.00,338.61 385.25,338.75 385.50,339.20 385.75,339.63 386.00,339.63 386.25,339.76 386.50,340.52 386.75,341.38 387.00,342.09 387.25,342.21 387.50,341.78 387.75,341.99 388.00,342.03 388.25,342.56 388.50,343.20 388.75,343.53 389.00,343.04 389.25,342.18 389.50,341.86 389.75,341.88 390.00,342.00 390.25,343.15 390.50,342.71 390.75,342.38 391.00,342.50 391.25,342.81 391.50,343.12 391.75,343.44 392.00,343.75 392.25,344.06 392.50,344.38 392.75,344.69 393.00,345.00 393.25,345.46 393.50,345.92 393.75,346.38 394.00,346.83 394.25,347.29 394.50,347.75 394.75,348.21 395.00,348.67 395.25,349.12 395.50,349.58 395.75,350.04 396.00,350.50 396.25,351.12 396.50,351.75 396.75,352.38 397.00,353.00 397.25,353.62 397.50,354.25 397.75,354.88" fill="#d4d4f6"/>
<polygon points="373.75,355.5 373.75,345.93 374.00,339.95 374.25,334.85 374.50,330.25 374.75,325.98 375.00,321.96 375.25,318.14 375.50,314.47 375.75,310.95 376.00,307.54 376.25,304.23 376.50,301.01 376.75,297.87 377.00,294.80 377.25,291.80 377.50,288.85 377.75,285.97 378.00,283.13 378.25,280.34 378.50,277.59 378.75,278.13 379.00,280.89 379.25,283.69 379.50,286.54 379.75,289.44 380.00,292.39 380.25,295.41 380.50,298.49 380.75,301.65 381.00,304.88 381.25,308.21 381.50,311.64 381.75,315.20 382.00,318.89 382.25,322.74 382.50,326.81 382.75,331.14 383.00,335.83 383.25,341.06 383.50,347.31 383.50,355.5" fill="#ef1010"/>
<polygon points="386.25,355.5 386.25,355.44 386.50,355.42 386.75,355.40 387.00,355.38 387.25,355.35 387.50,355.32 387.75,355.28 388.00,355.23 388.25,355.17 388.50,355.10 388.75,355.01 389.00,354.92 389.25,354.80 389.50,354.67 389.75,354.52 390.00,354.35 390.25,354.15 390.50,353.93 390.75,353.68 391.00,353.40 391.25,353.09 391.50,352.75 391.75,352.37 392.00,351.95 392.25,351.50 392.50,351.02 392.75,350.50 393.00,349.95 393.25,349.37 393.50,348.76 393.75,348.12 394.00,347.46 394.25,346.79 394.50,346.10 394.75,345.41 395.00,344.73 395.25,344.05 395.50,343.38 395.75,342.74 396.00,342.13 396.25,341.55 396.50,341.03 396.75,340.55 397.00,340.14 397.25,339.78 397.50,339.50 397.75,339.29 398.00,339.16 398.25,339.10 398.50,339.13 398.75,339.23 399.00,339.41 399.25,339.66 399.50,339.99 399.75,340.38 400.00,340.83 400.25,341.34 400.50,341.89 400.75,342.49 401.00,343.12 401.25,343.78 401.50,344.45 401.75,345.14 402.00,345.83 402.25,346.52 402.50,347.20 402.75,347.86 403.00,348.51 403.25,349.13 403.50,349.72 403.75,350.29 404.00,350.82 404.25,351.32 404.50,351.78 404.75,352.21 405.00,352.60 405.25,352.96 405.50,353.28 405.75,353.57 406.00,353.83 406.25,354.07 406.50,354.27 406.75,354.46 407.00,354.62 407.25,354.75 407.50,354.87 407.75,354.98 408.00,355.07 408.25,355.14 408.50,355.20 408.75,355.26 409.00,355.30 409.25,355.34 409.50,355.37 409.75,355.40 410.00,355.42 410.25,355.43 410.50,355.45 410.50,355.5" fill="#ef1010"/>
<polyline points="354.00,355.50 354.25,355.50 354.50,355.50 354.75,355.50 355.00,355.50 355.25,355.50 355.50,355.50 355.75,355.50 356.00,355.50 356.25,355.50 356.50,355.50 356.75,355.50 357.00,355.50 357.25,355.50 357.50,355.50 357.75,355.50 358.00,355.50 358.25,355.50 358.50,355.50 358.75,355.50 359.00,355.50 359.25,355.50 359.50,355.50 359.75,355.50 360.00,355.50 360.25,355.50 360.50,355.50 360.75,355.50 361.00,355.50 361.25,355.50 361.50,355.50 361.75,355.50 362.00,355.50 362.25,355.50 362.50,355.50 362.75,355.50 363.00,355.50 363.25,355.50 363.50,355.50 363.75,355.50 364.00,355.50 364.25,355.50 364.50,355.50 364.75,355.50 365.00,355.50 365.25,355.50 365.50,355.50 365.75,355.50 366.00,355.50 366.25,355.50 366.50,355.50 366.75,355.50 367.00,355.50 367.25,355.50 367.50,355.50 367.75,355.50 368.00,355.50 368.25,355.50 368.50,355.50 368.75,355.50 369.00,355.50 369.25,354.88 369.50,354.25 369.75,354.39 370.00,354.10 370.25,352.89 370.50,352.34 370.75,352.28 371.00,352.03 371.25,352.06 371.50,352.57 371.75,351.15 372.00,351.29 372.25,351.18 372.50,351.23 372.75,351.19 373.00,350.68 373.25,350.83 373.50,350.96 373.75,345.93 374.00,339.95 374.25,334.85 374.50,330.25 374.75,325.98 375.00,321.96 375.25,318.14 375.50,314.47 375.75,310.95 376.00,307.54 376.25,304.23 376.50,301.01 376.75,297.87 377.00,294.80 377.25,290.89 377.50,285.36 377.75,279.82 378.00,274.29 378.25,268.75 378.50,263.21 378.75,264.32 379.00,269.86 379.25,275.39 379.50,280.93 379.75,286.46 380.00,292.00 380.25,295.41 380.50,298.49 380.75,301.65 381.00,304.88 381.25,308.21 381.50,311.64 381.75,315.20 382.00,318.89 382.25,322.74 382.50,326.81 382.75,331.14 383.00,335.83 383.25,337.08 383.50,336.47 383.75,336.60 384.00,337.87 384.25,338.81 384.50,338.72 384.75,338.24 385.00,338.61 385.25,338.69 385.50,339.20 385.75,339.63 386.00,339.63 386.25,339.76 386.50,340.52 386.75,341.38 387.00,342.09 387.25,342.21 387.50,341.78 387.75,341.99 388.00,342.03 388.25,342.56 388.50,343.20 388.75,343.53 389.00,343.04 389.25,342.18 389.50,341.86 389.75,341.57 390.00,341.98 390.25,343.15 390.50,342.71 390.75,342.06 391.00,341.48 391.25,340.52 391.50,340.29 391.75,340.17 392.00,340.33 392.25,340.23 392.50,339.86 392.75,339.80 393.00,339.06 393.25,338.88 393.50,338.72 393.75,337.83 394.00,337.50 394.25,336.95 394.50,336.24 394.75,336.00 395.00,334.95 395.25,335.42 395.50,335.19 395.75,335.37 396.00,335.70 396.25,334.47 396.50,334.17 396.75,333.43 397.00,333.21 397.25,333.21 397.50,333.97 397.75,334.66 398.00,334.71 398.25,335.74 398.50,335.16 398.75,335.03 399.00,334.82 399.25,334.78 399.50,335.82 399.75,336.26 400.00,336.92 400.25,337.26 400.50,337.14 400.75,337.43 401.00,337.68 401.25,338.26 401.50,338.58 401.75,339.36 402.00,340.82 402.25,341.39 402.50,342.73 402.75,343.25 403.00,343.35 403.25,343.85 403.50,344.01 403.75,344.29 404.00,345.36 404.25,346.15 404.50,347.26 404.75,349.20 405.00,349.82 405.25,350.94 405.50,351.05 405.75,350.92 406.00,351.22 406.25,351.06 406.50,352.01 406.75,352.31 407.00,353.33 407.25,353.80 407.50,353.93 407.75,354.24 408.00,354.53 408.25,354.61 408.50,354.69 408.75,354.77 409.00,354.85 409.25,354.94 409.50,355.02 409.75,355.10 410.00,355.18 410.25,355.26 410.50,355.34 410.75,355.42 411.00,355.50 411.25,355.50 411.50,355.50 411.75,355.50 412.00,355.50 412.25,355.50 412.50,355.50 412.75,355.50 413.00,355.50 413.25,355.50 413.50,355.50 413.75,355.50 414.00,355.50 414.25,355.50 414.50,355.50 414.75,355.50 415.00,355.50 415.25,355.50 415.50,355.50 415.75,355.50 416.00,355.50 416.25,355.50 416.50,355.50 416.75,355.50 417.00,355.50 417.25,355.50 417.50,355.50 417.75,355.50 418.00,355.50 418.25,355.50 418.50,355.50 418.75,355.50 419.00,355.50 419.25,355.50 419.50,355.50 419.75,355.50 420.00,355.50 420.25,355.50 420.50,355.50 420.75,355.50 421.00,355.50 421.25,355.50 421.50,355.50 421.75,355.50 422.00,355.50 422.25,355.50 422.50,355.50 422.75,355.50 423.00,355.50 423.25,355.50 423.50,355.50 423.75,355.50 424.00,355.50 424.25,355.50 424.50,355.50 424.75,355.50" fill="none" stroke="#4a4a58" stroke-width="0.55"/>
<text x="379.00" y="271.60" font-size="7.4" textLength="44.2" lengthAdjust="spacingAndGlyphs" fill="#222" stroke="#222" stroke-width="0.06">GOG1:49.8%</text>
<text x="393.70" y="280.70" font-size="7.4" textLength="29.5" lengthAdjust="spacingAndGlyphs" fill="#222" stroke="#222" stroke-width="0.06">S: 29.0%</text>
<text x="382.00" y="289.60" font-size="7.4" textLength="41.2" lengthAdjust="spacingAndGlyphs" fill="#222" stroke="#222" stroke-width="0.06">G2M: 21.2%</text>
<text x="368.60" y="373.00" font-size="10" textLength="44.4" lengthAdjust="spacingAndGlyphs" fill="#1a1a1a" stroke="#1a1a1a" stroke-width="0.18">pcDNA3.1</text>
<rect x="411.40" y="253.20" width="2.90" height="2.90" fill="#b01010"/>
<rect x="411.40" y="256.20" width="2.90" height="2.90" fill="#e01818"/>
<rect x="411.40" y="259.20" width="2.90" height="2.90" fill="#e0e0ea"/>
<rect x="415.70" y="253.60" width="3.60" height="1.80" fill="#a8a8f0"/>
<rect x="415.70" y="256.60" width="3.60" height="1.80" fill="#a8a8f0"/>
<rect x="415.70" y="259.60" width="7.00" height="1.80" fill="#a8a8f0"/>
<text x="391.65" y="365.30" font-size="3.6" text-anchor="middle" textLength="16.8" lengthAdjust="spacingAndGlyphs" fill="#666">Diameter FL-A</text>
<line x1="430.60" y1="252.00" x2="430.60" y2="355.80" stroke="#555" stroke-width="0.6"/>
<path d="M428.8 355.8H430.6M429.6 353.6H430.6M429.6 351.3H430.6M429.6 349.1H430.6M429.6 346.8H430.6M429.6 344.6H430.6M429.6 342.3H430.6M429.6 340.1H430.6M428.8 337.8H430.6M429.6 335.6H430.6M429.6 333.3H430.6M429.6 331.1H430.6M429.6 328.8H430.6M429.6 326.6H430.6M429.6 324.3H430.6M429.6 322.1H430.6M428.8 319.8H430.6M429.6 317.6H430.6M429.6 315.3H430.6M429.6 313.1H430.6M429.6 310.8H430.6M429.6 308.6H430.6M429.6 306.3H430.6M429.6 304.1H430.6M428.8 301.8H430.6M429.6 299.6H430.6M429.6 297.3H430.6M429.6 295.1H430.6M429.6 292.8H430.6M429.6 290.6H430.6M429.6 288.3H430.6M429.6 286.1H430.6M428.8 283.8H430.6M429.6 281.6H430.6M429.6 279.3H430.6M429.6 277.1H430.6M429.6 274.8H430.6M429.6 272.6H430.6M429.6 270.3H430.6M429.6 268.1H430.6M428.8 265.8H430.6M429.6 263.6H430.6M429.6 261.3H430.6M429.6 259.1H430.6M429.6 256.8H430.6M429.6 254.6H430.6M429.6 252.3H430.6" stroke="#666" stroke-width="0.45"/>
<rect x="427.20" y="338.80" width="1.30" height="6.00" fill="#b4b4b4"/>
<rect x="427.20" y="320.80" width="1.30" height="6.00" fill="#b4b4b4"/>
<rect x="427.20" y="302.80" width="1.30" height="6.00" fill="#b4b4b4"/>
<rect x="427.20" y="284.80" width="1.30" height="6.00" fill="#b4b4b4"/>
<rect x="427.20" y="266.80" width="1.30" height="6.00" fill="#b4b4b4"/>
<rect x="423.20" y="305.90" width="1.10" height="12.00" fill="#c4c4c4"/>
<line x1="428.40" y1="355.80" x2="497.30" y2="355.80" stroke="#444" stroke-width="0.7"/>
<path d="M430.6 355.8v2.6M433.0 355.8v1.4M435.4 355.8v1.4M437.7 355.8v1.4M440.1 355.8v1.4M442.5 355.8v2.6M444.9 355.8v1.4M447.3 355.8v1.4M449.6 355.8v1.4M452.0 355.8v1.4M454.4 355.8v2.6M456.8 355.8v1.4M459.2 355.8v1.4M461.5 355.8v1.4M463.9 355.8v1.4M466.3 355.8v2.6M468.7 355.8v1.4M471.1 355.8v1.4M473.4 355.8v1.4M475.8 355.8v1.4M478.2 355.8v2.6M480.6 355.8v1.4M483.0 355.8v1.4M485.3 355.8v1.4M487.7 355.8v1.4M490.1 355.8v2.6M492.5 355.8v1.4M494.9 355.8v1.4M497.2 355.8v1.4" stroke="#333" stroke-width="0.5"/>
<text x="430.60" y="362.00" font-size="3.4" text-anchor="middle" fill="#555">0</text>
<text x="442.50" y="362.00" font-size="3.4" text-anchor="middle" fill="#555">20</text>
<text x="454.40" y="362.00" font-size="3.4" text-anchor="middle" fill="#555">40</text>
<text x="466.30" y="362.00" font-size="3.4" text-anchor="middle" fill="#555">60</text>
<text x="478.20" y="362.00" font-size="3.4" text-anchor="middle" fill="#555">80</text>
<text x="490.10" y="362.00" font-size="3.4" text-anchor="middle" fill="#555">100</text>
<polygon points="455.15,352.37 455.40,346.66 455.65,340.94 455.90,339.95 456.15,340.65 456.40,341.53 456.65,342.05 456.90,342.10 457.15,342.44 457.40,342.75 457.65,342.51 457.90,343.52 458.15,342.98 458.40,342.72 458.65,342.86 458.90,341.47 459.15,341.30 459.40,341.20 459.65,341.00 459.90,341.41 460.15,341.56 460.40,341.62 460.65,341.76 460.90,341.69 461.15,342.16 461.40,341.83 461.65,341.63 461.90,342.44 462.15,342.81 462.40,343.97 462.65,344.25 462.90,343.36 463.15,343.46 463.40,342.14 463.65,341.74 463.90,342.26 464.15,341.91 464.40,342.35 464.65,343.04 464.90,343.16 465.15,343.02 465.40,343.40 465.65,343.77 465.90,344.15 466.15,344.62 466.40,345.17 466.65,345.71 466.90,346.25 467.15,346.79 467.40,347.33 467.65,347.87 467.90,348.42 468.15,348.96 468.40,349.50 468.65,350.04 468.90,350.58 469.15,351.17 469.40,351.80 469.65,352.42 469.90,353.05 470.15,353.67 470.40,354.30 470.65,354.92 470.90,355.55" fill="#d4d4f6"/>
<polygon points="448.40,355.8 448.40,346.38 448.65,339.19 448.90,333.17 449.15,327.77 449.40,322.80 449.65,318.12 449.90,313.68 450.15,309.44 450.40,305.35 450.65,301.40 450.90,297.58 451.15,293.85 451.40,290.22 451.65,286.68 451.90,283.21 452.15,279.81 452.40,279.14 452.65,282.52 452.90,285.98 453.15,289.51 453.40,293.12 453.65,296.82 453.90,300.63 454.15,304.55 454.40,308.61 454.65,312.82 454.90,317.22 455.15,321.84 455.40,326.75 455.65,332.05 455.90,337.92 456.15,344.79 456.15,355.8" fill="#ef1010"/>
<polygon points="463.40,355.8 463.40,355.75 463.65,355.72 463.90,355.69 464.15,355.65 464.40,355.60 464.65,355.53 464.90,355.44 465.15,355.32 465.40,355.17 465.65,354.99 465.90,354.76 466.15,354.48 466.40,354.14 466.65,353.73 466.90,353.25 467.15,352.69 467.40,352.05 467.65,351.31 467.90,350.48 468.15,349.57 468.40,348.57 468.65,347.49 468.90,346.34 469.15,345.15 469.40,343.92 469.65,342.69 469.90,341.46 470.15,340.29 470.40,339.18 470.65,338.17 470.90,337.28 471.15,336.55 471.40,335.98 471.65,335.60 471.90,335.42 472.15,335.44 472.40,335.66 472.65,336.08 472.90,336.68 473.15,337.45 473.40,338.36 473.65,339.39 473.90,340.52 474.15,341.71 474.40,342.93 474.65,344.17 474.90,345.39 475.15,346.58 475.40,347.71 475.65,348.77 475.90,349.76 476.15,350.66 476.40,351.46 476.65,352.18 476.90,352.81 477.15,353.36 477.40,353.82 477.65,354.21 477.90,354.54 478.15,354.81 478.40,355.03 478.65,355.21 478.90,355.35 479.15,355.46 479.40,355.54 479.65,355.61 479.90,355.66 480.15,355.70 480.40,355.73 480.65,355.75 480.65,355.8" fill="#ef1010"/>
<polyline points="428.40,355.80 428.65,355.80 428.90,355.80 429.15,355.80 429.40,355.80 429.65,355.80 429.90,355.80 430.15,355.80 430.40,355.80 430.65,355.80 430.90,355.80 431.15,355.80 431.40,355.80 431.65,355.80 431.90,355.80 432.15,355.80 432.40,355.80 432.65,355.80 432.90,355.80 433.15,355.80 433.40,355.80 433.65,355.80 433.90,355.80 434.15,355.80 434.40,355.80 434.65,355.80 434.90,355.80 435.15,355.80 435.40,355.80 435.65,355.80 435.90,355.80 436.15,355.80 436.40,355.80 436.65,355.80 436.90,355.80 437.15,355.80 437.40,355.80 437.65,355.80 437.90,355.80 438.15,355.80 438.40,355.80 438.65,355.80 438.90,355.80 439.15,355.80 439.40,355.80 439.65,355.80 439.90,355.80 440.15,355.80 440.40,355.80 440.65,355.80 440.90,355.80 441.15,355.80 441.40,355.80 441.65,355.80 441.90,355.80 442.15,355.80 442.40,355.80 442.65,355.80 442.90,355.80 443.15,355.80 443.40,355.80 443.65,355.80 443.90,355.80 444.15,355.80 444.40,355.80 444.65,355.80 444.90,355.80 445.15,355.80 445.40,355.80 445.65,355.80 445.90,355.80 446.15,355.73 446.40,355.60 446.65,355.48 446.90,355.35 447.15,355.23 447.40,355.10 447.65,354.98 447.90,353.91 448.15,348.77 448.40,343.63 448.65,338.49 448.90,333.17 449.15,327.77 449.40,322.80 449.65,317.91 449.90,312.77 450.15,307.63 450.40,302.49 450.65,297.34 450.90,292.20 451.15,287.06 451.40,281.91 451.65,276.77 451.90,271.63 452.15,266.49 452.40,265.46 452.65,270.60 452.90,275.74 453.15,280.89 453.40,286.03 453.65,291.17 453.90,296.31 454.15,301.46 454.40,306.60 454.65,311.74 454.90,316.89 455.15,321.84 455.40,326.75 455.65,332.05 455.90,337.46 456.15,340.65 456.40,341.53 456.65,342.05 456.90,342.10 457.15,342.44 457.40,342.75 457.65,342.51 457.90,343.52 458.15,342.98 458.40,342.72 458.65,342.86 458.90,341.47 459.15,341.30 459.40,341.20 459.65,341.00 459.90,341.41 460.15,341.56 460.40,341.62 460.65,341.76 460.90,341.69 461.15,342.16 461.40,341.83 461.65,341.63 461.90,342.44 462.15,342.81 462.40,343.97 462.65,344.25 462.90,343.36 463.15,343.46 463.40,342.14 463.65,341.74 463.90,342.26 464.15,341.91 464.40,342.35 464.65,343.04 464.90,343.16 465.15,342.96 465.40,342.40 465.65,341.45 465.90,341.23 466.15,340.55 466.40,340.67 466.65,340.63 466.90,339.86 467.15,339.63 467.40,338.78 467.65,338.00 467.90,337.70 468.15,337.30 468.40,336.70 468.65,335.83 468.90,335.05 469.15,333.61 469.40,332.97 469.65,333.86 469.90,333.49 470.15,333.08 470.40,332.66 470.65,331.28 470.90,330.94 471.15,330.57 471.40,329.73 471.65,328.85 471.90,328.80 472.15,329.38 472.40,330.07 472.65,331.36 472.90,331.87 473.15,332.94 473.40,333.95 473.65,334.03 473.90,335.07 474.15,336.94 474.40,337.13 474.65,337.82 474.90,338.65 475.15,338.86 475.40,340.66 475.65,342.81 475.90,343.99 476.15,345.28 476.40,346.81 476.65,347.97 476.90,349.56 477.15,350.35 477.40,351.01 477.65,351.76 477.90,352.79 478.15,354.82 478.40,354.90 478.65,354.99 478.90,355.08 479.15,355.16 479.40,355.25 479.65,355.33 479.90,355.42 480.15,355.51 480.40,355.59 480.65,355.68 480.90,355.77 481.15,355.80 481.40,355.80 481.65,355.80 481.90,355.80 482.15,355.80 482.40,355.80 482.65,355.80 482.90,355.80 483.15,355.80 483.40,355.80 483.65,355.80 483.90,355.80 484.15,355.80 484.40,355.80 484.65,355.80 484.90,355.80 485.15,355.80 485.40,355.80 485.65,355.80 485.90,355.80 486.15,355.80 486.40,355.80 486.65,355.80 486.90,355.80 487.15,355.80 487.40,355.80 487.65,355.80 487.90,355.80 488.15,355.80 488.40,355.80 488.65,355.80 488.90,355.80 489.15,355.80 489.40,355.80 489.65,355.80 489.90,355.80 490.15,355.80 490.40,355.80 490.65,355.80 490.90,355.80 491.15,355.80 491.40,355.80 491.65,355.80 491.90,355.80 492.15,355.80 492.40,355.80 492.65,355.80 492.90,355.80 493.15,355.80 493.40,355.80 493.65,355.80 493.90,355.80 494.15,355.80 494.40,355.80 494.65,355.80 494.90,355.80 495.15,355.80 495.40,355.80 495.65,355.80 495.90,355.80 496.15,355.80 496.40,355.80 496.65,355.80 496.90,355.80 497.15,355.80" fill="none" stroke="#4a4a58" stroke-width="0.55"/>
<text x="451.70" y="273.20" font-size="7.4" textLength="44.5" lengthAdjust="spacingAndGlyphs" fill="#222" stroke="#222" stroke-width="0.06">GOG1:42.4%</text>
<text x="466.00" y="282.00" font-size="7.4" textLength="30.2" lengthAdjust="spacingAndGlyphs" fill="#222" stroke="#222" stroke-width="0.06">S: 36.6%</text>
<text x="455.00" y="290.90" font-size="7.4" textLength="41.2" lengthAdjust="spacingAndGlyphs" fill="#222" stroke="#222" stroke-width="0.06">G2M: 21.0%</text>
<text x="446.50" y="373.50" font-size="10" textLength="46.9" lengthAdjust="spacingAndGlyphs" fill="#1a1a1a" stroke="#1a1a1a" stroke-width="0.18">u50535OE</text>
<rect x="481.60" y="251.90" width="2.90" height="2.90" fill="#b01010"/>
<rect x="481.60" y="254.90" width="2.90" height="2.90" fill="#e01818"/>
<rect x="481.60" y="257.90" width="2.90" height="2.90" fill="#e0e0ea"/>
<rect x="485.90" y="252.30" width="3.60" height="1.80" fill="#a8a8f0"/>
<rect x="485.90" y="255.30" width="3.60" height="1.80" fill="#a8a8f0"/>
<rect x="485.90" y="258.30" width="7.00" height="1.80" fill="#a8a8f0"/>
<text x="464.95" y="365.60" font-size="3.6" text-anchor="middle" textLength="16.8" lengthAdjust="spacingAndGlyphs" fill="#666">Diameter FL-A</text>
<rect x="208.20" y="310.42" width="10.00" height="41.58" fill="#1010f2"/>
<line x1="213.20" y1="305.47" x2="213.20" y2="310.42" stroke="#1010f2" stroke-width="1.1"/>
<line x1="210.50" y1="305.47" x2="215.90" y2="305.47" stroke="#1010f2" stroke-width="1.1"/>
<rect x="222.20" y="285.67" width="10.40" height="66.33" fill="#f61010"/>
<rect x="246.30" y="318.34" width="10.20" height="33.66" fill="#1010f2"/>
<line x1="251.40" y1="313.39" x2="251.40" y2="318.34" stroke="#1010f2" stroke-width="1.1"/>
<line x1="248.70" y1="313.39" x2="254.10" y2="313.39" stroke="#1010f2" stroke-width="1.1"/>
<rect x="260.10" y="334.18" width="10.60" height="17.82" fill="#f61010"/>
<line x1="265.40" y1="329.73" x2="265.40" y2="334.18" stroke="#f61010" stroke-width="1.1"/>
<line x1="262.70" y1="329.73" x2="268.10" y2="329.73" stroke="#f61010" stroke-width="1.1"/>
<rect x="284.40" y="328.24" width="10.40" height="23.76" fill="#1010f2"/>
<line x1="289.60" y1="325.76" x2="289.60" y2="328.24" stroke="#1010f2" stroke-width="1.1"/>
<line x1="286.90" y1="325.76" x2="292.30" y2="325.76" stroke="#1010f2" stroke-width="1.1"/>
<rect x="298.80" y="336.16" width="10.60" height="15.84" fill="#f61010"/>
<line x1="304.10" y1="332.40" x2="304.10" y2="336.16" stroke="#f61010" stroke-width="1.1"/>
<line x1="301.40" y1="332.40" x2="306.80" y2="332.40" stroke="#f61010" stroke-width="1.1"/>
<line x1="200.90" y1="272.80" x2="200.90" y2="352.60" stroke="#111" stroke-width="1.3"/>
<line x1="200.30" y1="352.00" x2="315.80" y2="352.00" stroke="#111" stroke-width="1.4"/>
<line x1="220.10" y1="352.00" x2="220.10" y2="354.00" stroke="#111" stroke-width="0.9"/>
<line x1="258.60" y1="352.00" x2="258.60" y2="354.00" stroke="#111" stroke-width="0.9"/>
<line x1="296.60" y1="352.00" x2="296.60" y2="354.00" stroke="#111" stroke-width="0.9"/>
<line x1="198.50" y1="352.00" x2="200.90" y2="352.00" stroke="#111" stroke-width="0.9"/>
<text x="198.60" y="353.70" font-size="5.0" font-weight="bold" text-anchor="end" textLength="3.1" lengthAdjust="spacingAndGlyphs" fill="#333" stroke="#333" stroke-width="0.18">0</text>
<line x1="198.50" y1="332.20" x2="200.90" y2="332.20" stroke="#111" stroke-width="0.9"/>
<text x="198.60" y="333.90" font-size="5.0" font-weight="bold" text-anchor="end" textLength="6.2" lengthAdjust="spacingAndGlyphs" fill="#333" stroke="#333" stroke-width="0.18">20</text>
<line x1="198.50" y1="312.40" x2="200.90" y2="312.40" stroke="#111" stroke-width="0.9"/>
<text x="198.60" y="314.10" font-size="5.0" font-weight="bold" text-anchor="end" textLength="6.2" lengthAdjust="spacingAndGlyphs" fill="#333" stroke="#333" stroke-width="0.18">40</text>
<line x1="198.50" y1="292.60" x2="200.90" y2="292.60" stroke="#111" stroke-width="0.9"/>
<text x="198.60" y="294.30" font-size="5.0" font-weight="bold" text-anchor="end" textLength="6.2" lengthAdjust="spacingAndGlyphs" fill="#333" stroke="#333" stroke-width="0.18">60</text>
<line x1="198.50" y1="272.80" x2="200.90" y2="272.80" stroke="#111" stroke-width="0.9"/>
<text x="198.60" y="274.50" font-size="5.0" font-weight="bold" text-anchor="end" textLength="6.2" lengthAdjust="spacingAndGlyphs" fill="#333" stroke="#333" stroke-width="0.18">80</text>
<line x1="209.20" y1="280.60" x2="232.00" y2="280.60" stroke="#333" stroke-width="1.2"/>
<text x="219.95" y="280.20" font-size="9.0" text-anchor="middle" textLength="6.9" lengthAdjust="spacingAndGlyphs" fill="#333" stroke="#333" stroke-width="0.18">**</text>
<line x1="246.30" y1="309.00" x2="271.00" y2="309.00" stroke="#333" stroke-width="1.2"/>
<text x="258.50" y="308.20" font-size="9.0" text-anchor="middle" textLength="4.0" lengthAdjust="spacingAndGlyphs" fill="#333" stroke="#333" stroke-width="0.18">*</text>
<line x1="285.00" y1="323.20" x2="308.00" y2="323.20" stroke="#333" stroke-width="1.2"/>
<text x="296.80" y="322.40" font-size="9.0" text-anchor="middle" textLength="4.0" lengthAdjust="spacingAndGlyphs" fill="#333" stroke="#333" stroke-width="0.18">*</text>
<text x="205.30" y="365.10" font-size="10" textLength="27.9" lengthAdjust="spacingAndGlyphs" fill="#1a1a1a" stroke="#1a1a1a" stroke-width="0.18">GOG1</text>
<text x="256.50" y="365.10" font-size="10" textLength="5.3" lengthAdjust="spacingAndGlyphs" fill="#1a1a1a" stroke="#1a1a1a" stroke-width="0.18">S</text>
<text x="286.10" y="365.10" font-size="10" textLength="21.2" lengthAdjust="spacingAndGlyphs" fill="#1a1a1a" stroke="#1a1a1a" stroke-width="0.18">G2M</text>
<rect x="263.80" y="270.90" width="5.60" height="3.30" fill="#1010f2"/>
<text x="272.80" y="273.80" font-size="10" textLength="13.4" lengthAdjust="spacingAndGlyphs" fill="#1a1a1a" stroke="#1a1a1a" stroke-width="0.18">NC</text>
<rect x="263.80" y="279.30" width="5.60" height="3.30" fill="#f61010"/>
<text x="271.50" y="284.10" font-size="10" textLength="39.9" lengthAdjust="spacingAndGlyphs" fill="#1a1a1a" stroke="#1a1a1a" stroke-width="0.18">u50535si</text>
<text transform="translate(187.80,314.50) rotate(-90)" font-size="9.8" text-anchor="middle" textLength="79.8" lengthAdjust="spacingAndGlyphs" fill="#1a1a1a" stroke="#1a1a1a" stroke-width="0.18">Cell percentage %</text>
<text x="238.00" y="251.00" font-size="10" textLength="35.9" lengthAdjust="spacingAndGlyphs" fill="#1a1a1a" stroke="#1a1a1a" stroke-width="0.18">HCT116</text>
<rect x="544.00" y="289.75" width="10.40" height="67.25" fill="#1010f2"/>
<line x1="549.20" y1="289.21" x2="549.20" y2="289.75" stroke="#1010f2" stroke-width="1.1"/>
<line x1="546.50" y1="289.21" x2="551.90" y2="289.21" stroke="#1010f2" stroke-width="1.1"/>
<rect x="558.10" y="299.17" width="10.60" height="57.83" fill="#f61010"/>
<line x1="563.40" y1="298.76" x2="563.40" y2="299.17" stroke="#f61010" stroke-width="1.1"/>
<line x1="560.70" y1="298.76" x2="566.10" y2="298.76" stroke="#f61010" stroke-width="1.1"/>
<rect x="582.20" y="317.32" width="9.90" height="39.68" fill="#1010f2"/>
<line x1="587.15" y1="316.92" x2="587.15" y2="317.32" stroke="#1010f2" stroke-width="1.1"/>
<line x1="584.45" y1="316.92" x2="589.85" y2="316.92" stroke="#1010f2" stroke-width="1.1"/>
<rect x="596.20" y="307.24" width="10.40" height="49.76" fill="#f61010"/>
<line x1="601.40" y1="306.83" x2="601.40" y2="307.24" stroke="#f61010" stroke-width="1.1"/>
<line x1="598.70" y1="306.83" x2="604.10" y2="306.83" stroke="#f61010" stroke-width="1.1"/>
<rect x="620.10" y="328.35" width="9.90" height="28.65" fill="#1010f2"/>
<line x1="625.05" y1="327.95" x2="625.05" y2="328.35" stroke="#1010f2" stroke-width="1.1"/>
<line x1="622.35" y1="327.95" x2="627.75" y2="327.95" stroke="#1010f2" stroke-width="1.1"/>
<rect x="634.30" y="328.62" width="10.30" height="28.38" fill="#f61010"/>
<line x1="639.45" y1="328.22" x2="639.45" y2="328.62" stroke="#f61010" stroke-width="1.1"/>
<line x1="636.75" y1="328.22" x2="642.15" y2="328.22" stroke="#f61010" stroke-width="1.1"/>
<line x1="538.00" y1="276.30" x2="538.00" y2="357.60" stroke="#111" stroke-width="1.3"/>
<line x1="537.40" y1="357.00" x2="651.90" y2="357.00" stroke="#111" stroke-width="1.4"/>
<line x1="556.30" y1="357.00" x2="556.30" y2="359.00" stroke="#111" stroke-width="0.9"/>
<line x1="594.30" y1="357.00" x2="594.30" y2="359.00" stroke="#111" stroke-width="0.9"/>
<line x1="632.20" y1="357.00" x2="632.20" y2="359.00" stroke="#111" stroke-width="0.9"/>
<line x1="535.60" y1="357.00" x2="538.00" y2="357.00" stroke="#111" stroke-width="0.9"/>
<text x="535.70" y="358.70" font-size="5.0" font-weight="bold" text-anchor="end" textLength="3.1" lengthAdjust="spacingAndGlyphs" fill="#333" stroke="#333" stroke-width="0.18">0</text>
<line x1="535.60" y1="330.10" x2="538.00" y2="330.10" stroke="#111" stroke-width="0.9"/>
<text x="535.70" y="331.80" font-size="5.0" font-weight="bold" text-anchor="end" textLength="6.2" lengthAdjust="spacingAndGlyphs" fill="#333" stroke="#333" stroke-width="0.18">20</text>
<line x1="535.60" y1="303.20" x2="538.00" y2="303.20" stroke="#111" stroke-width="0.9"/>
<text x="535.70" y="304.90" font-size="5.0" font-weight="bold" text-anchor="end" textLength="6.2" lengthAdjust="spacingAndGlyphs" fill="#333" stroke="#333" stroke-width="0.18">40</text>
<line x1="535.60" y1="276.30" x2="538.00" y2="276.30" stroke="#111" stroke-width="0.9"/>
<text x="535.70" y="278.00" font-size="5.0" font-weight="bold" text-anchor="end" textLength="6.2" lengthAdjust="spacingAndGlyphs" fill="#333" stroke="#333" stroke-width="0.18">60</text>
<line x1="542.90" y1="283.60" x2="566.00" y2="283.60" stroke="#333" stroke-width="1.2"/>
<text x="553.70" y="282.20" font-size="9.0" text-anchor="middle" textLength="7.2" lengthAdjust="spacingAndGlyphs" fill="#333" stroke="#333" stroke-width="0.18">**</text>
<line x1="581.20" y1="299.60" x2="603.80" y2="299.60" stroke="#333" stroke-width="1.2"/>
<text x="592.50" y="298.60" font-size="9.0" text-anchor="middle" textLength="7.6" lengthAdjust="spacingAndGlyphs" fill="#333" stroke="#333" stroke-width="0.18">**</text>
<text x="540.80" y="369.90" font-size="10" textLength="27.8" lengthAdjust="spacingAndGlyphs" fill="#1a1a1a" stroke="#1a1a1a" stroke-width="0.18">GOG1</text>
<text x="592.10" y="369.90" font-size="10" textLength="6.1" lengthAdjust="spacingAndGlyphs" fill="#1a1a1a" stroke="#1a1a1a" stroke-width="0.18">S</text>
<text x="622.30" y="369.50" font-size="10" textLength="20.8" lengthAdjust="spacingAndGlyphs" fill="#1a1a1a" stroke="#1a1a1a" stroke-width="0.18">G2M</text>
<rect x="601.10" y="270.40" width="5.60" height="3.30" fill="#1010f2"/>
<text x="609.50" y="275.60" font-size="10" textLength="45.5" lengthAdjust="spacingAndGlyphs" fill="#1a1a1a" stroke="#1a1a1a" stroke-width="0.18">pcDNA3.1</text>
<rect x="601.10" y="278.80" width="5.60" height="3.30" fill="#f61010"/>
<text x="609.50" y="284.80" font-size="10" textLength="45.5" lengthAdjust="spacingAndGlyphs" fill="#1a1a1a" stroke="#1a1a1a" stroke-width="0.18">u50535OE</text>
<text transform="translate(525.20,319.50) rotate(-90)" font-size="9.8" text-anchor="middle" textLength="79.8" lengthAdjust="spacingAndGlyphs" fill="#1a1a1a" stroke="#1a1a1a" stroke-width="0.18">Cell percentage %</text>
<text x="575.90" y="255.00" font-size="10" textLength="23.8" lengthAdjust="spacingAndGlyphs" fill="#1a1a1a" stroke="#1a1a1a" stroke-width="0.18">DLD1</text>
</svg>
</body></html>
